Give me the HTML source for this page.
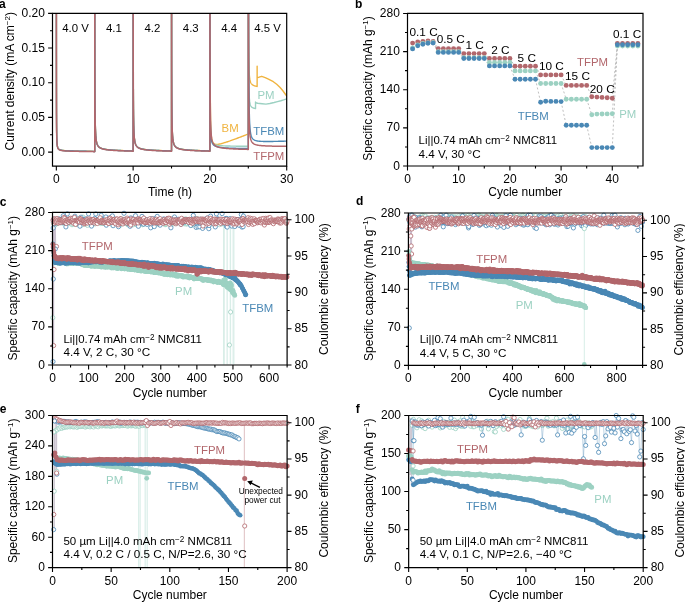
<!DOCTYPE html>
<html><head><meta charset="utf-8"><style>
html,body{margin:0;padding:0;background:#fff;}
svg{display:block;will-change:transform;}
text{font-family:"Liberation Sans",sans-serif;}
</style></head><body>
<svg width="685" height="602" viewBox="0 0 685 602">
<rect width="685" height="602" fill="#fff"/>
<defs><marker id="m0" markerWidth="10" markerHeight="10" refX="5" refY="5" markerUnits="userSpaceOnUse" overflow="visible"><circle cx="5" cy="5" r="2.1" fill="#fff" stroke="#9CD1C2" stroke-width="0.8"/></marker><marker id="m1" markerWidth="10" markerHeight="10" refX="5" refY="5" markerUnits="userSpaceOnUse" overflow="visible"><circle cx="5" cy="5" r="2.1" fill="#fff" stroke="#4A88B5" stroke-width="0.8"/></marker><marker id="m2" markerWidth="10" markerHeight="10" refX="5" refY="5" markerUnits="userSpaceOnUse" overflow="visible"><circle cx="5" cy="5" r="2.1" fill="#fff" stroke="#B2676C" stroke-width="0.8"/></marker><marker id="m3" markerWidth="10" markerHeight="10" refX="5" refY="5" markerUnits="userSpaceOnUse" overflow="visible"><circle cx="5" cy="5" r="2.4" fill="#9CD1C2"/></marker><marker id="m4" markerWidth="10" markerHeight="10" refX="5" refY="5" markerUnits="userSpaceOnUse" overflow="visible"><circle cx="5" cy="5" r="2.2" fill="#4A88B5"/></marker><marker id="m5" markerWidth="10" markerHeight="10" refX="5" refY="5" markerUnits="userSpaceOnUse" overflow="visible"><circle cx="5" cy="5" r="2.4" fill="#B2676C"/></marker><marker id="m6" markerWidth="10" markerHeight="10" refX="5" refY="5" markerUnits="userSpaceOnUse" overflow="visible"><circle cx="5" cy="5" r="2.3" fill="#9CD1C2"/></marker><marker id="m7" markerWidth="10" markerHeight="10" refX="5" refY="5" markerUnits="userSpaceOnUse" overflow="visible"><circle cx="5" cy="5" r="2.3" fill="#4A88B5"/></marker><marker id="m8" markerWidth="10" markerHeight="10" refX="5" refY="5" markerUnits="userSpaceOnUse" overflow="visible"><circle cx="5" cy="5" r="2.5" fill="#B2676C"/></marker><marker id="m9" markerWidth="10" markerHeight="10" refX="5" refY="5" markerUnits="userSpaceOnUse" overflow="visible"><circle cx="5" cy="5" r="2.5" fill="#9CD1C2"/></marker><marker id="m10" markerWidth="10" markerHeight="10" refX="5" refY="5" markerUnits="userSpaceOnUse" overflow="visible"><circle cx="5" cy="5" r="2.4" fill="#4A88B5"/></marker></defs>
<clipPath id="ca"><rect x="52.5" y="13.4" width="234.2" height="152.7"/></clipPath>
<g clip-path="url(#ca)">
<path d="M56.34,-16.60L56.37,-89.92L56.37,-74.34L56.38,-31.37L56.39,16.85L56.41,55.69L56.44,83.09L56.47,101.68L56.51,114.30L56.56,123.02L56.61,129.18L56.68,133.65L56.75,136.95L56.83,139.45L56.91,141.38L57.01,142.88L57.11,144.08L57.23,145.05L57.35,145.84L57.48,146.49L57.62,147.03L57.77,147.48L57.93,147.87L58.10,148.20L58.28,148.48L58.46,148.73L58.66,148.94L58.87,149.13L59.08,149.30L59.31,149.44L59.55,149.57L59.79,149.69L60.05,149.79L60.31,149.89L60.59,149.97L60.88,150.05L61.17,150.12L61.48,150.19L61.80,150.24L62.13,150.30L62.46,150.35L62.81,150.40L63.17,150.44L63.54,150.48L63.92,150.52L64.32,150.55L64.72,150.58L65.13,150.62L65.56,150.65L65.99,150.67L66.44,150.70L66.90,150.73L67.37,150.75L67.85,150.77L68.34,150.79L68.84,150.82L69.35,150.84L69.88,150.86L70.41,150.88L70.96,150.89L71.52,150.91L72.09,150.93L72.67,150.95L73.27,150.96L73.87,150.98L74.49,151.00L75.12,151.01L75.76,151.03L76.41,151.04L77.08,151.06L77.75,151.07L78.44,151.09L79.14,151.10L79.85,151.12L80.57,151.13L81.31,151.15L82.06,151.16L82.82,151.18L83.59,151.19L84.37,151.20L85.17,151.22L85.98,151.23L86.80,151.25L87.63,151.26L88.47,151.27L89.33,151.29L90.20,151.30L91.08,151.32L91.98,151.33L92.88,151.34L93.80,151.36L94.73,151.37L94.73,-16.60L94.76,-208.33L94.77,-189.19L94.77,-135.12L94.79,-71.55L94.80,-17.25L94.83,23.50L94.86,52.86L94.90,73.94L94.95,89.28L95.01,100.65L95.07,109.25L95.14,115.88L95.22,121.09L95.31,125.23L95.40,128.59L95.51,131.34L95.62,133.61L95.74,135.52L95.88,137.13L96.02,138.51L96.17,139.69L96.32,140.71L96.49,141.61L96.67,142.39L96.86,143.08L97.05,143.69L97.26,144.23L97.48,144.72L97.70,145.15L97.94,145.54L98.19,145.90L98.44,146.22L98.71,146.52L98.98,146.79L99.27,147.03L99.57,147.26L99.87,147.47L100.19,147.66L100.52,147.84L100.86,148.00L101.21,148.15L101.57,148.30L101.94,148.43L102.32,148.55L102.71,148.67L103.11,148.78L103.53,148.88L103.95,148.98L104.39,149.07L104.83,149.16L105.29,149.24L105.76,149.32L106.24,149.39L106.73,149.46L107.23,149.53L107.75,149.59L108.27,149.66L108.81,149.71L109.36,149.77L109.91,149.82L110.49,149.87L111.07,149.92L111.66,149.97L112.27,150.02L112.88,150.06L113.51,150.10L114.15,150.15L114.81,150.19L115.47,150.22L116.15,150.26L116.83,150.30L117.53,150.33L118.24,150.37L118.97,150.40L119.70,150.43L120.45,150.47L121.21,150.50L121.98,150.53L122.77,150.56L123.56,150.59L124.37,150.62L125.19,150.65L126.02,150.67L126.87,150.70L127.72,150.73L128.59,150.75L129.47,150.78L130.37,150.81L131.28,150.83L132.19,150.86L133.13,150.88L133.13,-16.60L133.16,-208.33L133.16,-189.19L133.17,-135.12L133.18,-71.55L133.20,-17.25L133.22,23.50L133.26,52.86L133.30,73.94L133.34,89.28L133.40,100.65L133.46,109.25L133.53,115.88L133.61,121.09L133.70,125.23L133.80,128.59L133.90,131.34L134.02,133.61L134.14,135.52L134.27,137.13L134.41,138.51L134.56,139.69L134.72,140.71L134.89,141.61L135.06,142.39L135.25,143.08L135.45,143.69L135.65,144.23L135.87,144.72L136.10,145.15L136.33,145.54L136.58,145.90L136.83,146.22L137.10,146.52L137.38,146.79L137.66,147.03L137.96,147.26L138.27,147.47L138.58,147.66L138.91,147.84L139.25,148.00L139.60,148.15L139.96,148.30L140.33,148.43L140.71,148.55L141.10,148.67L141.51,148.78L141.92,148.88L142.34,148.98L142.78,149.07L143.23,149.16L143.68,149.24L144.15,149.32L144.63,149.39L145.12,149.46L145.63,149.53L146.14,149.59L146.66,149.66L147.20,149.71L147.75,149.77L148.31,149.82L148.88,149.87L149.46,149.92L150.06,149.97L150.66,150.02L151.28,150.06L151.91,150.10L152.55,150.15L153.20,150.19L153.86,150.22L154.54,150.26L155.23,150.30L155.93,150.33L156.64,150.37L157.36,150.40L158.10,150.43L158.84,150.47L159.60,150.50L160.37,150.53L161.16,150.56L161.95,150.59L162.76,150.62L163.58,150.65L164.42,150.67L165.26,150.70L166.12,150.73L166.99,150.75L167.87,150.78L168.76,150.81L169.67,150.83L170.59,150.86L171.52,150.88L171.52,-16.60L171.55,-208.33L171.55,-189.19L171.56,-135.12L171.57,-71.55L171.59,-17.25L171.62,23.50L171.65,52.86L171.69,73.94L171.74,89.28L171.79,100.65L171.86,109.25L171.93,115.88L172.01,121.09L172.09,125.23L172.19,128.59L172.30,131.34L172.41,133.61L172.53,135.52L172.66,137.13L172.80,138.51L172.95,139.69L173.11,140.71L173.28,141.61L173.46,142.39L173.64,143.08L173.84,143.69L174.05,144.23L174.26,144.72L174.49,145.15L174.73,145.54L174.97,145.90L175.23,146.22L175.49,146.52L175.77,146.79L176.06,147.03L176.35,147.26L176.66,147.47L176.98,147.66L177.31,147.84L177.64,148.00L177.99,148.15L178.35,148.30L178.72,148.43L179.10,148.55L179.50,148.67L179.90,148.78L180.31,148.88L180.74,148.98L181.17,149.07L181.62,149.16L182.08,149.24L182.55,149.32L183.03,149.39L183.52,149.46L184.02,149.53L184.53,149.59L185.06,149.66L185.59,149.71L186.14,149.77L186.70,149.82L187.27,149.87L187.85,149.92L188.45,149.97L189.05,150.02L189.67,150.06L190.30,150.10L190.94,150.15L191.59,150.19L192.26,150.22L192.93,150.26L193.62,150.30L194.32,150.33L195.03,150.37L195.75,150.40L196.49,150.43L197.24,150.47L198.00,150.50L198.77,150.53L199.55,150.56L200.35,150.59L201.16,150.62L201.98,150.65L202.81,150.67L203.65,150.70L204.51,150.73L205.38,150.75L206.26,150.78L207.16,150.81L208.06,150.83L208.98,150.86L209.91,150.88L209.91,-16.60L209.94,-1216.96L209.95,-1113.38L209.95,-834.80L209.97,-536.31L209.98,-309.58L210.01,-159.21L210.04,-63.19L210.08,-1.56L210.13,38.88L210.19,66.15L210.25,85.05L210.32,98.50L210.40,108.29L210.49,115.57L210.58,121.10L210.69,125.36L210.80,128.70L210.92,131.35L211.06,133.48L211.20,135.21L211.35,136.63L211.51,137.81L211.67,138.79L211.85,139.62L212.04,140.32L212.23,140.93L212.44,141.44L212.66,141.89L212.88,142.28L213.12,142.61L213.37,142.91L213.62,143.17L213.89,143.40L214.16,143.61L214.45,143.79L214.75,143.95L215.05,144.10L215.37,144.23L215.70,144.35L216.04,144.46L216.39,144.48L216.75,144.47L217.12,144.45L217.50,144.41L217.89,144.36L218.29,144.30L218.71,144.23L219.13,144.15L219.57,144.05L220.01,143.95L220.47,143.84L220.94,143.73L221.42,143.60L221.91,143.47L222.41,143.33L222.93,143.18L223.45,143.03L223.99,142.87L224.54,142.70L225.10,142.52L225.67,142.34L226.25,142.15L226.84,141.96L227.45,141.76L228.06,141.55L228.69,141.33L229.33,141.11L229.99,140.89L230.65,140.65L231.33,140.41L232.01,140.17L232.71,139.92L233.42,139.66L234.15,139.40L234.88,139.13L235.63,138.85L236.39,138.57L237.16,138.28L237.95,137.99L238.74,137.69L239.55,137.38L240.37,137.07L241.20,136.75L242.05,136.42L242.90,136.09L243.77,135.75L244.66,135.41L245.55,135.06L246.46,134.70L247.38,134.34L248.31,133.97L248.31,-16.60L248.34,-345.47L248.34,-330.77L248.34,-285.29L248.35,-223.10L248.36,-161.02L248.37,-108.13L248.39,-66.42L248.42,-34.57L248.44,-10.47L248.47,7.85L248.51,21.89L248.55,32.80L248.59,41.37L248.64,48.20L248.70,53.71L248.75,58.20L248.82,61.90L248.89,64.98L248.96,67.57L249.04,69.76L249.12,71.63L249.21,73.23L249.31,74.62L249.40,75.82L249.51,76.88L249.62,77.81L249.74,78.63L249.86,79.36L249.98,80.00L250.11,80.59L250.25,81.11L250.40,81.57L250.54,82.00L250.70,82.38L250.86,82.73L251.03,83.05L251.20,83.34L251.38,83.61L251.56,83.85L251.75,84.08L251.94,84.29L252.14,84.48L252.35,84.66L252.57,84.82L252.78,84.97L253.01,85.12L253.24,85.25L253.48,85.37L253.72,85.49L253.97,85.60L254.23,85.70L254.49,85.79L254.76,85.88L255.04,85.97L255.32,86.05L255.60,86.12L255.90,86.19L256.20,86.26L256.50,86.32L256.82,86.38L257.14,86.44L257.14,66.10L257.14,77.48L259.06,77.20L261.74,76.30L265.20,77.55L268.42,79.21L273.34,81.71L276.72,84.27L280.10,87.46L282.86,90.72L285.93,95.02L287.47,96.62" fill="none" stroke="#F0B440" stroke-width="1.4" stroke-linejoin="round"/>
<path d="M56.34,-16.60L56.37,-89.85L56.37,-74.27L56.38,-31.30L56.39,16.92L56.41,55.76L56.44,83.16L56.47,101.75L56.51,114.37L56.56,123.08L56.61,129.25L56.68,133.71L56.75,137.02L56.83,139.52L56.91,141.45L57.01,142.95L57.11,144.15L57.23,145.12L57.35,145.91L57.48,146.56L57.62,147.10L57.77,147.55L57.93,147.94L58.10,148.27L58.28,148.55L58.46,148.80L58.66,149.01L58.87,149.20L59.08,149.37L59.31,149.51L59.55,149.64L59.79,149.76L60.05,149.86L60.31,149.96L60.59,150.04L60.88,150.12L61.17,150.19L61.48,150.25L61.80,150.31L62.13,150.37L62.46,150.42L62.81,150.46L63.17,150.51L63.54,150.55L63.92,150.59L64.32,150.62L64.72,150.65L65.13,150.69L65.56,150.71L65.99,150.74L66.44,150.77L66.90,150.79L67.37,150.82L67.85,150.84L68.34,150.86L68.84,150.89L69.35,150.91L69.88,150.93L70.41,150.95L70.96,150.96L71.52,150.98L72.09,151.00L72.67,151.02L73.27,151.03L73.87,151.05L74.49,151.07L75.12,151.08L75.76,151.10L76.41,151.11L77.08,151.13L77.75,151.14L78.44,151.16L79.14,151.17L79.85,151.19L80.57,151.20L81.31,151.22L82.06,151.23L82.82,151.24L83.59,151.26L84.37,151.27L85.17,151.29L85.98,151.30L86.80,151.32L87.63,151.33L88.47,151.34L89.33,151.36L90.20,151.37L91.08,151.39L91.98,151.40L92.88,151.41L93.80,151.43L94.73,151.44L94.73,-16.60L94.76,-208.26L94.77,-189.12L94.77,-135.05L94.79,-71.48L94.80,-17.18L94.83,23.57L94.86,52.93L94.90,74.01L94.95,89.35L95.01,100.72L95.07,109.32L95.14,115.95L95.22,121.16L95.31,125.30L95.40,128.66L95.51,131.41L95.62,133.68L95.74,135.59L95.88,137.20L96.02,138.58L96.17,139.76L96.32,140.78L96.49,141.68L96.67,142.46L96.86,143.15L97.05,143.76L97.26,144.30L97.48,144.78L97.70,145.22L97.94,145.61L98.19,145.97L98.44,146.29L98.71,146.59L98.98,146.85L99.27,147.10L99.57,147.33L99.87,147.53L100.19,147.73L100.52,147.90L100.86,148.07L101.21,148.22L101.57,148.37L101.94,148.50L102.32,148.62L102.71,148.74L103.11,148.85L103.53,148.95L103.95,149.05L104.39,149.14L104.83,149.23L105.29,149.31L105.76,149.39L106.24,149.46L106.73,149.53L107.23,149.60L107.75,149.66L108.27,149.72L108.81,149.78L109.36,149.84L109.91,149.89L110.49,149.94L111.07,149.99L111.66,150.04L112.27,150.09L112.88,150.13L113.51,150.17L114.15,150.21L114.81,150.25L115.47,150.29L116.15,150.33L116.83,150.37L117.53,150.40L118.24,150.44L118.97,150.47L119.70,150.50L120.45,150.54L121.21,150.57L121.98,150.60L122.77,150.63L123.56,150.66L124.37,150.69L125.19,150.71L126.02,150.74L126.87,150.77L127.72,150.80L128.59,150.82L129.47,150.85L130.37,150.88L131.28,150.90L132.19,150.93L133.13,150.95L133.13,-16.60L133.16,-208.26L133.16,-189.12L133.17,-135.05L133.18,-71.48L133.20,-17.18L133.22,23.57L133.26,52.93L133.30,74.01L133.34,89.35L133.40,100.72L133.46,109.32L133.53,115.95L133.61,121.16L133.70,125.30L133.80,128.66L133.90,131.41L134.02,133.68L134.14,135.59L134.27,137.20L134.41,138.58L134.56,139.76L134.72,140.78L134.89,141.68L135.06,142.46L135.25,143.15L135.45,143.76L135.65,144.30L135.87,144.78L136.10,145.22L136.33,145.61L136.58,145.97L136.83,146.29L137.10,146.59L137.38,146.85L137.66,147.10L137.96,147.33L138.27,147.53L138.58,147.73L138.91,147.90L139.25,148.07L139.60,148.22L139.96,148.37L140.33,148.50L140.71,148.62L141.10,148.74L141.51,148.85L141.92,148.95L142.34,149.05L142.78,149.14L143.23,149.23L143.68,149.31L144.15,149.39L144.63,149.46L145.12,149.53L145.63,149.60L146.14,149.66L146.66,149.72L147.20,149.78L147.75,149.84L148.31,149.89L148.88,149.94L149.46,149.99L150.06,150.04L150.66,150.09L151.28,150.13L151.91,150.17L152.55,150.21L153.20,150.25L153.86,150.29L154.54,150.33L155.23,150.37L155.93,150.40L156.64,150.44L157.36,150.47L158.10,150.50L158.84,150.54L159.60,150.57L160.37,150.60L161.16,150.63L161.95,150.66L162.76,150.69L163.58,150.71L164.42,150.74L165.26,150.77L166.12,150.80L166.99,150.82L167.87,150.85L168.76,150.88L169.67,150.90L170.59,150.93L171.52,150.95L171.52,-16.60L171.55,-208.26L171.55,-189.12L171.56,-135.05L171.57,-71.48L171.59,-17.18L171.62,23.57L171.65,52.93L171.69,74.01L171.74,89.35L171.79,100.72L171.86,109.32L171.93,115.95L172.01,121.16L172.09,125.30L172.19,128.66L172.30,131.41L172.41,133.68L172.53,135.59L172.66,137.20L172.80,138.58L172.95,139.76L173.11,140.78L173.28,141.68L173.46,142.46L173.64,143.15L173.84,143.76L174.05,144.30L174.26,144.78L174.49,145.22L174.73,145.61L174.97,145.97L175.23,146.29L175.49,146.59L175.77,146.85L176.06,147.10L176.35,147.33L176.66,147.53L176.98,147.73L177.31,147.90L177.64,148.07L177.99,148.22L178.35,148.37L178.72,148.50L179.10,148.62L179.50,148.74L179.90,148.85L180.31,148.95L180.74,149.05L181.17,149.14L181.62,149.23L182.08,149.31L182.55,149.39L183.03,149.46L183.52,149.53L184.02,149.60L184.53,149.66L185.06,149.72L185.59,149.78L186.14,149.84L186.70,149.89L187.27,149.94L187.85,149.99L188.45,150.04L189.05,150.09L189.67,150.13L190.30,150.17L190.94,150.21L191.59,150.25L192.26,150.29L192.93,150.33L193.62,150.37L194.32,150.40L195.03,150.44L195.75,150.47L196.49,150.50L197.24,150.54L198.00,150.57L198.77,150.60L199.55,150.63L200.35,150.66L201.16,150.69L201.98,150.71L202.81,150.74L203.65,150.77L204.51,150.80L205.38,150.82L206.26,150.85L207.16,150.88L208.06,150.90L208.98,150.93L209.91,150.95L209.91,-16.60L209.94,-165.51L209.95,-147.10L209.95,-95.72L209.97,-36.71L209.98,12.25L210.01,47.87L210.04,72.77L210.08,90.15L210.13,102.48L210.19,111.41L210.25,118.01L210.32,123.00L210.40,126.84L210.49,129.85L210.58,132.25L210.69,134.18L210.80,135.76L210.92,137.07L211.06,138.16L211.20,139.08L211.35,139.86L211.51,140.52L211.67,141.10L211.85,141.60L212.04,142.03L212.23,142.42L212.44,142.75L212.66,143.05L212.88,143.32L213.12,143.56L213.37,143.77L213.62,143.96L213.89,144.13L214.16,144.29L214.45,144.43L214.75,144.56L215.05,144.68L215.37,144.79L215.70,144.89L216.04,144.98L216.39,145.06L216.75,145.14L217.12,145.21L217.50,145.28L217.89,145.34L218.29,145.40L218.71,145.45L219.13,145.50L219.57,145.55L220.01,145.60L220.47,145.64L220.94,145.68L221.42,145.71L221.91,145.75L222.41,145.78L222.93,145.81L223.45,145.84L223.99,145.86L224.54,145.89L225.10,145.91L225.67,145.94L226.25,145.96L226.84,145.98L227.45,146.00L228.06,146.02L228.69,146.03L229.33,146.05L229.99,146.07L230.65,146.08L231.33,146.10L232.01,146.11L232.71,146.12L233.42,146.14L234.15,146.15L234.88,146.16L235.63,146.17L236.39,146.18L237.16,146.19L237.95,146.20L238.74,146.21L239.55,146.22L240.37,146.23L241.20,146.24L242.05,146.25L242.90,146.25L243.77,146.26L244.66,146.27L245.55,146.28L246.46,146.28L247.38,146.29L248.31,146.29L248.31,-16.60L248.34,-980.80L248.34,-941.48L248.34,-818.84L248.35,-649.50L248.36,-479.91L248.37,-336.64L248.38,-225.94L248.40,-143.94L248.42,-84.09L248.45,-40.39L248.48,-8.24L248.51,15.70L248.55,33.77L248.59,47.59L248.63,58.31L248.68,66.72L248.73,73.41L248.79,78.78L248.85,83.15L248.91,86.73L248.98,89.69L249.05,92.16L249.13,94.23L249.21,95.99L249.29,97.48L249.38,98.76L249.48,99.87L249.58,100.82L249.68,101.66L249.79,102.38L249.90,103.02L250.02,103.59L250.14,104.09L250.27,104.53L250.40,104.93L250.53,105.28L250.67,105.60L250.82,105.89L250.97,106.15L251.12,106.38L251.28,106.59L251.45,106.78L251.62,106.96L251.79,107.12L251.97,107.27L252.15,107.40L252.34,107.52L252.54,107.64L252.74,107.74L252.94,107.84L253.15,107.93L253.36,108.01L253.58,108.09L253.81,108.16L254.04,108.23L254.27,108.29L254.51,108.35L254.76,108.40L255.01,108.45L255.26,108.50L255.52,108.54L255.52,102.02L255.99,102.72L257.60,103.27L262.13,103.76L265.97,104.10L269.81,103.55L274.11,102.51L277.49,101.61L280.86,100.78L283.63,99.94L285.93,99.11L287.47,98.70" fill="none" stroke="#9CD1C2" stroke-width="1.4" stroke-linejoin="round"/>
<path d="M56.34,-16.60L56.37,-89.78L56.37,-74.20L56.38,-31.23L56.39,16.99L56.41,55.83L56.44,83.23L56.47,101.82L56.51,114.43L56.56,123.15L56.61,129.32L56.68,133.78L56.75,137.09L56.83,139.59L56.91,141.51L57.01,143.02L57.11,144.22L57.23,145.19L57.35,145.97L57.48,146.62L57.62,147.17L57.77,147.62L57.93,148.01L58.10,148.34L58.28,148.62L58.46,148.86L58.66,149.08L58.87,149.27L59.08,149.43L59.31,149.58L59.55,149.71L59.79,149.82L60.05,149.93L60.31,150.02L60.59,150.10L60.88,150.18L61.17,150.25L61.48,150.31L61.80,150.37L62.13,150.43L62.46,150.48L62.81,150.52L63.17,150.56L63.54,150.60L63.92,150.64L64.32,150.68L64.72,150.71L65.13,150.74L65.56,150.77L65.99,150.79L66.44,150.82L66.90,150.84L67.37,150.87L67.85,150.89L68.34,150.91L68.84,150.93L69.35,150.95L69.88,150.97L70.41,150.99L70.96,151.01L71.52,151.02L72.09,151.04L72.67,151.06L73.27,151.07L73.87,151.09L74.49,151.10L75.12,151.12L75.76,151.13L76.41,151.15L77.08,151.16L77.75,151.17L78.44,151.19L79.14,151.20L79.85,151.21L80.57,151.23L81.31,151.24L82.06,151.25L82.82,151.27L83.59,151.28L84.37,151.29L85.17,151.30L85.98,151.32L86.80,151.33L87.63,151.34L88.47,151.35L89.33,151.37L90.20,151.38L91.08,151.39L91.98,151.40L92.88,151.42L93.80,151.43L94.73,151.44L94.73,-16.60L94.76,-208.19L94.77,-189.05L94.77,-134.98L94.79,-71.41L94.80,-17.12L94.83,23.64L94.86,52.99L94.90,74.07L94.95,89.42L95.01,100.79L95.07,109.39L95.14,116.02L95.22,121.22L95.31,125.37L95.40,128.73L95.51,131.47L95.62,133.75L95.74,135.66L95.88,137.27L96.02,138.65L96.17,139.83L96.32,140.85L96.49,141.74L96.67,142.52L96.86,143.21L97.05,143.82L97.26,144.36L97.48,144.85L97.70,145.28L97.94,145.68L98.19,146.03L98.44,146.36L98.71,146.65L98.98,146.92L99.27,147.16L99.57,147.39L99.87,147.59L100.19,147.79L100.52,147.96L100.86,148.13L101.21,148.28L101.57,148.42L101.94,148.56L102.32,148.68L102.71,148.80L103.11,148.90L103.53,149.01L103.95,149.10L104.39,149.19L104.83,149.28L105.29,149.36L105.76,149.44L106.24,149.51L106.73,149.58L107.23,149.65L107.75,149.71L108.27,149.77L108.81,149.83L109.36,149.88L109.91,149.93L110.49,149.98L111.07,150.03L111.66,150.08L112.27,150.12L112.88,150.17L113.51,150.21L114.15,150.25L114.81,150.29L115.47,150.33L116.15,150.36L116.83,150.40L117.53,150.43L118.24,150.46L118.97,150.50L119.70,150.53L120.45,150.56L121.21,150.59L121.98,150.62L122.77,150.65L123.56,150.67L124.37,150.70L125.19,150.73L126.02,150.76L126.87,150.78L127.72,150.81L128.59,150.83L129.47,150.86L130.37,150.88L131.28,150.90L132.19,150.93L133.13,150.95L133.13,-16.60L133.16,-208.19L133.16,-189.05L133.17,-134.98L133.18,-71.41L133.20,-17.12L133.22,23.64L133.26,52.99L133.30,74.07L133.34,89.42L133.40,100.79L133.46,109.39L133.53,116.02L133.61,121.22L133.70,125.37L133.80,128.73L133.90,131.47L134.02,133.75L134.14,135.66L134.27,137.27L134.41,138.65L134.56,139.83L134.72,140.85L134.89,141.74L135.06,142.52L135.25,143.21L135.45,143.82L135.65,144.36L135.87,144.85L136.10,145.28L136.33,145.68L136.58,146.03L136.83,146.36L137.10,146.65L137.38,146.92L137.66,147.16L137.96,147.39L138.27,147.59L138.58,147.79L138.91,147.96L139.25,148.13L139.60,148.28L139.96,148.42L140.33,148.56L140.71,148.68L141.10,148.80L141.51,148.90L141.92,149.01L142.34,149.10L142.78,149.19L143.23,149.28L143.68,149.36L144.15,149.44L144.63,149.51L145.12,149.58L145.63,149.65L146.14,149.71L146.66,149.77L147.20,149.83L147.75,149.88L148.31,149.93L148.88,149.98L149.46,150.03L150.06,150.08L150.66,150.12L151.28,150.17L151.91,150.21L152.55,150.25L153.20,150.29L153.86,150.33L154.54,150.36L155.23,150.40L155.93,150.43L156.64,150.46L157.36,150.50L158.10,150.53L158.84,150.56L159.60,150.59L160.37,150.62L161.16,150.65L161.95,150.67L162.76,150.70L163.58,150.73L164.42,150.76L165.26,150.78L166.12,150.81L166.99,150.83L167.87,150.86L168.76,150.88L169.67,150.90L170.59,150.93L171.52,150.95L171.52,-16.60L171.55,-208.19L171.55,-189.05L171.56,-134.98L171.57,-71.41L171.59,-17.12L171.62,23.64L171.65,52.99L171.69,74.07L171.74,89.42L171.79,100.79L171.86,109.39L171.93,116.02L172.01,121.22L172.09,125.37L172.19,128.73L172.30,131.47L172.41,133.75L172.53,135.66L172.66,137.27L172.80,138.65L172.95,139.83L173.11,140.85L173.28,141.74L173.46,142.52L173.64,143.21L173.84,143.82L174.05,144.36L174.26,144.85L174.49,145.28L174.73,145.68L174.97,146.03L175.23,146.36L175.49,146.65L175.77,146.92L176.06,147.16L176.35,147.39L176.66,147.59L176.98,147.79L177.31,147.96L177.64,148.13L177.99,148.28L178.35,148.42L178.72,148.56L179.10,148.68L179.50,148.80L179.90,148.90L180.31,149.01L180.74,149.10L181.17,149.19L181.62,149.28L182.08,149.36L182.55,149.44L183.03,149.51L183.52,149.58L184.02,149.65L184.53,149.71L185.06,149.77L185.59,149.83L186.14,149.88L186.70,149.93L187.27,149.98L187.85,150.03L188.45,150.08L189.05,150.12L189.67,150.17L190.30,150.21L190.94,150.25L191.59,150.29L192.26,150.33L192.93,150.36L193.62,150.40L194.32,150.43L195.03,150.46L195.75,150.50L196.49,150.53L197.24,150.56L198.00,150.59L198.77,150.62L199.55,150.65L200.35,150.67L201.16,150.70L201.98,150.73L202.81,150.76L203.65,150.78L204.51,150.81L205.38,150.83L206.26,150.86L207.16,150.88L208.06,150.90L208.98,150.93L209.91,150.95L209.91,-16.60L209.94,-150.45L209.95,-134.51L209.95,-89.45L209.97,-36.47L209.98,8.77L210.01,42.74L210.04,67.20L210.08,84.77L210.13,97.55L210.19,107.03L210.25,114.19L210.32,119.72L210.40,124.05L210.49,127.51L210.58,130.30L210.69,132.59L210.80,134.49L210.92,136.08L211.06,137.42L211.20,138.57L211.35,139.55L211.51,140.40L211.67,141.14L211.85,141.79L212.04,142.36L212.23,142.87L212.44,143.32L212.66,143.72L212.88,144.09L213.12,144.41L213.37,144.71L213.62,144.97L213.89,145.22L214.16,145.44L214.45,145.64L214.75,145.82L215.05,146.00L215.37,146.15L215.70,146.30L216.04,146.43L216.39,146.56L216.75,146.67L217.12,146.78L217.50,146.88L217.89,146.98L218.29,147.06L218.71,147.15L219.13,147.22L219.57,147.30L220.01,147.36L220.47,147.43L220.94,147.49L221.42,147.55L221.91,147.60L222.41,147.65L222.93,147.70L223.45,147.75L223.99,147.79L224.54,147.83L225.10,147.87L225.67,147.91L226.25,147.95L226.84,147.98L227.45,148.01L228.06,148.05L228.69,148.08L229.33,148.10L229.99,148.13L230.65,148.16L231.33,148.18L232.01,148.21L232.71,148.23L233.42,148.25L234.15,148.28L234.88,148.30L235.63,148.32L236.39,148.34L237.16,148.36L237.95,148.37L238.74,148.39L239.55,148.41L240.37,148.42L241.20,148.44L242.05,148.46L242.90,148.47L243.77,148.49L244.66,148.50L245.55,148.51L246.46,148.53L247.38,148.54L248.31,148.55L248.31,-16.60L248.34,-3802.62L248.34,-3474.67L248.35,-2608.07L248.36,-1708.35L248.38,-1050.11L248.41,-629.60L248.44,-370.23L248.48,-208.89L248.53,-105.96L248.58,-38.30L248.65,7.54L248.72,39.46L248.80,62.27L248.89,78.93L248.99,91.37L249.10,100.81L249.21,108.09L249.34,113.80L249.47,118.33L249.62,121.96L249.77,124.91L249.93,127.33L250.10,129.33L250.28,130.99L250.47,132.39L250.67,133.57L250.88,134.58L251.11,135.44L251.34,136.18L251.58,136.82L251.83,137.37L252.09,137.85L252.36,138.27L252.64,138.64L252.93,138.97L253.24,139.26L253.55,139.51L253.87,139.74L254.21,139.94L254.55,140.12L254.91,140.28L255.28,140.42L255.65,140.55L256.04,140.67L256.44,140.77L256.85,140.86L257.28,140.94L257.71,141.02L258.15,141.08L258.61,141.14L259.08,141.19L259.55,141.24L260.04,141.28L260.54,141.32L261.06,141.35L261.58,141.38L262.12,141.40L262.66,141.42L263.22,141.44L263.79,141.45L264.37,141.46L264.97,141.47L265.57,141.48L266.19,141.48L266.82,141.49L267.46,141.49L268.12,141.49L268.78,141.48L269.46,141.48L270.15,141.47L270.85,141.46L271.56,141.45L272.29,141.44L273.03,141.43L273.78,141.42L274.54,141.40L275.31,141.39L276.10,141.37L276.90,141.35L277.71,141.33L278.54,141.31L279.37,141.29L280.22,141.27L281.08,141.25L281.96,141.23L282.84,141.20L283.74,141.18L284.66,141.15L285.58,141.12L286.52,141.10L287.47,141.07" fill="none" stroke="#4A88B5" stroke-width="1.4" stroke-linejoin="round"/>
<path d="M56.34,-16.60L56.37,-89.64L56.37,-74.06L56.38,-31.09L56.39,17.13L56.41,55.97L56.44,83.37L56.47,101.95L56.51,114.57L56.56,123.29L56.61,129.46L56.68,133.92L56.75,137.23L56.83,139.73L56.91,141.65L57.01,143.16L57.11,144.36L57.23,145.33L57.35,146.11L57.48,146.76L57.62,147.31L57.77,147.76L57.93,148.15L58.10,148.48L58.28,148.76L58.46,149.01L58.66,149.22L58.87,149.41L59.08,149.57L59.31,149.72L59.55,149.85L59.79,149.97L60.05,150.07L60.31,150.17L60.59,150.25L60.88,150.33L61.17,150.40L61.48,150.46L61.80,150.52L62.13,150.58L62.46,150.63L62.81,150.67L63.17,150.72L63.54,150.76L63.92,150.79L64.32,150.83L64.72,150.86L65.13,150.89L65.56,150.92L65.99,150.95L66.44,150.98L66.90,151.00L67.37,151.03L67.85,151.05L68.34,151.07L68.84,151.09L69.35,151.11L69.88,151.13L70.41,151.15L70.96,151.17L71.52,151.19L72.09,151.21L72.67,151.22L73.27,151.24L73.87,151.26L74.49,151.27L75.12,151.29L75.76,151.31L76.41,151.32L77.08,151.34L77.75,151.35L78.44,151.37L79.14,151.38L79.85,151.40L80.57,151.41L81.31,151.42L82.06,151.44L82.82,151.45L83.59,151.47L84.37,151.48L85.17,151.49L85.98,151.51L86.80,151.52L87.63,151.54L88.47,151.55L89.33,151.57L90.20,151.58L91.08,151.59L91.98,151.61L92.88,151.62L93.80,151.64L94.73,151.65L94.73,-16.60L94.76,-208.05L94.77,-188.91L94.77,-134.84L94.79,-71.27L94.80,-16.98L94.83,23.78L94.86,53.13L94.90,74.21L94.95,89.55L95.01,100.93L95.07,109.53L95.14,116.16L95.22,121.36L95.31,125.51L95.40,128.87L95.51,131.61L95.62,133.89L95.74,135.80L95.88,137.41L96.02,138.79L96.17,139.97L96.32,140.99L96.49,141.88L96.67,142.66L96.86,143.35L97.05,143.96L97.26,144.51L97.48,144.99L97.70,145.43L97.94,145.82L98.19,146.18L98.44,146.50L98.71,146.79L98.98,147.06L99.27,147.31L99.57,147.53L99.87,147.74L100.19,147.93L100.52,148.11L100.86,148.28L101.21,148.43L101.57,148.57L101.94,148.71L102.32,148.83L102.71,148.95L103.11,149.06L103.53,149.16L103.95,149.26L104.39,149.35L104.83,149.44L105.29,149.52L105.76,149.60L106.24,149.67L106.73,149.74L107.23,149.81L107.75,149.87L108.27,149.93L108.81,149.99L109.36,150.05L109.91,150.10L110.49,150.15L111.07,150.20L111.66,150.25L112.27,150.29L112.88,150.34L113.51,150.38L114.15,150.42L114.81,150.46L115.47,150.50L116.15,150.54L116.83,150.58L117.53,150.61L118.24,150.65L118.97,150.68L119.70,150.71L120.45,150.74L121.21,150.78L121.98,150.81L122.77,150.84L123.56,150.87L124.37,150.89L125.19,150.92L126.02,150.95L126.87,150.98L127.72,151.00L128.59,151.03L129.47,151.06L130.37,151.08L131.28,151.11L132.19,151.13L133.13,151.16L133.13,-16.60L133.16,-208.05L133.16,-188.91L133.17,-134.84L133.18,-71.27L133.20,-16.98L133.22,23.78L133.26,53.13L133.30,74.21L133.34,89.55L133.40,100.93L133.46,109.53L133.53,116.16L133.61,121.36L133.70,125.51L133.80,128.87L133.90,131.61L134.02,133.89L134.14,135.80L134.27,137.41L134.41,138.79L134.56,139.97L134.72,140.99L134.89,141.88L135.06,142.66L135.25,143.35L135.45,143.96L135.65,144.51L135.87,144.99L136.10,145.43L136.33,145.82L136.58,146.18L136.83,146.50L137.10,146.79L137.38,147.06L137.66,147.31L137.96,147.53L138.27,147.74L138.58,147.93L138.91,148.11L139.25,148.28L139.60,148.43L139.96,148.57L140.33,148.71L140.71,148.83L141.10,148.95L141.51,149.06L141.92,149.16L142.34,149.26L142.78,149.35L143.23,149.44L143.68,149.52L144.15,149.60L144.63,149.67L145.12,149.74L145.63,149.81L146.14,149.87L146.66,149.93L147.20,149.99L147.75,150.05L148.31,150.10L148.88,150.15L149.46,150.20L150.06,150.25L150.66,150.29L151.28,150.34L151.91,150.38L152.55,150.42L153.20,150.46L153.86,150.50L154.54,150.54L155.23,150.58L155.93,150.61L156.64,150.65L157.36,150.68L158.10,150.71L158.84,150.74L159.60,150.78L160.37,150.81L161.16,150.84L161.95,150.87L162.76,150.89L163.58,150.92L164.42,150.95L165.26,150.98L166.12,151.00L166.99,151.03L167.87,151.06L168.76,151.08L169.67,151.11L170.59,151.13L171.52,151.16L171.52,-16.60L171.55,-208.05L171.55,-188.91L171.56,-134.84L171.57,-71.27L171.59,-16.98L171.62,23.78L171.65,53.13L171.69,74.21L171.74,89.55L171.79,100.93L171.86,109.53L171.93,116.16L172.01,121.36L172.09,125.51L172.19,128.87L172.30,131.61L172.41,133.89L172.53,135.80L172.66,137.41L172.80,138.79L172.95,139.97L173.11,140.99L173.28,141.88L173.46,142.66L173.64,143.35L173.84,143.96L174.05,144.51L174.26,144.99L174.49,145.43L174.73,145.82L174.97,146.18L175.23,146.50L175.49,146.79L175.77,147.06L176.06,147.31L176.35,147.53L176.66,147.74L176.98,147.93L177.31,148.11L177.64,148.28L177.99,148.43L178.35,148.57L178.72,148.71L179.10,148.83L179.50,148.95L179.90,149.06L180.31,149.16L180.74,149.26L181.17,149.35L181.62,149.44L182.08,149.52L182.55,149.60L183.03,149.67L183.52,149.74L184.02,149.81L184.53,149.87L185.06,149.93L185.59,149.99L186.14,150.05L186.70,150.10L187.27,150.15L187.85,150.20L188.45,150.25L189.05,150.29L189.67,150.34L190.30,150.38L190.94,150.42L191.59,150.46L192.26,150.50L192.93,150.54L193.62,150.58L194.32,150.61L195.03,150.65L195.75,150.68L196.49,150.71L197.24,150.74L198.00,150.78L198.77,150.81L199.55,150.84L200.35,150.87L201.16,150.89L201.98,150.92L202.81,150.95L203.65,150.98L204.51,151.00L205.38,151.03L206.26,151.06L207.16,151.08L208.06,151.11L208.98,151.13L209.91,151.16L209.91,-16.60L209.94,-299.27L209.95,-275.35L209.95,-207.76L209.97,-128.30L209.98,-60.42L210.01,-9.47L210.04,27.21L210.08,53.56L210.13,72.74L210.19,86.96L210.25,97.71L210.32,106.00L210.40,112.50L210.49,117.68L210.58,121.87L210.69,125.31L210.80,128.15L210.92,130.54L211.06,132.55L211.20,134.27L211.35,135.75L211.51,137.02L211.67,138.14L211.85,139.11L212.04,139.97L212.23,140.73L212.44,141.41L212.66,142.02L212.88,142.56L213.12,143.05L213.37,143.49L213.62,143.89L213.89,144.26L214.16,144.59L214.45,144.90L214.75,145.18L215.05,145.43L215.37,145.67L215.70,145.89L216.04,146.09L216.39,146.28L216.75,146.46L217.12,146.62L217.50,146.77L217.89,146.92L218.29,147.05L218.71,147.17L219.13,147.29L219.57,147.40L220.01,147.51L220.47,147.61L220.94,147.70L221.42,147.79L221.91,147.87L222.41,147.95L222.93,148.03L223.45,148.10L223.99,148.17L224.54,148.23L225.10,148.29L225.67,148.35L226.25,148.41L226.84,148.46L227.45,148.52L228.06,148.57L228.69,148.61L229.33,148.66L229.99,148.70L230.65,148.75L231.33,148.79L232.01,148.83L232.71,148.87L233.42,148.90L234.15,148.94L234.88,148.97L235.63,149.01L236.39,149.04L237.16,149.07L237.95,149.10L238.74,149.13L239.55,149.16L240.37,149.19L241.20,149.22L242.05,149.24L242.90,149.27L243.77,149.30L244.66,149.32L245.55,149.35L246.46,149.37L247.38,149.39L248.31,149.42L248.31,-16.60L248.34,-1265.64L248.34,-1164.40L248.35,-890.10L248.36,-591.63L248.38,-359.92L248.41,-202.36L248.44,-99.10L248.48,-31.14L248.53,14.53L248.58,46.01L248.65,68.29L248.72,84.45L248.80,96.43L248.89,105.50L248.99,112.48L249.10,117.95L249.21,122.29L249.34,125.78L249.47,128.62L249.62,130.96L249.77,132.90L249.93,134.53L250.10,135.90L250.28,137.07L250.47,138.07L250.67,138.93L250.88,139.68L251.11,140.33L251.34,140.90L251.58,141.40L251.83,141.84L252.09,142.23L252.36,142.58L252.64,142.90L252.93,143.18L253.24,143.43L253.55,143.65L253.87,143.86L254.21,144.05L254.55,144.22L254.91,144.37L255.28,144.51L255.65,144.64L256.04,144.76L256.44,144.87L256.85,144.97L257.28,145.06L257.71,145.15L258.15,145.22L258.61,145.30L259.08,145.37L259.55,145.43L260.04,145.49L260.54,145.54L261.06,145.59L261.58,145.64L262.12,145.69L262.66,145.73L263.22,145.77L263.79,145.81L264.37,145.84L264.97,145.87L265.57,145.91L266.19,145.93L266.82,145.96L267.46,145.99L268.12,146.01L268.78,146.04L269.46,146.06L270.15,146.08L270.85,146.10L271.56,146.12L272.29,146.14L273.03,146.15L273.78,146.17L274.54,146.19L275.31,146.20L276.10,146.21L276.90,146.23L277.71,146.24L278.54,146.25L279.37,146.26L280.22,146.27L281.08,146.29L281.96,146.30L282.84,146.31L283.74,146.31L284.66,146.32L285.58,146.33L286.52,146.34L287.47,146.35" fill="none" stroke="#B2676C" stroke-width="1.5" stroke-linejoin="round"/>
</g>
<path d="M52.50,13.40H286.70V166.10H52.50Z" fill="none" stroke="#000" stroke-width="1.2"/>
<path d="M56.34,166.10v4.4M133.13,166.10v4.4M209.91,166.10v4.4M286.70,166.10v4.4M94.73,166.10v2.5M171.52,166.10v2.5M248.31,166.10v2.5" stroke="#000" stroke-width="1.1" fill="none"/>
<text x="56.34" y="183.00" text-anchor="middle" font-size="12.0" fill="#000">0</text>
<text x="133.13" y="183.00" text-anchor="middle" font-size="12.0" fill="#000">10</text>
<text x="209.91" y="183.00" text-anchor="middle" font-size="12.0" fill="#000">20</text>
<text x="286.70" y="183.00" text-anchor="middle" font-size="12.0" fill="#000">30</text>
<path d="M52.50,152.09h-4.4M52.50,117.42h-4.4M52.50,82.75h-4.4M52.50,48.07h-4.4M52.50,13.40h-4.4M52.50,134.76h-2.5M52.50,100.08h-2.5M52.50,65.41h-2.5M52.50,30.74h-2.5" stroke="#000" stroke-width="1.1" fill="none"/>
<text x="44.90" y="155.59" text-anchor="end" font-size="12.0" fill="#000">0.00</text>
<text x="44.90" y="120.92" text-anchor="end" font-size="12.0" fill="#000">0.05</text>
<text x="44.90" y="86.25" text-anchor="end" font-size="12.0" fill="#000">0.10</text>
<text x="44.90" y="51.57" text-anchor="end" font-size="12.0" fill="#000">0.15</text>
<text x="44.90" y="16.90" text-anchor="end" font-size="12.0" fill="#000">0.20</text>
<text x="170.00" y="196.40" text-anchor="middle" font-size="12.0" fill="#000">Time (h)</text>
<text transform="translate(14.30,150.50) rotate(-90)" text-anchor="start" font-size="12.0">Current density (mA cm<tspan dy="-4.7" font-size="8.1">−2</tspan><tspan dy="4.7">)</tspan></text>
<text x="75.54" y="31.80" text-anchor="middle" font-size="11.4" fill="#000">4.0 V</text>
<text x="113.93" y="31.80" text-anchor="middle" font-size="11.4" fill="#000">4.1</text>
<text x="152.32" y="31.80" text-anchor="middle" font-size="11.4" fill="#000">4.2</text>
<text x="190.72" y="31.80" text-anchor="middle" font-size="11.4" fill="#000">4.3</text>
<text x="229.11" y="31.80" text-anchor="middle" font-size="11.4" fill="#000">4.4</text>
<text x="267.50" y="31.80" text-anchor="middle" font-size="11.4" fill="#000">4.5 V</text>
<text x="230.10" y="131.90" text-anchor="middle" font-size="11.4" fill="#F0B440">BM</text>
<text x="266.00" y="99.30" text-anchor="middle" font-size="11.4" fill="#9CD1C2">PM</text>
<text x="268.80" y="135.10" text-anchor="middle" font-size="11.4" fill="#4A88B5">TFBM</text>
<text x="268.80" y="160.00" text-anchor="middle" font-size="11.4" fill="#B2676C">TFPM</text>
<text x="-0.90" y="7.80" text-anchor="start" font-size="12" fill="#000" font-weight="bold">a</text>
<path d="M407.50,13.45H643.00V166.00H407.50Z" fill="none" stroke="#000" stroke-width="1.2"/>
<path d="M407.50,166.00v4.4M458.70,166.00v4.4M509.89,166.00v4.4M561.09,166.00v4.4M612.28,166.00v4.4M433.10,166.00v2.5M484.29,166.00v2.5M535.49,166.00v2.5M586.68,166.00v2.5M637.88,166.00v2.5" stroke="#000" stroke-width="1.1" fill="none"/>
<text x="407.50" y="182.90" text-anchor="middle" font-size="12.0" fill="#000">0</text>
<text x="458.70" y="182.90" text-anchor="middle" font-size="12.0" fill="#000">10</text>
<text x="509.89" y="182.90" text-anchor="middle" font-size="12.0" fill="#000">20</text>
<text x="561.09" y="182.90" text-anchor="middle" font-size="12.0" fill="#000">30</text>
<text x="612.28" y="182.90" text-anchor="middle" font-size="12.0" fill="#000">40</text>
<path d="M407.50,166.00h-4.4M407.50,127.86h-4.4M407.50,89.72h-4.4M407.50,51.59h-4.4M407.50,13.45h-4.4M407.50,146.93h-2.5M407.50,108.79h-2.5M407.50,70.66h-2.5M407.50,32.52h-2.5" stroke="#000" stroke-width="1.1" fill="none"/>
<text x="399.90" y="169.50" text-anchor="end" font-size="12.0" fill="#000">0</text>
<text x="399.90" y="131.36" text-anchor="end" font-size="12.0" fill="#000">70</text>
<text x="399.90" y="93.22" text-anchor="end" font-size="12.0" fill="#000">140</text>
<text x="399.90" y="55.09" text-anchor="end" font-size="12.0" fill="#000">210</text>
<text x="399.90" y="16.95" text-anchor="end" font-size="12.0" fill="#000">280</text>
<text x="525.25" y="196.40" text-anchor="middle" font-size="12.0" fill="#000">Cycle number</text>
<text transform="translate(372.20,160.80) rotate(-90)" text-anchor="start" font-size="12.0">Specific capacity (mAh g<tspan dy="-4.7" font-size="8.1">−1</tspan><tspan dy="4.7">)</tspan></text>
<text x="355.00" y="7.80" text-anchor="start" font-size="12" fill="#000" font-weight="bold">b</text>
<path d="M433.10,41.40L438.22,48.60M458.70,48.60L463.82,53.60M484.29,53.60L489.41,58.50M509.89,58.50L515.01,66.30M535.49,66.30L540.61,74.90M561.09,74.90L566.21,85.40M586.68,85.40L591.80,96.80M612.28,98.20L617.40,43.50" stroke="#B8B8B8" stroke-width="0.9" stroke-dasharray="2,2.2" fill="none"/>
<path d="M433.10,42.40L438.22,51.60M458.70,51.60L463.82,57.60M484.29,57.60L489.41,62.40M509.89,62.40L515.01,70.90M535.49,70.90L540.61,83.50M561.09,83.50L566.21,99.20M586.68,99.20L591.80,114.70M612.28,113.80L617.40,46.10" stroke="#B8B8B8" stroke-width="0.9" stroke-dasharray="2,2.2" fill="none"/>
<path d="M433.10,43.10L438.22,52.40M458.70,52.40L463.82,58.50M484.29,58.50L489.41,65.90M509.89,65.90L515.01,79.30M535.49,79.30L540.61,102.20M561.09,101.60L566.21,125.30M586.68,125.30L591.80,147.60M612.28,147.60L617.40,44.80" stroke="#B8B8B8" stroke-width="0.9" stroke-dasharray="2,2.2" fill="none"/>
<circle cx="412.62" cy="43.10" r="2.45" fill="#B2676C"/>
<circle cx="417.74" cy="41.90" r="2.45" fill="#B2676C"/>
<circle cx="422.86" cy="41.40" r="2.45" fill="#B2676C"/>
<circle cx="427.98" cy="41.00" r="2.45" fill="#B2676C"/>
<circle cx="433.10" cy="41.40" r="2.45" fill="#B2676C"/>
<circle cx="438.22" cy="48.60" r="2.45" fill="#B2676C"/>
<circle cx="443.34" cy="48.60" r="2.45" fill="#B2676C"/>
<circle cx="448.46" cy="48.60" r="2.45" fill="#B2676C"/>
<circle cx="453.58" cy="48.60" r="2.45" fill="#B2676C"/>
<circle cx="458.70" cy="48.60" r="2.45" fill="#B2676C"/>
<circle cx="463.82" cy="53.60" r="2.45" fill="#B2676C"/>
<circle cx="468.93" cy="53.60" r="2.45" fill="#B2676C"/>
<circle cx="474.05" cy="53.60" r="2.45" fill="#B2676C"/>
<circle cx="479.17" cy="53.60" r="2.45" fill="#B2676C"/>
<circle cx="484.29" cy="53.60" r="2.45" fill="#B2676C"/>
<circle cx="489.41" cy="58.50" r="2.45" fill="#B2676C"/>
<circle cx="494.53" cy="58.50" r="2.45" fill="#B2676C"/>
<circle cx="499.65" cy="58.50" r="2.45" fill="#B2676C"/>
<circle cx="504.77" cy="58.50" r="2.45" fill="#B2676C"/>
<circle cx="509.89" cy="58.50" r="2.45" fill="#B2676C"/>
<circle cx="515.01" cy="66.30" r="2.45" fill="#B2676C"/>
<circle cx="520.13" cy="66.30" r="2.45" fill="#B2676C"/>
<circle cx="525.25" cy="66.30" r="2.45" fill="#B2676C"/>
<circle cx="530.37" cy="66.30" r="2.45" fill="#B2676C"/>
<circle cx="535.49" cy="66.30" r="2.45" fill="#B2676C"/>
<circle cx="540.61" cy="74.90" r="2.45" fill="#B2676C"/>
<circle cx="545.73" cy="74.90" r="2.45" fill="#B2676C"/>
<circle cx="550.85" cy="74.90" r="2.45" fill="#B2676C"/>
<circle cx="555.97" cy="74.90" r="2.45" fill="#B2676C"/>
<circle cx="561.09" cy="74.90" r="2.45" fill="#B2676C"/>
<circle cx="566.21" cy="85.40" r="2.45" fill="#B2676C"/>
<circle cx="571.33" cy="85.40" r="2.45" fill="#B2676C"/>
<circle cx="576.45" cy="85.40" r="2.45" fill="#B2676C"/>
<circle cx="581.57" cy="85.40" r="2.45" fill="#B2676C"/>
<circle cx="586.68" cy="85.40" r="2.45" fill="#B2676C"/>
<circle cx="591.80" cy="96.80" r="2.45" fill="#B2676C"/>
<circle cx="596.92" cy="97.10" r="2.45" fill="#B2676C"/>
<circle cx="602.04" cy="97.40" r="2.45" fill="#B2676C"/>
<circle cx="607.16" cy="97.80" r="2.45" fill="#B2676C"/>
<circle cx="612.28" cy="98.20" r="2.45" fill="#B2676C"/>
<circle cx="617.40" cy="43.50" r="2.45" fill="#B2676C"/>
<circle cx="622.52" cy="43.50" r="2.45" fill="#B2676C"/>
<circle cx="627.64" cy="43.50" r="2.45" fill="#B2676C"/>
<circle cx="632.76" cy="43.50" r="2.45" fill="#B2676C"/>
<circle cx="637.88" cy="43.50" r="2.45" fill="#B2676C"/>
<circle cx="412.62" cy="47.90" r="2.45" fill="#9CD1C2"/>
<circle cx="417.74" cy="44.90" r="2.45" fill="#9CD1C2"/>
<circle cx="422.86" cy="43.40" r="2.45" fill="#9CD1C2"/>
<circle cx="427.98" cy="42.60" r="2.45" fill="#9CD1C2"/>
<circle cx="433.10" cy="42.40" r="2.45" fill="#9CD1C2"/>
<circle cx="438.22" cy="51.60" r="2.45" fill="#9CD1C2"/>
<circle cx="443.34" cy="51.60" r="2.45" fill="#9CD1C2"/>
<circle cx="448.46" cy="51.60" r="2.45" fill="#9CD1C2"/>
<circle cx="453.58" cy="51.60" r="2.45" fill="#9CD1C2"/>
<circle cx="458.70" cy="51.60" r="2.45" fill="#9CD1C2"/>
<circle cx="463.82" cy="57.60" r="2.45" fill="#9CD1C2"/>
<circle cx="468.93" cy="57.60" r="2.45" fill="#9CD1C2"/>
<circle cx="474.05" cy="57.60" r="2.45" fill="#9CD1C2"/>
<circle cx="479.17" cy="57.60" r="2.45" fill="#9CD1C2"/>
<circle cx="484.29" cy="57.60" r="2.45" fill="#9CD1C2"/>
<circle cx="489.41" cy="62.40" r="2.45" fill="#9CD1C2"/>
<circle cx="494.53" cy="62.40" r="2.45" fill="#9CD1C2"/>
<circle cx="499.65" cy="62.40" r="2.45" fill="#9CD1C2"/>
<circle cx="504.77" cy="62.40" r="2.45" fill="#9CD1C2"/>
<circle cx="509.89" cy="62.40" r="2.45" fill="#9CD1C2"/>
<circle cx="515.01" cy="70.90" r="2.45" fill="#9CD1C2"/>
<circle cx="520.13" cy="70.90" r="2.45" fill="#9CD1C2"/>
<circle cx="525.25" cy="70.90" r="2.45" fill="#9CD1C2"/>
<circle cx="530.37" cy="70.90" r="2.45" fill="#9CD1C2"/>
<circle cx="535.49" cy="70.90" r="2.45" fill="#9CD1C2"/>
<circle cx="540.61" cy="83.50" r="2.45" fill="#9CD1C2"/>
<circle cx="545.73" cy="83.50" r="2.45" fill="#9CD1C2"/>
<circle cx="550.85" cy="83.50" r="2.45" fill="#9CD1C2"/>
<circle cx="555.97" cy="83.50" r="2.45" fill="#9CD1C2"/>
<circle cx="561.09" cy="83.50" r="2.45" fill="#9CD1C2"/>
<circle cx="566.21" cy="99.20" r="2.45" fill="#9CD1C2"/>
<circle cx="571.33" cy="99.20" r="2.45" fill="#9CD1C2"/>
<circle cx="576.45" cy="99.20" r="2.45" fill="#9CD1C2"/>
<circle cx="581.57" cy="99.20" r="2.45" fill="#9CD1C2"/>
<circle cx="586.68" cy="99.20" r="2.45" fill="#9CD1C2"/>
<circle cx="591.80" cy="114.70" r="2.45" fill="#9CD1C2"/>
<circle cx="596.92" cy="114.10" r="2.45" fill="#9CD1C2"/>
<circle cx="602.04" cy="114.00" r="2.45" fill="#9CD1C2"/>
<circle cx="607.16" cy="113.90" r="2.45" fill="#9CD1C2"/>
<circle cx="612.28" cy="113.80" r="2.45" fill="#9CD1C2"/>
<circle cx="617.40" cy="46.10" r="2.45" fill="#9CD1C2"/>
<circle cx="622.52" cy="46.10" r="2.45" fill="#9CD1C2"/>
<circle cx="627.64" cy="46.10" r="2.45" fill="#9CD1C2"/>
<circle cx="632.76" cy="46.10" r="2.45" fill="#9CD1C2"/>
<circle cx="637.88" cy="46.10" r="2.45" fill="#9CD1C2"/>
<circle cx="412.62" cy="48.90" r="2.45" fill="#4A88B5"/>
<circle cx="417.74" cy="45.75" r="2.45" fill="#4A88B5"/>
<circle cx="422.86" cy="44.20" r="2.45" fill="#4A88B5"/>
<circle cx="427.98" cy="43.30" r="2.45" fill="#4A88B5"/>
<circle cx="433.10" cy="43.10" r="2.45" fill="#4A88B5"/>
<circle cx="438.22" cy="52.40" r="2.45" fill="#4A88B5"/>
<circle cx="443.34" cy="52.40" r="2.45" fill="#4A88B5"/>
<circle cx="448.46" cy="52.40" r="2.45" fill="#4A88B5"/>
<circle cx="453.58" cy="52.40" r="2.45" fill="#4A88B5"/>
<circle cx="458.70" cy="52.40" r="2.45" fill="#4A88B5"/>
<circle cx="463.82" cy="58.50" r="2.45" fill="#4A88B5"/>
<circle cx="468.93" cy="58.50" r="2.45" fill="#4A88B5"/>
<circle cx="474.05" cy="58.50" r="2.45" fill="#4A88B5"/>
<circle cx="479.17" cy="58.50" r="2.45" fill="#4A88B5"/>
<circle cx="484.29" cy="58.50" r="2.45" fill="#4A88B5"/>
<circle cx="489.41" cy="65.90" r="2.45" fill="#4A88B5"/>
<circle cx="494.53" cy="65.90" r="2.45" fill="#4A88B5"/>
<circle cx="499.65" cy="65.90" r="2.45" fill="#4A88B5"/>
<circle cx="504.77" cy="65.90" r="2.45" fill="#4A88B5"/>
<circle cx="509.89" cy="65.90" r="2.45" fill="#4A88B5"/>
<circle cx="515.01" cy="79.30" r="2.45" fill="#4A88B5"/>
<circle cx="520.13" cy="79.30" r="2.45" fill="#4A88B5"/>
<circle cx="525.25" cy="79.30" r="2.45" fill="#4A88B5"/>
<circle cx="530.37" cy="79.30" r="2.45" fill="#4A88B5"/>
<circle cx="535.49" cy="79.30" r="2.45" fill="#4A88B5"/>
<circle cx="540.61" cy="102.20" r="2.45" fill="#4A88B5"/>
<circle cx="545.73" cy="101.30" r="2.45" fill="#4A88B5"/>
<circle cx="550.85" cy="101.40" r="2.45" fill="#4A88B5"/>
<circle cx="555.97" cy="101.40" r="2.45" fill="#4A88B5"/>
<circle cx="561.09" cy="101.60" r="2.45" fill="#4A88B5"/>
<circle cx="566.21" cy="125.30" r="2.45" fill="#4A88B5"/>
<circle cx="571.33" cy="125.30" r="2.45" fill="#4A88B5"/>
<circle cx="576.45" cy="125.30" r="2.45" fill="#4A88B5"/>
<circle cx="581.57" cy="125.30" r="2.45" fill="#4A88B5"/>
<circle cx="586.68" cy="125.30" r="2.45" fill="#4A88B5"/>
<circle cx="591.80" cy="147.60" r="2.45" fill="#4A88B5"/>
<circle cx="596.92" cy="147.60" r="2.45" fill="#4A88B5"/>
<circle cx="602.04" cy="147.60" r="2.45" fill="#4A88B5"/>
<circle cx="607.16" cy="147.60" r="2.45" fill="#4A88B5"/>
<circle cx="612.28" cy="147.60" r="2.45" fill="#4A88B5"/>
<circle cx="617.40" cy="44.80" r="2.45" fill="#4A88B5"/>
<circle cx="622.52" cy="44.80" r="2.45" fill="#4A88B5"/>
<circle cx="627.64" cy="44.80" r="2.45" fill="#4A88B5"/>
<circle cx="632.76" cy="44.80" r="2.45" fill="#4A88B5"/>
<circle cx="637.88" cy="44.80" r="2.45" fill="#4A88B5"/>
<text x="423.60" y="35.90" text-anchor="middle" font-size="11.8" fill="#000">0.1 C</text>
<text x="450.80" y="43.30" text-anchor="middle" font-size="11.8" fill="#000">0.5 C</text>
<text x="474.60" y="49.40" text-anchor="middle" font-size="11.8" fill="#000">1 C</text>
<text x="500.40" y="54.10" text-anchor="middle" font-size="11.8" fill="#000">2 C</text>
<text x="526.80" y="61.70" text-anchor="middle" font-size="11.8" fill="#000">5 C</text>
<text x="551.40" y="70.40" text-anchor="middle" font-size="11.8" fill="#000">10 C</text>
<text x="577.50" y="80.40" text-anchor="middle" font-size="11.8" fill="#000">15 C</text>
<text x="602.20" y="93.30" text-anchor="middle" font-size="11.8" fill="#000">20 C</text>
<text x="627.10" y="38.30" text-anchor="middle" font-size="11.8" fill="#000">0.1 C</text>
<text x="592.50" y="65.50" text-anchor="middle" font-size="11.4" fill="#B2676C">TFPM</text>
<text x="533.20" y="120.10" text-anchor="middle" font-size="11.4" fill="#4A88B5">TFBM</text>
<text x="619.20" y="117.70" text-anchor="start" font-size="11.4" fill="#9CD1C2">PM</text>
<text x="418.60" y="143.60" text-anchor="start" font-size="11.4" fill="#000">Li||0.74 mAh cm<tspan dy="-3.0" font-size="8.2">−2</tspan><tspan dy="3.0"> NMC811</tspan></text>
<text x="418.60" y="158.00" text-anchor="start" font-size="11.7" fill="#000">4.4 V, 30 °C</text>
<g>
<path d="M54.2,222 L54.6,246 M55.2,222 L55.6,246 M53.6,230L53.6,345" stroke="#A08CA8" stroke-opacity="0.55" stroke-width="1.2" fill="none"/>
<polyline points="53.2,222.1 53.6,223.8 53.9,220.7 54.3,223.4 54.7,221.6 55.0,221.6 55.4,224.7 55.7,222.2 56.1,221.9 56.5,223.0 56.8,223.6 57.2,222.0 57.6,222.8 57.9,220.6 58.3,221.5 58.6,221.4 59.0,220.1 59.4,219.9 59.7,219.7 60.1,221.7 60.4,221.8 60.8,221.6 61.2,222.1 61.5,220.1 61.9,221.9 62.2,222.3 62.6,223.1 63.0,220.8 63.3,221.4 63.7,219.2 64.0,221.3 64.4,218.9 64.8,220.0 65.1,223.5 65.5,218.9 65.9,223.1 66.2,222.5 66.6,221.6 66.9,222.6 67.3,222.7 67.7,223.5 68.0,221.7 68.4,221.2 68.7,221.2 69.1,220.6 69.5,221.9 69.8,220.9 70.2,223.5 70.5,219.4 70.9,220.5 71.3,220.7 71.6,219.1 72.0,224.7 72.4,218.6 72.7,221.6 73.1,221.3 73.4,224.3 73.8,219.2 74.2,223.5 74.5,221.0 74.9,221.8 75.2,221.1 75.6,222.9 76.0,220.4 76.3,221.9 76.7,222.5 77.0,224.6 77.4,218.6 77.8,224.1 78.1,223.3 78.5,221.3 78.8,222.4 79.2,221.3 79.6,224.3 79.9,222.3 80.3,221.7 80.7,221.7 81.0,221.7 81.4,221.8 81.7,220.8 82.1,224.9 82.5,219.3 82.8,217.0 83.2,221.8 83.5,221.8 83.9,222.5 84.3,221.7 84.6,221.8 85.0,222.5 85.3,223.4 85.7,221.4 86.1,221.5 86.4,224.7 86.8,222.7 87.1,220.6 87.5,225.3 87.9,223.1 88.2,221.2 88.6,220.4 89.0,222.4 89.3,220.8 89.7,220.5 90.0,220.2 90.4,221.3 90.8,223.6 91.1,221.4 91.5,220.0 91.8,222.9 92.2,222.1 92.6,223.2 92.9,223.7 93.3,221.8 93.6,221.8 94.0,221.9 94.4,220.4 94.7,222.9 95.1,223.9 95.4,222.2 95.8,221.7 96.2,221.6 96.5,220.9 96.9,220.9 97.3,221.4 97.6,220.8 98.0,221.4 98.3,219.8 98.7,222.5 99.1,222.1 99.4,220.4 99.8,218.8 100.1,222.0 100.5,223.5 100.9,221.0 101.2,221.3 101.6,221.2 101.9,222.9 102.3,220.7 102.7,223.4 103.0,221.6 103.4,223.3 103.8,222.0 104.1,221.7 104.5,219.9 104.8,221.0 105.2,221.6 105.6,222.9 105.9,222.3 106.3,221.0 106.6,222.6 107.0,223.4 107.4,221.8 107.7,221.4 108.1,221.4 108.4,223.1 108.8,222.8 109.2,220.7 109.5,222.5 109.9,221.3 110.2,220.9 110.6,223.7 111.0,223.1 111.3,221.0 111.7,222.1 112.1,222.7 112.4,221.1 112.8,221.8 113.1,222.9 113.5,219.5 113.9,222.5 114.2,223.0 114.6,222.7 114.9,220.1 115.3,222.4 115.7,220.8 116.0,222.8 116.4,222.8 116.7,222.3 117.1,220.9 117.5,221.2 117.8,223.2 118.2,220.7 118.5,222.7 118.9,222.7 119.3,221.6 119.6,225.4 120.0,222.1 120.4,225.0 120.7,219.2 121.1,218.9 121.4,223.4 121.8,222.9 122.2,221.6 122.5,221.9 122.9,219.3 123.2,221.1 123.6,220.6 124.0,221.7 124.3,223.2 124.7,222.1 125.0,222.5 125.4,221.0 125.8,221.4 126.1,222.2 126.5,221.6 126.9,223.8 127.2,220.8 127.6,224.6 127.9,220.6 128.3,223.5 128.7,220.9 129.0,224.3 129.4,222.2 129.7,222.6 130.1,223.0 130.5,221.1 130.8,220.5 131.2,219.2 131.5,223.7 131.9,221.0 132.3,221.2 132.6,222.0 133.0,224.8 133.3,219.6 133.7,222.3 134.1,221.4 134.4,222.7 134.8,219.5 135.2,221.4 135.5,223.2 135.9,224.2 136.2,224.2 136.6,220.8 137.0,222.1 137.3,221.8 137.7,220.1 138.0,220.0 138.4,223.1 138.8,222.3 139.1,221.8 139.5,223.7 139.8,220.6 140.2,222.7 140.6,222.0 140.9,221.9 141.3,222.7 141.6,222.2 142.0,222.4 142.4,222.4 142.7,224.7 143.1,221.6 143.5,223.4 143.8,222.9 144.2,221.5 144.5,223.1 144.9,220.8 145.3,223.6 145.6,220.9 146.0,221.3 146.3,222.5 146.7,223.2 147.1,223.3 147.4,223.3 147.8,221.7 148.1,220.7 148.5,222.8 148.9,222.4 149.2,220.7 149.6,223.4 149.9,222.3 150.3,220.7 150.7,222.6 151.0,220.1 151.4,220.8 151.8,222.6 152.1,219.8 152.5,222.1 152.8,220.1 153.2,223.0 153.6,221.0 153.9,222.3 154.3,219.9 154.6,221.5 155.0,223.3 155.4,222.6 155.7,219.4 156.1,223.3 156.4,223.2 156.8,221.5 157.2,224.0 157.5,220.5 157.9,221.9 158.3,223.6 158.6,223.8 159.0,223.8 159.3,220.5 159.7,219.5 160.1,222.5 160.4,220.0 160.8,221.8 161.1,220.2 161.5,223.5 161.9,223.1 162.2,222.8 162.6,222.0 162.9,222.1 163.3,221.6 163.7,222.5 164.0,222.3 164.4,222.6 164.7,221.4 165.1,224.7 165.5,222.4 165.8,224.0 166.2,223.9 166.6,220.8 166.9,219.6 167.3,223.8 167.6,221.5 168.0,222.1 168.4,221.6 168.7,222.2 169.1,220.3 169.4,221.9 169.8,221.4 170.2,222.0 170.5,218.7 170.9,223.1 171.2,222.5 171.6,219.6 172.0,221.0 172.3,222.0 172.7,222.9 173.0,222.0 173.4,223.9 173.8,222.0 174.1,220.6 174.5,221.1 174.9,223.0 175.2,221.1 175.6,223.2 175.9,223.4 176.3,222.8 176.7,223.4 177.0,221.8 177.4,222.0 177.7,221.2 178.1,221.1 178.5,219.8 178.8,221.2 179.2,220.5 179.5,220.0 179.9,222.2 180.3,222.6 180.6,221.5 181.0,223.9 181.3,223.3 181.7,223.5 182.1,221.2 182.4,219.9 182.8,222.8 183.2,222.4 183.5,223.0 183.9,222.6 184.2,223.8 184.6,221.6 185.0,222.9 185.3,220.7 185.7,218.8 186.0,221.4 186.4,224.1 186.8,219.7 187.1,223.4 187.5,221.0 187.8,221.4 188.2,222.1 188.6,222.3 188.9,220.6 189.3,222.2 189.7,222.6 190.0,223.2 190.4,220.9 190.7,224.2 191.1,224.7 191.5,225.4 191.8,220.1 192.2,222.2 192.5,219.4 192.9,222.5 193.3,222.8 193.6,220.4 194.0,219.8 194.3,222.3 194.7,222.9 195.1,220.9 195.4,221.6 195.8,218.5 196.1,221.0 196.5,222.2 196.9,222.2 197.2,224.2 197.6,220.4 198.0,218.8 198.3,222.6 198.7,221.2 199.0,222.4 199.4,223.0 199.8,222.8 200.1,224.0 200.5,223.9 200.8,219.7 201.2,221.9 201.6,224.8 201.9,221.4 202.3,223.4 202.6,221.9 203.0,221.4 203.4,224.2 203.7,223.5 204.1,221.7 204.4,223.3 204.8,220.2 205.2,221.0 205.5,223.3 205.9,222.1 206.3,220.5 206.6,222.6 207.0,222.5 207.3,223.8 207.7,223.3 208.1,221.6 208.4,221.3 208.8,221.8 209.1,221.7 209.5,224.0 209.9,224.2 210.2,223.9 210.6,222.5 210.9,221.7 211.3,223.3 211.7,221.5 212.0,222.3 212.4,219.7 212.7,221.4 213.1,224.0 213.5,220.6 213.8,219.9 214.2,221.8 214.6,224.3 214.9,224.0 215.3,221.5 215.6,221.3 216.0,221.8 216.4,220.7 216.7,222.1 217.1,221.6 217.4,219.9 217.8,221.2 218.2,221.6 218.5,220.8 218.9,220.4 219.2,223.3 219.6,224.7 220.0,221.6 220.3,221.4 220.7,222.7 221.1,221.7 221.4,220.9 221.8,223.9 222.1,220.5 222.5,221.0 222.9,221.1" fill="none" stroke="none" marker-start="url(#m0)" marker-mid="url(#m0)" marker-end="url(#m0)"/>
<path d="M223.9,222V364.4" stroke="#9CD1C2" stroke-width="1.8" stroke-opacity="0.38"/>
<path d="M227.2,222V364.4" stroke="#9CD1C2" stroke-width="1.6" stroke-opacity="0.3"/>
<path d="M230.4,222V364.4" stroke="#9CD1C2" stroke-width="1.4" stroke-opacity="0.38"/>
<path d="M233.5,222V364.4" stroke="#9CD1C2" stroke-width="2.0" stroke-opacity="0.34"/>
<polyline points="53.2,219.8 53.6,221.0 53.9,221.2 54.3,219.1 54.7,220.3 55.0,223.5 55.4,222.3 55.7,220.2 56.1,221.6 56.5,220.9 56.8,219.8 57.2,220.7 57.6,221.3 57.9,220.7 58.3,220.1 58.6,220.7 59.0,218.8 59.4,221.5 59.7,221.7 60.1,220.1 60.4,220.5 60.8,222.7 61.2,221.2 61.5,219.8 61.9,221.7 62.2,222.5 62.6,220.6 63.0,219.3 63.3,215.7 63.7,219.6 64.0,220.6 64.4,222.1 64.8,221.1 65.1,218.3 65.5,219.7 65.9,226.9 66.2,219.3 66.6,220.6 66.9,220.8 67.3,213.9 67.7,222.2 68.0,219.7 68.4,222.5 68.7,219.1 69.1,221.5 69.5,221.2 69.8,220.9 70.2,219.1 70.5,220.8 70.9,220.2 71.3,220.0 71.6,220.2 72.0,221.2 72.4,220.1 72.7,221.6 73.1,220.8 73.4,220.9 73.8,221.6 74.2,221.8 74.5,221.3 74.9,216.2 75.2,220.1 75.6,221.0 76.0,220.7 76.3,221.1 76.7,222.0 77.0,221.1 77.4,220.9 77.8,221.9 78.1,222.6 78.5,222.4 78.8,220.0 79.2,223.8 79.6,222.0 79.9,226.2 80.3,220.5 80.7,221.2 81.0,217.2 81.4,220.7 81.7,220.1 82.1,220.9 82.5,222.3 82.8,219.7 83.2,219.8 83.5,222.1 83.9,220.1 84.3,220.0 84.6,219.7 85.0,221.5 85.3,221.0 85.7,219.7 86.1,218.8 86.4,222.5 86.8,221.2 87.1,219.7 87.5,219.7 87.9,222.5 88.2,222.3 88.6,213.9 89.0,222.0 89.3,221.0 89.7,221.5 90.0,221.3 90.4,222.4 90.8,219.3 91.1,220.7 91.5,226.1 91.8,221.7 92.2,220.3 92.6,221.1 92.9,220.1 93.3,221.4 93.6,220.6 94.0,220.6 94.4,221.5 94.7,218.4 95.1,220.7 95.4,221.0 95.8,214.0 96.2,221.1 96.5,220.4 96.9,221.7 97.3,221.5 97.6,221.8 98.0,221.6 98.3,219.5 98.7,221.7 99.1,221.9 99.4,220.4 99.8,221.7 100.1,220.8 100.5,221.5 100.9,222.5 101.2,215.2 101.6,222.2 101.9,221.5 102.3,221.1 102.7,220.0 103.0,222.4 103.4,222.1 103.8,219.5 104.1,221.4 104.5,220.0 104.8,218.8 105.2,222.1 105.6,220.5 105.9,217.0 106.3,225.2 106.6,221.9 107.0,220.6 107.4,222.0 107.7,220.8 108.1,219.9 108.4,220.4 108.8,221.0 109.2,219.9 109.5,217.9 109.9,220.3 110.2,221.3 110.6,219.4 111.0,220.6 111.3,220.5 111.7,222.0 112.1,220.6 112.4,215.9 112.8,220.9 113.1,225.7 113.5,221.8 113.9,220.6 114.2,220.9 114.6,221.7 114.9,219.2 115.3,219.6 115.7,220.2 116.0,219.7 116.4,221.1 116.7,220.9 117.1,220.9 117.5,219.4 117.8,221.4 118.2,219.8 118.5,226.7 118.9,220.9 119.3,221.8 119.6,220.1 120.0,221.4 120.4,219.4 120.7,221.1 121.1,221.4 121.4,219.7 121.8,220.5 122.2,221.2 122.5,219.7 122.9,220.3 123.2,222.0 123.6,222.0 124.0,213.3 124.3,220.5 124.7,222.5 125.0,220.3 125.4,219.9 125.8,222.3 126.1,220.4 126.5,221.3 126.9,221.8 127.2,220.4 127.6,223.5 127.9,220.1 128.3,221.4 128.7,221.2 129.0,220.7 129.4,222.0 129.7,221.4 130.1,226.3 130.5,219.3 130.8,217.9 131.2,222.1 131.5,220.2 131.9,220.6 132.3,221.8 132.6,222.2 133.0,220.7 133.3,220.9 133.7,220.1 134.1,220.1 134.4,221.6 134.8,221.9 135.2,221.0 135.5,215.7 135.9,221.2 136.2,221.3 136.6,221.4 137.0,221.1 137.3,221.6 137.7,220.7 138.0,219.1 138.4,226.3 138.8,221.5 139.1,219.9 139.5,220.6 139.8,221.4 140.2,220.8 140.6,219.9 140.9,220.1 141.3,222.9 141.6,221.1 142.0,216.4 142.4,223.0 142.7,221.0 143.1,220.3 143.5,224.2 143.8,220.1 144.2,220.4 144.5,219.8 144.9,219.7 145.3,220.6 145.6,219.8 146.0,221.7 146.3,220.7 146.7,221.4 147.1,224.4 147.4,220.0 147.8,221.1 148.1,221.0 148.5,220.1 148.9,221.2 149.2,220.8 149.6,220.1 149.9,220.2 150.3,220.9 150.7,227.8 151.0,218.8 151.4,221.7 151.8,220.4 152.1,222.0 152.5,219.5 152.8,219.0 153.2,221.0 153.6,221.8 153.9,221.6 154.3,226.6 154.6,220.6 155.0,218.7 155.4,219.2 155.7,221.4 156.1,219.9 156.4,221.7 156.8,221.6 157.2,216.4 157.5,219.9 157.9,221.7 158.3,221.3 158.6,221.4 159.0,221.7 159.3,220.5 159.7,224.5 160.1,225.2 160.4,220.5 160.8,220.4 161.1,221.4 161.5,220.3 161.9,221.1 162.2,220.7 162.6,220.0 162.9,220.8 163.3,221.7 163.7,218.9 164.0,220.1 164.4,221.8 164.7,219.9 165.1,220.4 165.5,219.9 165.8,221.8 166.2,219.3 166.6,219.9 166.9,220.4 167.3,218.7 167.6,221.2 168.0,220.2 168.4,222.0 168.7,220.2 169.1,220.8 169.4,219.8 169.8,220.1 170.2,219.2 170.5,220.9 170.9,227.8 171.2,221.0 171.6,221.7 172.0,220.1 172.3,220.9 172.7,221.0 173.0,222.5 173.4,220.2 173.8,221.1 174.1,222.0 174.5,217.0 174.9,222.1 175.2,219.8 175.6,221.8 175.9,220.7 176.3,221.6 176.7,222.4 177.0,220.3 177.4,220.5 177.7,219.4 178.1,221.0 178.5,219.3 178.8,220.9 179.2,222.3 179.5,221.8 179.9,222.6 180.3,219.4 180.6,221.7 181.0,224.2 181.3,220.3 181.7,221.3 182.1,221.7 182.4,219.3 182.8,221.9 183.2,220.2 183.5,222.0 183.9,220.0 184.2,219.5 184.6,219.7 185.0,221.8 185.3,221.7 185.7,219.9 186.0,220.5 186.4,220.5 186.8,220.1 187.1,221.6 187.5,221.5 187.8,220.4 188.2,220.0 188.6,220.4 188.9,220.1 189.3,220.5 189.7,221.2 190.0,223.5 190.4,222.4 190.7,225.5 191.1,220.3 191.5,219.3 191.8,222.4 192.2,220.4 192.5,219.7 192.9,219.4 193.3,215.4 193.6,222.7 194.0,220.8 194.3,221.2 194.7,222.4 195.1,219.8 195.4,219.8 195.8,221.4 196.1,227.4 196.5,221.6 196.9,221.9 197.2,221.1 197.6,221.3 198.0,226.9 198.3,220.9 198.7,220.2 199.0,219.8 199.4,222.3 199.8,226.8 200.1,219.4 200.5,223.4 200.8,219.3 201.2,222.1 201.6,220.4 201.9,221.5 202.3,220.4 202.6,228.4 203.0,222.0 203.4,225.5 203.7,220.4 204.1,221.4 204.4,220.9 204.8,219.3 205.2,219.7 205.5,225.9 205.9,222.8 206.3,222.3 206.6,220.3 207.0,221.0 207.3,218.0 207.7,223.9 208.1,220.0 208.4,220.9 208.8,228.7 209.1,225.5 209.5,219.9 209.9,221.0 210.2,220.5 210.6,216.1 210.9,221.4 211.3,221.7 211.7,221.2 212.0,221.3 212.4,221.6 212.7,219.8 213.1,220.3 213.5,220.8 213.8,221.0 214.2,219.7 214.6,220.2 214.9,221.9 215.3,226.9 215.6,220.1 216.0,220.1 216.4,213.9 216.7,221.9 217.1,221.1 217.4,219.4 217.8,218.8 218.2,219.5 218.5,221.5 218.9,219.5 219.2,222.3 219.6,219.8 220.0,221.6 220.3,220.8 220.7,220.5 221.1,219.9 221.4,220.1 221.8,219.4 222.1,213.6 222.5,221.6 222.9,223.0 223.2,221.4 223.6,220.7 223.9,221.9 224.3,221.8 224.7,222.3 225.0,218.9 225.4,221.2 225.7,222.8 226.1,218.4 226.5,226.3 226.8,218.5 227.2,227.1 227.5,221.3 227.9,223.4 228.3,220.3 228.6,221.6 229.0,219.8 229.4,220.4 229.7,222.1 230.1,218.6 230.4,221.6 230.8,221.2 231.2,223.1 231.5,220.3 231.9,226.1 232.2,221.6 232.6,221.5 233.0,220.6 233.3,220.5 233.7,220.4 234.0,219.9 234.4,222.1 234.8,226.5 235.1,221.8 235.5,220.5 235.8,221.3 236.2,220.0 236.6,221.3 236.9,221.0 237.3,219.6 237.7,221.3 238.0,221.3 238.4,219.8 238.7,221.7 239.1,225.3 239.5,221.6 239.8,219.6 240.2,221.2 240.5,221.3 240.9,220.7 241.3,214.6 241.6,220.0 242.0,227.1 242.3,218.7 242.7,219.8 243.1,226.7 243.4,216.0 243.8,219.8 244.2,221.2 244.5,221.1 244.9,221.9 245.2,221.2 245.6,220.6 246.0,219.8 246.3,220.5 246.7,221.7" fill="none" stroke="none" marker-start="url(#m1)" marker-mid="url(#m1)" marker-end="url(#m1)"/>
<polyline points="53.2,220.4 53.6,219.0 53.9,223.4 54.3,221.2 54.7,218.9 55.0,221.9 55.4,220.0 55.7,222.4 56.1,219.6 56.5,221.9 56.8,218.7 57.2,218.8 57.6,220.3 57.9,222.9 58.3,223.2 58.6,222.2 59.0,219.7 59.4,220.6 59.7,221.4 60.1,220.0 60.4,222.5 60.8,220.0 61.2,220.7 61.5,222.3 61.9,221.0 62.2,220.1 62.6,220.4 63.0,221.7 63.3,220.1 63.7,221.8 64.0,217.4 64.4,222.0 64.8,218.3 65.1,220.8 65.5,222.8 65.9,220.0 66.2,223.4 66.6,221.1 66.9,220.5 67.3,221.2 67.7,219.9 68.0,219.6 68.4,221.5 68.7,220.0 69.1,222.4 69.5,219.9 69.8,220.9 70.2,218.5 70.5,220.9 70.9,218.2 71.3,221.6 71.6,221.0 72.0,220.0 72.4,218.5 72.7,221.3 73.1,219.6 73.4,222.5 73.8,223.4 74.2,220.2 74.5,217.4 74.9,221.9 75.2,220.4 75.6,224.4 76.0,220.8 76.3,220.2 76.7,220.2 77.0,220.7 77.4,220.4 77.8,220.4 78.1,221.7 78.5,220.3 78.8,220.9 79.2,220.4 79.6,222.1 79.9,218.4 80.3,219.1 80.7,219.3 81.0,219.1 81.4,221.7 81.7,222.4 82.1,219.9 82.5,220.5 82.8,222.6 83.2,220.8 83.5,221.1 83.9,222.0 84.3,223.9 84.6,221.7 85.0,223.4 85.3,222.2 85.7,221.7 86.1,222.5 86.4,220.6 86.8,221.8 87.1,219.2 87.5,223.0 87.9,219.3 88.2,221.3 88.6,220.8 89.0,220.9 89.3,218.9 89.7,220.4 90.0,220.2 90.4,222.7 90.8,219.7 91.1,220.5 91.5,221.3 91.8,219.7 92.2,219.9 92.6,222.1 92.9,220.3 93.3,219.7 93.6,219.6 94.0,221.3 94.4,223.1 94.7,221.3 95.1,221.1 95.4,220.4 95.8,222.3 96.2,220.3 96.5,220.9 96.9,221.1 97.3,223.5 97.6,220.4 98.0,220.6 98.3,221.2 98.7,220.4 99.1,219.6 99.4,221.0 99.8,221.6 100.1,217.8 100.5,222.4 100.9,221.9 101.2,220.7 101.6,222.1 101.9,220.3 102.3,220.7 102.7,221.2 103.0,221.2 103.4,222.9 103.8,222.0 104.1,220.8 104.5,222.4 104.8,220.6 105.2,220.6 105.6,219.9 105.9,221.7 106.3,222.2 106.6,220.9 107.0,219.9 107.4,221.6 107.7,221.9 108.1,222.9 108.4,223.2 108.8,223.4 109.2,220.7 109.5,218.3 109.9,220.5 110.2,218.2 110.6,222.1 111.0,221.0 111.3,219.5 111.7,220.9 112.1,222.4 112.4,220.4 112.8,220.7 113.1,220.5 113.5,221.5 113.9,222.5 114.2,219.5 114.6,219.3 114.9,223.0 115.3,220.8 115.7,223.8 116.0,220.3 116.4,219.0 116.7,219.5 117.1,219.0 117.5,221.8 117.8,222.1 118.2,224.8 118.5,222.9 118.9,220.1 119.3,222.8 119.6,221.7 120.0,218.8 120.4,221.8 120.7,223.1 121.1,218.8 121.4,222.6 121.8,220.4 122.2,220.2 122.5,221.3 122.9,223.9 123.2,220.9 123.6,222.1 124.0,221.6 124.3,220.6 124.7,220.9 125.0,219.3 125.4,221.3 125.8,220.9 126.1,222.1 126.5,220.0 126.9,223.1 127.2,218.1 127.6,221.9 127.9,219.4 128.3,222.2 128.7,220.5 129.0,219.5 129.4,222.9 129.7,223.2 130.1,223.4 130.5,223.1 130.8,225.0 131.2,221.3 131.5,218.8 131.9,220.9 132.3,222.1 132.6,220.1 133.0,219.3 133.3,221.3 133.7,219.4 134.1,221.5 134.4,222.3 134.8,223.2 135.2,220.8 135.5,222.3 135.9,219.7 136.2,220.3 136.6,221.3 137.0,219.8 137.3,221.9 137.7,220.3 138.0,223.0 138.4,218.6 138.8,219.5 139.1,220.1 139.5,221.2 139.8,220.4 140.2,219.6 140.6,220.9 140.9,219.9 141.3,222.0 141.6,221.4 142.0,219.9 142.4,220.7 142.7,220.3 143.1,220.2 143.5,219.6 143.8,218.1 144.2,221.3 144.5,220.7 144.9,222.7 145.3,221.9 145.6,222.2 146.0,222.6 146.3,220.6 146.7,220.4 147.1,219.9 147.4,222.4 147.8,222.2 148.1,221.7 148.5,220.7 148.9,221.0 149.2,222.0 149.6,221.8 149.9,218.7 150.3,223.1 150.7,221.1 151.0,220.3 151.4,221.5 151.8,221.3 152.1,220.6 152.5,218.9 152.8,221.5 153.2,220.2 153.6,221.9 153.9,223.0 154.3,222.5 154.6,221.7 155.0,220.6 155.4,220.3 155.7,221.3 156.1,222.7 156.4,219.2 156.8,222.2 157.2,221.8 157.5,220.3 157.9,220.3 158.3,223.1 158.6,222.5 159.0,219.6 159.3,222.1 159.7,222.7 160.1,218.6 160.4,221.8 160.8,221.1 161.1,221.7 161.5,221.4 161.9,221.7 162.2,222.2 162.6,220.7 162.9,221.6 163.3,223.4 163.7,222.1 164.0,220.5 164.4,219.4 164.7,221.7 165.1,221.1 165.5,222.5 165.8,222.2 166.2,219.4 166.6,220.3 166.9,220.5 167.3,219.4 167.6,218.5 168.0,220.4 168.4,220.9 168.7,218.2 169.1,221.6 169.4,224.2 169.8,218.4 170.2,222.4 170.5,221.2 170.9,221.9 171.2,219.4 171.6,221.6 172.0,220.4 172.3,222.5 172.7,221.8 173.0,221.3 173.4,220.2 173.8,220.1 174.1,222.8 174.5,222.1 174.9,220.3 175.2,222.4 175.6,220.2 175.9,223.8 176.3,222.5 176.7,221.4 177.0,219.7 177.4,220.7 177.7,220.9 178.1,220.8 178.5,221.3 178.8,221.3 179.2,221.7 179.5,222.4 179.9,219.3 180.3,219.8 180.6,219.9 181.0,224.4 181.3,221.1 181.7,218.3 182.1,222.5 182.4,222.3 182.8,221.4 183.2,221.8 183.5,219.9 183.9,220.7 184.2,220.6 184.6,221.2 185.0,219.8 185.3,221.0 185.7,219.6 186.0,220.5 186.4,221.4 186.8,219.6 187.1,220.1 187.5,220.4 187.8,221.0 188.2,220.8 188.6,221.5 188.9,222.6 189.3,219.3 189.7,219.8 190.0,220.6 190.4,221.0 190.7,222.0 191.1,220.8 191.5,219.6 191.8,223.0 192.2,220.4 192.5,220.4 192.9,223.2 193.3,221.8 193.6,220.7 194.0,220.1 194.3,219.0 194.7,220.0 195.1,220.6 195.4,219.4 195.8,220.9 196.1,220.9 196.5,219.5 196.9,221.8 197.2,218.8 197.6,219.8 198.0,220.9 198.3,219.8 198.7,221.8 199.0,221.6 199.4,220.9 199.8,221.9 200.1,219.2 200.5,220.7 200.8,221.6 201.2,222.2 201.6,220.3 201.9,219.0 202.3,222.1 202.6,219.5 203.0,226.0 203.4,219.2 203.7,221.5 204.1,219.7 204.4,219.9 204.8,222.3 205.2,219.6 205.5,220.8 205.9,220.0 206.3,220.7 206.6,221.1 207.0,224.0 207.3,218.1 207.7,220.5 208.1,219.9 208.4,223.0 208.8,223.3 209.1,220.9 209.5,220.6 209.9,219.8 210.2,221.8 210.6,222.0 210.9,218.3 211.3,220.8 211.7,221.1 212.0,221.0 212.4,219.6 212.7,222.1 213.1,219.8 213.5,221.1 213.8,223.8 214.2,220.1 214.6,219.1 214.9,222.4 215.3,222.2 215.6,223.7 216.0,219.3 216.4,223.1 216.7,219.8 217.1,220.8 217.4,221.3 217.8,220.7 218.2,221.4 218.5,221.6 218.9,220.0 219.2,220.9 219.6,221.1 220.0,219.3 220.3,222.6 220.7,223.4 221.1,219.2 221.4,221.2 221.8,220.9 222.1,221.0 222.5,222.3 222.9,219.4 223.2,221.3 223.6,219.9 223.9,221.8 224.3,222.6 224.7,221.2 225.0,222.8 225.4,220.6 225.7,220.5 226.1,220.1 226.5,219.4 226.8,221.7 227.2,223.6 227.5,222.2 227.9,221.0 228.3,221.3 228.6,220.5 229.0,219.8 229.4,221.1 229.7,220.6 230.1,221.1 230.4,221.6 230.8,222.6 231.2,222.4 231.5,220.6 231.9,219.6 232.2,222.4 232.6,218.7 233.0,222.7 233.3,224.1 233.7,219.8 234.0,222.4 234.4,223.5 234.8,219.1 235.1,221.3 235.5,221.5 235.8,221.7 236.2,219.8 236.6,224.0 236.9,223.0 237.3,219.8 237.7,221.2 238.0,219.8 238.4,221.3 238.7,221.4 239.1,221.3 239.5,221.4 239.8,221.3 240.2,221.8 240.5,220.2 240.9,220.2 241.3,222.9 241.6,222.8 242.0,224.5 242.3,220.7 242.7,218.5 243.1,218.8 243.4,220.6 243.8,221.6 244.2,220.3 244.5,220.2 244.9,220.0 245.2,222.0 245.6,220.5 246.0,220.6 246.3,220.2 246.7,220.8 247.0,219.9 247.4,220.8 247.8,222.2 248.1,217.7 248.5,224.5 248.8,219.8 249.2,222.3 249.6,220.0 249.9,222.6 250.3,218.2 250.6,219.7 251.0,222.1 251.4,221.8 251.7,220.5 252.1,218.8 252.5,220.8 252.8,224.4 253.2,221.2 253.5,222.6 253.9,220.5 254.3,218.8 254.6,223.6 255.0,220.5 255.3,220.3 255.7,221.1 256.1,220.1 256.4,221.0 256.8,220.8 257.1,220.6 257.5,222.8 257.9,221.7 258.2,222.1 258.6,221.0 258.9,220.2 259.3,221.8 259.7,219.3 260.0,219.7 260.4,222.3 260.8,220.9 261.1,222.9 261.5,220.8 261.8,218.8 262.2,220.8 262.6,222.1 262.9,219.9 263.3,220.4 263.6,218.5 264.0,221.4 264.4,225.0 264.7,222.3 265.1,222.3 265.4,221.5 265.8,218.3 266.2,219.3 266.5,220.8 266.9,220.9 267.2,222.3 267.6,221.4 268.0,222.4 268.3,220.8 268.7,217.9 269.1,222.1 269.4,222.0 269.8,221.8 270.1,217.6 270.5,220.9 270.9,220.2 271.2,219.9 271.6,221.0 271.9,220.3 272.3,222.3 272.7,222.4 273.0,220.7 273.4,223.7 273.7,221.2 274.1,219.9 274.5,220.6 274.8,221.8 275.2,220.7 275.6,221.1 275.9,220.8 276.3,220.9 276.6,220.1 277.0,221.5 277.4,219.1 277.7,221.2 278.1,221.1 278.4,219.1 278.8,222.2 279.2,219.4 279.5,220.8 279.9,223.1 280.2,222.4 280.6,219.9 281.0,219.7 281.3,222.9 281.7,221.3 282.0,218.5 282.4,220.0 282.8,219.4 283.1,219.9 283.5,219.7 283.9,219.4 284.2,221.1 284.6,218.6 284.9,218.8 285.3,221.0 285.7,221.7 286.0,222.1 286.4,223.3 286.7,222.4 287.1,221.0" fill="none" stroke="none" marker-start="url(#m2)" marker-mid="url(#m2)" marker-end="url(#m2)"/>
<circle cx="52.8" cy="317.7" r="2.1" fill="#fff" stroke="#9CD1C2" stroke-width="0.8"/>
<circle cx="53.6" cy="345.6" r="2.1" fill="#fff" stroke="#B2676C" stroke-width="0.8"/>
<circle cx="53.0" cy="361.6" r="2.1" fill="#fff" stroke="#4A88B5" stroke-width="0.8"/>
<circle cx="56.5" cy="246.5" r="2.1" fill="#fff" stroke="#B2676C" stroke-width="0.8"/>
<circle cx="55.3" cy="249.0" r="2.1" fill="#fff" stroke="#4A88B5" stroke-width="0.8"/>
<circle cx="53.3" cy="279" r="2.1" fill="#fff" stroke="#4A88B5" stroke-width="0.8"/>
<circle cx="54.0" cy="269.5" r="2.1" fill="#fff" stroke="#B2676C" stroke-width="0.8"/>
<circle cx="53.2" cy="228" r="2.1" fill="#fff" stroke="#4A88B5" stroke-width="0.8"/>
<circle cx="230.6" cy="312" r="2.1" fill="#fff" stroke="#9CD1C2" stroke-width="0.8"/>
<circle cx="229.4" cy="345" r="2.1" fill="#fff" stroke="#9CD1C2" stroke-width="0.8"/>
<polyline points="52.9,243.6 53.2,247.3 53.6,252.6 53.9,255.9 54.3,258.8 54.7,262.7 55.0,262.9 55.4,262.5 55.7,262.4 56.1,262.0 56.5,262.7 56.8,261.8 57.2,262.2 57.6,262.0 57.9,262.6 58.3,262.5 58.6,263.7 59.0,261.8 59.4,263.1 59.7,261.8 60.1,262.5 60.4,262.5 60.8,262.4 61.2,261.8 61.5,262.2 61.9,262.3 62.2,263.0 62.6,262.3 63.0,261.8 63.3,262.2 63.7,262.8 64.0,262.4 64.4,261.9 64.8,262.8 65.1,262.1 65.5,263.0 65.9,262.9 66.2,262.8 66.6,262.9 66.9,264.0 67.3,263.2 67.7,261.9 68.0,262.6 68.4,262.6 68.7,263.8 69.1,262.7 69.5,262.6 69.8,263.2 70.2,262.8 70.5,262.5 70.9,263.3 71.3,263.0 71.6,262.3 72.0,263.2 72.4,263.2 72.7,263.4 73.1,263.4 73.4,262.9 73.8,263.0 74.2,262.3 74.5,262.4 74.9,262.6 75.2,262.7 75.6,263.1 76.0,263.4 76.3,263.5 76.7,261.9 77.0,262.0 77.4,263.0 77.8,262.8 78.1,262.6 78.5,262.8 78.8,263.6 79.2,263.1 79.6,262.7 79.9,262.7 80.3,263.1 80.7,263.5 81.0,263.2 81.4,263.5 81.7,264.2 82.1,264.8 82.5,263.6 82.8,264.2 83.2,263.9 83.5,263.9 83.9,265.3 84.3,264.6 84.6,264.9 85.0,265.7 85.3,265.1 85.7,264.2 86.1,265.3 86.4,264.7 86.8,265.1 87.1,265.6 87.5,265.0 87.9,265.2 88.2,265.0 88.6,265.4 89.0,265.3 89.3,265.7 89.7,265.5 90.0,264.9 90.4,265.6 90.8,266.1 91.1,265.1 91.5,266.4 91.8,265.6 92.2,265.8 92.6,265.4 92.9,265.2 93.3,265.5 93.6,266.2 94.0,265.5 94.4,265.9 94.7,266.6 95.1,265.5 95.4,266.1 95.8,266.1 96.2,265.3 96.5,265.3 96.9,266.0 97.3,266.3 97.6,265.6 98.0,266.2 98.3,265.8 98.7,266.3 99.1,266.2 99.4,266.0 99.8,265.5 100.1,265.6 100.5,266.5 100.9,266.9 101.2,267.0 101.6,266.8 101.9,266.1 102.3,266.1 102.7,266.8 103.0,266.5 103.4,267.0 103.8,266.7 104.1,266.5 104.5,266.6 104.8,267.1 105.2,267.2 105.6,266.8 105.9,267.3 106.3,265.8 106.6,266.5 107.0,266.2 107.4,267.1 107.7,267.0 108.1,266.4 108.4,267.0 108.8,266.7 109.2,266.7 109.5,266.9 109.9,266.9 110.2,266.6 110.6,266.7 111.0,266.5 111.3,268.0 111.7,267.0 112.1,266.7 112.4,267.7 112.8,266.8 113.1,268.0 113.5,266.7 113.9,266.8 114.2,267.5 114.6,267.1 114.9,267.9 115.3,267.3 115.7,267.6 116.0,268.0 116.4,267.5 116.7,267.2 117.1,268.5 117.5,267.5 117.8,268.3 118.2,268.0 118.5,268.1 118.9,267.2 119.3,267.3 119.6,267.7 120.0,267.9 120.4,267.1 120.7,267.9 121.1,268.0 121.4,268.9 121.8,268.6 122.2,268.4 122.5,267.9 122.9,268.4 123.2,268.1 123.6,267.4 124.0,268.3 124.3,268.5 124.7,269.0 125.0,268.1 125.4,267.7 125.8,268.3 126.1,268.1 126.5,268.4 126.9,267.7 127.2,267.9 127.6,269.3 127.9,269.0 128.3,268.3 128.7,268.6 129.0,268.3 129.4,269.2 129.7,268.5 130.1,269.6 130.5,269.6 130.8,268.4 131.2,269.0 131.5,269.1 131.9,269.7 132.3,269.2 132.6,269.4 133.0,269.7 133.3,268.7 133.7,269.6 134.1,269.2 134.4,269.9 134.8,270.0 135.2,269.0 135.5,269.6 135.9,269.9 136.2,269.3 136.6,269.8 137.0,269.9 137.3,270.3 137.7,269.7 138.0,270.4 138.4,270.7 138.8,270.0 139.1,270.7 139.5,269.9 139.8,270.7 140.2,270.2 140.6,270.3 140.9,271.2 141.3,269.9 141.6,270.9 142.0,270.6 142.4,270.6 142.7,270.1 143.1,270.9 143.5,270.9 143.8,270.9 144.2,271.1 144.5,270.4 144.9,270.9 145.3,271.6 145.6,271.2 146.0,270.5 146.3,271.5 146.7,271.5 147.1,271.4 147.4,270.8 147.8,271.3 148.1,270.2 148.5,270.8 148.9,271.4 149.2,271.4 149.6,271.0 149.9,271.7 150.3,271.6 150.7,271.9 151.0,271.5 151.4,272.2 151.8,271.7 152.1,271.5 152.5,271.6 152.8,271.6 153.2,271.8 153.6,272.0 153.9,272.5 154.3,272.2 154.6,272.5 155.0,272.7 155.4,272.3 155.7,272.7 156.1,271.6 156.4,272.1 156.8,272.2 157.2,272.6 157.5,272.3 157.9,272.8 158.3,272.2 158.6,273.1 159.0,272.8 159.3,272.7 159.7,272.5 160.1,272.7 160.4,272.4 160.8,273.4 161.1,273.2 161.5,272.2 161.9,272.7 162.2,273.8 162.6,273.5 162.9,273.3 163.3,273.1 163.7,274.3 164.0,273.3 164.4,274.3 164.7,274.2 165.1,273.5 165.5,274.4 165.8,273.8 166.2,273.7 166.6,274.0 166.9,274.5 167.3,272.8 167.6,274.8 168.0,274.0 168.4,274.0 168.7,273.8 169.1,274.3 169.4,274.3 169.8,274.9 170.2,275.0 170.5,274.2 170.9,274.8 171.2,273.9 171.6,273.9 172.0,274.8 172.3,275.0 172.7,273.9 173.0,274.5 173.4,275.2 173.8,274.5 174.1,275.2 174.5,274.8 174.9,274.9 175.2,274.0 175.6,274.7 175.9,276.0 176.3,275.3 176.7,275.3 177.0,275.5 177.4,276.4 177.7,274.8 178.1,275.8 178.5,275.9 178.8,276.2 179.2,275.6 179.5,275.5 179.9,275.6 180.3,275.6 180.6,275.6 181.0,276.2 181.3,275.4 181.7,276.1 182.1,276.0 182.4,275.9 182.8,277.1 183.2,275.8 183.5,276.1 183.9,277.1 184.2,276.5 184.6,276.4 185.0,276.7 185.3,276.9 185.7,276.6 186.0,276.3 186.4,277.1 186.8,276.0 187.1,276.7 187.5,277.1 187.8,277.1 188.2,276.9 188.6,276.5 188.9,277.3 189.3,278.0 189.7,276.3 190.0,276.6 190.4,277.3 190.7,277.6 191.1,277.1 191.5,277.2 191.8,277.6 192.2,277.3 192.5,277.9 192.9,277.8 193.3,278.1 193.6,277.6 194.0,279.0 194.3,277.3 194.7,278.1 195.1,278.6 195.4,278.6 195.8,277.8 196.1,277.7 196.5,278.0 196.9,278.6 197.2,277.7 197.6,278.2 198.0,278.4 198.3,278.3 198.7,278.4 199.0,278.3 199.4,278.2 199.8,278.7 200.1,278.5 200.5,278.9 200.8,279.0 201.2,278.7 201.6,279.1 201.9,279.3 202.3,279.0 202.6,279.3 203.0,280.6 203.4,280.0 203.7,279.8 204.1,279.7 204.4,279.5 204.8,280.0 205.2,279.5 205.5,279.6 205.9,279.3 206.3,279.7 206.6,279.8 207.0,279.9 207.3,280.6 207.7,279.9 208.1,279.6 208.4,280.2 208.8,280.0 209.1,280.5 209.5,280.1 209.9,280.6 210.2,280.9 210.6,279.9 210.9,280.9 211.3,280.1 211.7,280.7 212.0,280.7 212.4,281.1 212.7,281.0 213.1,280.7 213.5,282.1 213.8,280.8 214.2,281.5 214.6,281.2 214.9,281.1 215.3,281.3 215.6,281.2 216.0,281.8 216.4,281.6 216.7,281.8 217.1,282.0 217.4,282.5 217.8,282.1 218.2,281.4 218.5,281.1 218.9,281.9 219.2,281.6 219.6,282.5 220.0,282.1 220.3,282.6 220.7,281.8 221.1,282.7 221.4,282.1 221.8,283.1 222.1,282.9 222.5,283.2 222.9,283.2 223.2,284.5 223.6,280.2 223.9,284.8 224.3,284.6 224.7,283.8 225.0,281.1 225.4,279.1 225.7,285.2 226.1,285.0 226.5,286.2 226.8,283.1 227.2,287.1 227.5,287.5 227.9,286.8 228.3,287.0 228.6,287.4 229.0,287.6 229.4,288.8 229.7,288.8 230.1,282.8 230.4,289.8 230.8,289.5 231.2,284.4 231.5,285.9 231.9,291.0 232.2,291.8 232.6,292.7 233.0,290.4 233.3,292.0 233.7,294.1 234.0,293.7 234.4,294.7 234.8,295.4" fill="none" stroke="none" marker-start="url(#m3)" marker-mid="url(#m3)" marker-end="url(#m3)"/>
<polyline points="52.9,243.7 53.2,247.4 53.6,251.7 53.9,255.2 54.3,259.3 54.7,261.4 55.0,262.7 55.4,262.0 55.7,262.5 56.1,262.3 56.5,261.6 56.8,262.6 57.2,262.1 57.6,263.1 57.9,262.9 58.3,262.9 58.6,262.5 59.0,261.8 59.4,262.5 59.7,263.3 60.1,261.9 60.4,263.3 60.8,263.3 61.2,262.3 61.5,262.7 61.9,262.7 62.2,262.5 62.6,262.6 63.0,262.6 63.3,262.8 63.7,262.1 64.0,262.5 64.4,263.1 64.8,262.3 65.1,263.3 65.5,263.5 65.9,262.6 66.2,262.8 66.6,263.0 66.9,262.2 67.3,262.6 67.7,263.3 68.0,262.9 68.4,263.0 68.7,262.9 69.1,262.7 69.5,262.3 69.8,262.7 70.2,261.9 70.5,262.5 70.9,263.1 71.3,262.7 71.6,262.5 72.0,262.3 72.4,262.7 72.7,262.1 73.1,263.1 73.4,263.0 73.8,262.7 74.2,263.0 74.5,262.6 74.9,262.4 75.2,262.8 75.6,262.8 76.0,263.0 76.3,262.8 76.7,262.8 77.0,262.8 77.4,263.4 77.8,262.3 78.1,262.3 78.5,263.0 78.8,262.8 79.2,263.1 79.6,262.8 79.9,263.2 80.3,263.3 80.7,262.9 81.0,262.1 81.4,262.9 81.7,262.4 82.1,262.5 82.5,262.7 82.8,262.8 83.2,261.9 83.5,262.7 83.9,261.2 84.3,262.2 84.6,262.4 85.0,262.5 85.3,262.3 85.7,262.3 86.1,262.2 86.4,262.1 86.8,262.7 87.1,262.4 87.5,262.8 87.9,262.0 88.2,263.1 88.6,263.0 89.0,261.6 89.3,262.3 89.7,262.7 90.0,261.9 90.4,262.4 90.8,261.9 91.1,261.9 91.5,261.6 91.8,262.3 92.2,261.5 92.6,262.0 92.9,261.9 93.3,261.9 93.6,262.0 94.0,262.0 94.4,261.7 94.7,261.4 95.1,260.9 95.4,261.4 95.8,262.0 96.2,262.1 96.5,261.3 96.9,261.3 97.3,261.6 97.6,261.8 98.0,261.8 98.3,261.3 98.7,261.9 99.1,261.2 99.4,261.7 99.8,262.5 100.1,261.5 100.5,261.5 100.9,262.3 101.2,261.5 101.6,261.8 101.9,262.0 102.3,262.5 102.7,262.3 103.0,261.3 103.4,261.2 103.8,261.4 104.1,261.3 104.5,261.9 104.8,261.8 105.2,261.5 105.6,261.0 105.9,261.3 106.3,261.7 106.6,261.8 107.0,261.7 107.4,261.9 107.7,261.9 108.1,261.8 108.4,261.6 108.8,260.9 109.2,261.8 109.5,260.7 109.9,260.9 110.2,260.5 110.6,261.3 111.0,261.4 111.3,261.9 111.7,260.7 112.1,260.6 112.4,261.2 112.8,261.4 113.1,261.6 113.5,261.8 113.9,260.2 114.2,260.4 114.6,261.0 114.9,261.6 115.3,260.8 115.7,261.3 116.0,261.2 116.4,260.6 116.7,261.2 117.1,260.9 117.5,261.2 117.8,260.5 118.2,260.9 118.5,261.2 118.9,260.7 119.3,260.7 119.6,260.7 120.0,260.9 120.4,261.2 120.7,260.9 121.1,260.8 121.4,260.2 121.8,260.8 122.2,260.5 122.5,260.7 122.9,260.5 123.2,260.7 123.6,260.6 124.0,260.5 124.3,260.8 124.7,260.7 125.0,260.9 125.4,260.7 125.8,260.4 126.1,261.0 126.5,260.7 126.9,260.7 127.2,260.7 127.6,261.0 127.9,260.7 128.3,260.8 128.7,260.7 129.0,261.0 129.4,260.7 129.7,261.1 130.1,261.5 130.5,260.7 130.8,261.4 131.2,261.5 131.5,260.8 131.9,261.6 132.3,261.6 132.6,261.8 133.0,260.8 133.3,261.3 133.7,261.9 134.1,261.3 134.4,261.9 134.8,261.5 135.2,261.6 135.5,262.2 135.9,262.3 136.2,261.4 136.6,261.8 137.0,262.3 137.3,262.8 137.7,262.5 138.0,261.9 138.4,262.1 138.8,261.9 139.1,262.6 139.5,262.5 139.8,262.3 140.2,262.5 140.6,263.1 140.9,262.2 141.3,262.8 141.6,262.6 142.0,261.9 142.4,262.3 142.7,262.4 143.1,262.8 143.5,262.4 143.8,262.9 144.2,262.7 144.5,262.6 144.9,262.4 145.3,262.7 145.6,263.5 146.0,263.3 146.3,264.0 146.7,263.1 147.1,263.0 147.4,262.5 147.8,262.8 148.1,263.7 148.5,263.3 148.9,262.9 149.2,263.8 149.6,263.9 149.9,263.8 150.3,263.1 150.7,264.0 151.0,263.2 151.4,263.1 151.8,263.8 152.1,263.7 152.5,263.3 152.8,263.3 153.2,263.8 153.6,264.0 153.9,263.4 154.3,263.0 154.6,264.0 155.0,264.3 155.4,263.8 155.7,263.8 156.1,264.4 156.4,263.4 156.8,264.4 157.2,263.4 157.5,263.9 157.9,264.2 158.3,264.7 158.6,263.8 159.0,263.9 159.3,264.2 159.7,264.9 160.1,264.2 160.4,264.1 160.8,264.9 161.1,264.6 161.5,264.8 161.9,264.7 162.2,265.1 162.6,264.3 162.9,263.7 163.3,264.5 163.7,264.7 164.0,265.1 164.4,264.8 164.7,265.0 165.1,264.9 165.5,264.5 165.8,265.5 166.2,264.8 166.6,264.5 166.9,264.9 167.3,265.5 167.6,265.1 168.0,264.4 168.4,265.5 168.7,265.8 169.1,264.6 169.4,264.9 169.8,265.9 170.2,265.4 170.5,264.9 170.9,265.6 171.2,266.0 171.6,265.6 172.0,265.2 172.3,265.6 172.7,266.0 173.0,265.8 173.4,265.1 173.8,265.5 174.1,265.9 174.5,266.1 174.9,265.3 175.2,265.9 175.6,265.7 175.9,265.6 176.3,265.7 176.7,265.9 177.0,266.0 177.4,265.3 177.7,266.0 178.1,265.2 178.5,266.1 178.8,266.2 179.2,265.9 179.5,266.0 179.9,266.2 180.3,266.7 180.6,266.5 181.0,266.5 181.3,266.3 181.7,266.0 182.1,266.5 182.4,266.2 182.8,266.5 183.2,266.0 183.5,266.8 183.9,267.5 184.2,266.8 184.6,266.9 185.0,266.9 185.3,266.3 185.7,266.8 186.0,266.8 186.4,266.9 186.8,267.5 187.1,266.9 187.5,267.6 187.8,266.8 188.2,267.0 188.6,266.7 188.9,267.0 189.3,267.0 189.7,267.2 190.0,267.3 190.4,267.2 190.7,267.2 191.1,267.4 191.5,266.7 191.8,267.3 192.2,267.4 192.5,267.1 192.9,267.0 193.3,267.7 193.6,267.1 194.0,267.9 194.3,267.9 194.7,267.8 195.1,267.8 195.4,266.9 195.8,267.6 196.1,267.7 196.5,268.0 196.9,267.2 197.2,268.1 197.6,268.0 198.0,268.0 198.3,268.6 198.7,267.7 199.0,268.5 199.4,267.8 199.8,268.3 200.1,267.4 200.5,268.1 200.8,267.9 201.2,267.4 201.6,268.7 201.9,269.0 202.3,269.3 202.6,269.1 203.0,268.3 203.4,269.2 203.7,269.5 204.1,269.1 204.4,269.1 204.8,269.4 205.2,269.6 205.5,268.7 205.9,269.3 206.3,269.2 206.6,269.7 207.0,269.7 207.3,269.5 207.7,269.8 208.1,269.0 208.4,270.2 208.8,269.3 209.1,269.2 209.5,271.2 209.9,269.7 210.2,269.4 210.6,270.5 210.9,270.0 211.3,269.9 211.7,270.6 212.0,270.5 212.4,271.0 212.7,269.9 213.1,270.8 213.5,270.9 213.8,270.9 214.2,270.7 214.6,271.5 214.9,271.6 215.3,271.1 215.6,272.3 216.0,272.5 216.4,271.8 216.7,272.2 217.1,271.3 217.4,272.1 217.8,272.1 218.2,272.8 218.5,272.4 218.9,272.3 219.2,272.7 219.6,273.0 220.0,272.9 220.3,273.0 220.7,272.1 221.1,272.3 221.4,273.0 221.8,272.7 222.1,273.0 222.5,273.3 222.9,273.5 223.2,273.2 223.6,273.8 223.9,273.9 224.3,273.9 224.7,273.9 225.0,274.5 225.4,274.6 225.7,275.1 226.1,274.5 226.5,274.2 226.8,274.7 227.2,274.6 227.5,274.6 227.9,274.9 228.3,275.5 228.6,275.6 229.0,275.8 229.4,276.0 229.7,276.8 230.1,275.7 230.4,276.6 230.8,276.3 231.2,277.1 231.5,276.7 231.9,276.6 232.2,277.4 232.6,277.7 233.0,278.2 233.3,277.6 233.7,278.0 234.0,278.0 234.4,277.4 234.8,279.0 235.1,277.6 235.5,279.7 235.8,279.7 236.2,279.8 236.6,280.3 236.9,280.9 237.3,280.7 237.7,281.6 238.0,281.8 238.4,281.7 238.7,282.8 239.1,283.2 239.5,283.6 239.8,284.8 240.2,283.7 240.5,284.9 240.9,285.2 241.3,285.8 241.6,286.2 242.0,287.4 242.3,288.1 242.7,288.5 243.1,289.2 243.4,290.1 243.8,291.2 244.2,291.3 244.5,292.5 244.9,292.6 245.2,294.4 245.6,295.0 246.0,294.5" fill="none" stroke="none" marker-start="url(#m4)" marker-mid="url(#m4)" marker-end="url(#m4)"/>
<polyline points="52.9,244.3 53.2,246.8 53.6,250.5 53.9,253.1 54.3,256.3 54.7,256.0 55.0,256.5 55.4,257.1 55.7,257.3 56.1,258.2 56.5,258.7 56.8,258.4 57.2,258.6 57.6,258.6 57.9,257.9 58.3,257.9 58.6,259.1 59.0,258.2 59.4,257.9 59.7,258.7 60.1,258.0 60.4,258.7 60.8,257.5 61.2,258.3 61.5,258.1 61.9,259.2 62.2,258.4 62.6,257.5 63.0,258.5 63.3,257.7 63.7,258.1 64.0,257.8 64.4,258.6 64.8,258.6 65.1,258.1 65.5,258.1 65.9,257.8 66.2,258.4 66.6,258.5 66.9,259.6 67.3,258.4 67.7,257.5 68.0,258.7 68.4,258.1 68.7,258.5 69.1,258.2 69.5,257.9 69.8,258.1 70.2,258.2 70.5,258.9 70.9,259.6 71.3,259.4 71.6,258.3 72.0,259.2 72.4,258.3 72.7,259.1 73.1,259.1 73.4,258.3 73.8,259.1 74.2,259.5 74.5,259.3 74.9,258.5 75.2,259.0 75.6,258.4 76.0,258.3 76.3,259.1 76.7,259.2 77.0,259.9 77.4,260.3 77.8,259.0 78.1,258.2 78.5,259.7 78.8,259.4 79.2,259.5 79.6,259.3 79.9,258.2 80.3,259.3 80.7,259.6 81.0,259.5 81.4,260.4 81.7,260.1 82.1,259.0 82.5,259.5 82.8,259.8 83.2,259.3 83.5,260.9 83.9,260.0 84.3,260.1 84.6,258.6 85.0,259.7 85.3,260.5 85.7,259.6 86.1,259.3 86.4,260.1 86.8,259.6 87.1,259.6 87.5,260.0 87.9,260.5 88.2,260.0 88.6,260.4 89.0,260.4 89.3,259.4 89.7,259.7 90.0,260.8 90.4,260.5 90.8,261.1 91.1,261.1 91.5,260.2 91.8,260.5 92.2,259.9 92.6,259.8 92.9,261.1 93.3,260.5 93.6,261.2 94.0,261.3 94.4,260.9 94.7,260.2 95.1,260.2 95.4,259.6 95.8,261.0 96.2,260.9 96.5,261.0 96.9,260.7 97.3,260.7 97.6,261.1 98.0,260.5 98.3,260.4 98.7,261.0 99.1,260.5 99.4,261.4 99.8,261.1 100.1,261.8 100.5,260.4 100.9,261.4 101.2,261.1 101.6,262.0 101.9,261.2 102.3,261.9 102.7,260.5 103.0,260.9 103.4,261.0 103.8,261.0 104.1,261.3 104.5,261.0 104.8,261.3 105.2,261.4 105.6,261.9 105.9,260.9 106.3,261.3 106.6,261.9 107.0,261.6 107.4,262.0 107.7,261.8 108.1,261.8 108.4,262.0 108.8,261.6 109.2,261.6 109.5,262.0 109.9,261.4 110.2,261.6 110.6,261.8 111.0,262.4 111.3,262.7 111.7,261.8 112.1,261.8 112.4,261.5 112.8,262.8 113.1,262.2 113.5,262.0 113.9,262.1 114.2,262.1 114.6,262.6 114.9,262.3 115.3,262.3 115.7,262.6 116.0,263.2 116.4,262.7 116.7,261.8 117.1,262.5 117.5,262.9 117.8,262.4 118.2,261.7 118.5,262.9 118.9,262.7 119.3,262.8 119.6,262.3 120.0,263.3 120.4,263.6 120.7,262.5 121.1,263.2 121.4,262.6 121.8,263.7 122.2,263.0 122.5,262.7 122.9,263.3 123.2,263.7 123.6,263.4 124.0,262.4 124.3,262.3 124.7,263.8 125.0,263.9 125.4,263.6 125.8,263.4 126.1,263.3 126.5,263.7 126.9,263.8 127.2,264.1 127.6,263.9 127.9,263.9 128.3,263.9 128.7,264.3 129.0,263.9 129.4,263.4 129.7,264.4 130.1,263.9 130.5,264.7 130.8,263.9 131.2,264.6 131.5,264.4 131.9,263.2 132.3,264.6 132.6,263.6 133.0,263.6 133.3,264.3 133.7,264.6 134.1,264.1 134.4,264.5 134.8,264.1 135.2,264.5 135.5,264.3 135.9,263.8 136.2,264.2 136.6,264.2 137.0,264.7 137.3,265.4 137.7,264.3 138.0,264.6 138.4,265.1 138.8,264.9 139.1,265.2 139.5,264.5 139.8,265.0 140.2,264.2 140.6,264.8 140.9,265.3 141.3,265.5 141.6,265.4 142.0,265.6 142.4,265.2 142.7,266.0 143.1,264.4 143.5,264.6 143.8,266.4 144.2,264.0 144.5,266.4 144.9,265.7 145.3,265.3 145.6,266.2 146.0,265.7 146.3,265.3 146.7,265.2 147.1,266.0 147.4,265.3 147.8,265.3 148.1,264.6 148.5,267.7 148.9,266.0 149.2,266.9 149.6,265.8 149.9,266.0 150.3,266.1 150.7,266.5 151.0,266.2 151.4,265.1 151.8,265.4 152.1,265.6 152.5,266.2 152.8,266.6 153.2,266.4 153.6,266.0 153.9,265.6 154.3,266.8 154.6,266.0 155.0,265.8 155.4,267.1 155.7,266.6 156.1,267.7 156.4,267.9 156.8,267.0 157.2,266.7 157.5,266.5 157.9,267.8 158.3,266.8 158.6,267.5 159.0,266.8 159.3,267.3 159.7,268.4 160.1,266.6 160.4,266.4 160.8,267.4 161.1,267.7 161.5,267.9 161.9,268.4 162.2,267.2 162.6,267.5 162.9,267.5 163.3,267.0 163.7,267.7 164.0,267.8 164.4,266.5 164.7,268.2 165.1,267.4 165.5,267.4 165.8,267.6 166.2,267.9 166.6,267.3 166.9,268.8 167.3,268.5 167.6,268.0 168.0,268.0 168.4,268.1 168.7,268.4 169.1,268.1 169.4,268.8 169.8,267.3 170.2,269.1 170.5,267.5 170.9,269.0 171.2,268.6 171.6,267.7 172.0,268.0 172.3,267.2 172.7,269.1 173.0,268.2 173.4,269.2 173.8,268.3 174.1,268.3 174.5,268.6 174.9,268.4 175.2,268.2 175.6,268.8 175.9,269.3 176.3,268.3 176.7,269.2 177.0,269.2 177.4,268.9 177.7,268.7 178.1,267.8 178.5,269.5 178.8,268.7 179.2,268.8 179.5,269.2 179.9,268.8 180.3,268.4 180.6,269.1 181.0,269.7 181.3,269.0 181.7,268.4 182.1,269.3 182.4,269.5 182.8,269.3 183.2,269.3 183.5,269.2 183.9,268.5 184.2,269.9 184.6,270.0 185.0,268.1 185.3,270.1 185.7,269.9 186.0,269.5 186.4,269.9 186.8,269.7 187.1,269.4 187.5,270.5 187.8,269.3 188.2,271.0 188.6,270.1 188.9,269.6 189.3,269.3 189.7,269.7 190.0,269.5 190.4,269.6 190.7,269.9 191.1,269.8 191.5,270.6 191.8,270.8 192.2,269.8 192.5,270.8 192.9,270.3 193.3,269.9 193.6,270.5 194.0,269.3 194.3,270.7 194.7,270.5 195.1,270.6 195.4,270.7 195.8,270.4 196.1,270.6 196.5,272.1 196.9,274.0 197.2,274.3 197.6,273.9 198.0,272.3 198.3,270.6 198.7,271.4 199.0,270.8 199.4,271.4 199.8,270.6 200.1,270.8 200.5,270.4 200.8,272.2 201.2,271.7 201.6,271.0 201.9,271.2 202.3,271.3 202.6,271.2 203.0,271.0 203.4,270.8 203.7,271.0 204.1,271.1 204.4,271.6 204.8,270.5 205.2,271.4 205.5,270.8 205.9,271.0 206.3,271.2 206.6,271.6 207.0,271.0 207.3,271.3 207.7,271.2 208.1,271.7 208.4,272.3 208.8,271.8 209.1,271.9 209.5,271.0 209.9,271.7 210.2,271.8 210.6,270.4 210.9,271.4 211.3,271.8 211.7,271.2 212.0,270.6 212.4,270.8 212.7,272.2 213.1,272.1 213.5,271.6 213.8,271.9 214.2,271.9 214.6,272.1 214.9,272.4 215.3,271.7 215.6,271.5 216.0,271.9 216.4,272.4 216.7,271.3 217.1,271.3 217.4,272.5 217.8,271.8 218.2,272.0 218.5,272.0 218.9,272.6 219.2,271.7 219.6,271.5 220.0,272.9 220.3,272.7 220.7,271.5 221.1,272.1 221.4,272.6 221.8,271.6 222.1,273.0 222.5,272.9 222.9,272.2 223.2,272.6 223.6,272.1 223.9,272.6 224.3,272.7 224.7,272.4 225.0,272.7 225.4,272.3 225.7,272.9 226.1,273.3 226.5,272.9 226.8,272.9 227.2,273.4 227.5,272.5 227.9,273.8 228.3,273.4 228.6,273.7 229.0,272.5 229.4,273.5 229.7,272.4 230.1,272.7 230.4,272.9 230.8,273.8 231.2,272.7 231.5,273.5 231.9,273.2 232.2,273.1 232.6,273.0 233.0,273.1 233.3,273.2 233.7,273.3 234.0,272.4 234.4,273.6 234.8,273.5 235.1,272.2 235.5,272.4 235.8,273.3 236.2,273.4 236.6,273.3 236.9,273.0 237.3,273.4 237.7,273.4 238.0,274.0 238.4,274.3 238.7,274.2 239.1,273.6 239.5,273.4 239.8,273.9 240.2,273.7 240.5,273.4 240.9,274.4 241.3,273.4 241.6,274.6 242.0,274.7 242.3,273.8 242.7,273.7 243.1,273.7 243.4,273.9 243.8,273.9 244.2,274.2 244.5,274.0 244.9,274.4 245.2,274.5 245.6,274.7 246.0,274.6 246.3,273.7 246.7,274.9 247.0,274.3 247.4,274.6 247.8,273.9 248.1,274.5 248.5,275.3 248.8,274.1 249.2,275.3 249.6,274.1 249.9,274.8 250.3,274.2 250.6,274.8 251.0,275.0 251.4,275.4 251.7,275.5 252.1,274.7 252.5,275.0 252.8,273.6 253.2,274.4 253.5,274.5 253.9,274.8 254.3,274.4 254.6,274.8 255.0,274.4 255.3,274.7 255.7,274.6 256.1,274.8 256.4,274.8 256.8,274.7 257.1,275.4 257.5,274.6 257.9,275.0 258.2,275.4 258.6,275.8 258.9,274.8 259.3,274.3 259.7,275.4 260.0,275.3 260.4,275.9 260.8,275.6 261.1,275.4 261.5,276.3 261.8,275.4 262.2,274.8 262.6,274.8 262.9,275.2 263.3,275.0 263.6,276.6 264.0,275.2 264.4,276.8 264.7,276.4 265.1,274.9 265.4,274.6 265.8,276.1 266.2,275.4 266.5,275.3 266.9,276.1 267.2,276.2 267.6,276.1 268.0,275.6 268.3,275.8 268.7,275.5 269.1,276.0 269.4,275.4 269.8,275.7 270.1,275.4 270.5,276.3 270.9,276.6 271.2,275.8 271.6,275.7 271.9,276.7 272.3,276.7 272.7,275.2 273.0,276.4 273.4,276.0 273.7,276.4 274.1,276.6 274.5,275.7 274.8,276.3 275.2,276.3 275.6,277.0 275.9,276.4 276.3,276.0 276.6,276.9 277.0,276.3 277.4,276.5 277.7,276.0 278.1,276.3 278.4,277.1 278.8,276.1 279.2,276.4 279.5,277.0 279.9,276.3 280.2,276.8 280.6,276.4 281.0,276.1 281.3,276.3 281.7,277.6 282.0,277.0 282.4,276.6 282.8,277.4 283.1,276.7 283.5,277.4 283.9,276.6 284.2,277.0 284.6,276.8 284.9,277.2 285.3,277.3 285.7,276.5 286.0,276.9 286.4,277.5 286.7,277.1 287.1,276.9" fill="none" stroke="none" marker-start="url(#m5)" marker-mid="url(#m5)" marker-end="url(#m5)"/>
</g>
<path d="M52.50,212.45H287.10V365.00H52.50Z" fill="none" stroke="#000" stroke-width="1.2"/>
<path d="M52.50,365.00v4.4M88.59,365.00v4.4M124.68,365.00v4.4M160.78,365.00v4.4M196.87,365.00v4.4M232.96,365.00v4.4M269.05,365.00v4.4M70.55,365.00v2.5M106.64,365.00v2.5M142.73,365.00v2.5M178.82,365.00v2.5M214.92,365.00v2.5M251.01,365.00v2.5M287.10,365.00v2.5" stroke="#000" stroke-width="1.1" fill="none"/>
<text x="52.50" y="381.90" text-anchor="middle" font-size="12.0" fill="#000">0</text>
<text x="88.59" y="381.90" text-anchor="middle" font-size="12.0" fill="#000">100</text>
<text x="124.68" y="381.90" text-anchor="middle" font-size="12.0" fill="#000">200</text>
<text x="160.78" y="381.90" text-anchor="middle" font-size="12.0" fill="#000">300</text>
<text x="196.87" y="381.90" text-anchor="middle" font-size="12.0" fill="#000">400</text>
<text x="232.96" y="381.90" text-anchor="middle" font-size="12.0" fill="#000">500</text>
<text x="269.05" y="381.90" text-anchor="middle" font-size="12.0" fill="#000">600</text>
<path d="M52.50,365.00h-4.4M52.50,326.86h-4.4M52.50,288.73h-4.4M52.50,250.59h-4.4M52.50,212.45h-4.4M52.50,345.93h-2.5M52.50,307.79h-2.5M52.50,269.66h-2.5M52.50,231.52h-2.5" stroke="#000" stroke-width="1.1" fill="none"/>
<text x="44.90" y="368.50" text-anchor="end" font-size="12.0" fill="#000">0</text>
<text x="44.90" y="330.36" text-anchor="end" font-size="12.0" fill="#000">70</text>
<text x="44.90" y="292.23" text-anchor="end" font-size="12.0" fill="#000">140</text>
<text x="44.90" y="254.09" text-anchor="end" font-size="12.0" fill="#000">210</text>
<text x="44.90" y="215.95" text-anchor="end" font-size="12.0" fill="#000">280</text>
<path d="M287.10,365.00h4.4M287.10,328.68h4.4M287.10,292.36h4.4M287.10,256.04h4.4M287.10,219.71h4.4M287.10,346.84h2.5M287.10,310.52h2.5M287.10,274.20h2.5M287.10,237.88h2.5" stroke="#000" stroke-width="1.1" fill="none"/>
<text x="294.60" y="368.50" text-anchor="start" font-size="12.0" fill="#000">80</text>
<text x="294.60" y="332.18" text-anchor="start" font-size="12.0" fill="#000">85</text>
<text x="294.60" y="295.86" text-anchor="start" font-size="12.0" fill="#000">90</text>
<text x="294.60" y="259.54" text-anchor="start" font-size="12.0" fill="#000">95</text>
<text x="294.60" y="223.21" text-anchor="start" font-size="12.0" fill="#000">100</text>
<text x="169.80" y="396.60" text-anchor="middle" font-size="12.0" fill="#000">Cycle number</text>
<text transform="translate(17.20,360.50) rotate(-90)" text-anchor="start" font-size="12.0">Specific capacity (mAh g<tspan dy="-4.7" font-size="8.1">−1</tspan><tspan dy="4.7">)</tspan></text>
<text transform="translate(327.90,355.00) rotate(-90)" text-anchor="start" font-size="12.0">Coulombic efficiency (%)</text>
<text x="-0.30" y="205.50" text-anchor="start" font-size="12" fill="#000" font-weight="bold">c</text>
<text x="97.30" y="250.00" text-anchor="middle" font-size="11.4" fill="#B2676C">TFPM</text>
<text x="183.60" y="295.00" text-anchor="middle" font-size="11.4" fill="#9CD1C2">PM</text>
<text x="257.80" y="311.70" text-anchor="middle" font-size="11.4" fill="#4A88B5">TFBM</text>
<text x="63.40" y="342.80" text-anchor="start" font-size="11.4" fill="#000">Li||0.74 mAh cm<tspan dy="-3.0" font-size="8.2">−2</tspan><tspan dy="3.0"> NMC811</tspan></text>
<text x="63.40" y="356.20" text-anchor="start" font-size="11.7" fill="#000">4.4 V, 2 C, 30 °C</text>
<g>
<path d="M410.2,222 L410.6,262 M411.4,224 L411.6,258" stroke="#A08CA8" stroke-opacity="0.55" stroke-width="1.2" fill="none"/>
<path d="M584.3,222V364.3" stroke="#9CD1C2" stroke-width="1.0" stroke-opacity="0.4"/>
<polyline points="408.9,220.1 409.2,219.1 409.4,221.2 409.7,219.2 410.0,217.5 410.2,217.5 410.5,220.2 410.7,224.6 411.0,216.7 411.3,217.9 411.5,221.1 411.8,215.2 412.0,218.8 412.3,215.3 412.6,218.0 412.8,218.5 413.1,219.8 413.3,217.3 413.6,218.9 413.9,218.1 414.1,217.4 414.4,216.4 414.6,221.2 414.9,218.5 415.2,221.7 415.4,221.3 415.7,218.0 415.9,219.8 416.2,218.1 416.5,219.4 416.7,218.2 417.0,218.1 417.2,217.5 417.5,220.7 417.8,218.1 418.0,220.5 418.3,219.4 418.5,218.5 418.8,219.8 419.1,219.3 419.3,219.1 419.6,217.0 419.8,219.0 420.1,220.1 420.4,219.6 420.6,220.3 420.9,221.0 421.2,219.4 421.4,221.6 421.7,216.7 421.9,218.5 422.2,215.3 422.5,220.0 422.7,219.0 423.0,221.2 423.2,218.3 423.5,216.0 423.8,220.6 424.0,217.0 424.3,217.1 424.5,218.6 424.8,219.7 425.1,218.1 425.3,219.1 425.6,216.2 425.8,221.2 426.1,218.7 426.4,219.0 426.6,219.6 426.9,219.0 427.1,219.1 427.4,217.5 427.7,218.6 427.9,219.4 428.2,220.3 428.4,218.6 428.7,218.9 429.0,219.3 429.2,219.6 429.5,219.1 429.7,218.4 430.0,218.1 430.3,220.3 430.5,219.2 430.8,218.8 431.0,223.6 431.3,220.0 431.6,220.0 431.8,219.0 432.1,217.3 432.3,220.3 432.6,218.6 432.9,218.8 433.1,220.2 433.4,220.2 433.6,219.1 433.9,218.8 434.2,221.7 434.4,219.5 434.7,217.3 434.9,219.8 435.2,218.9 435.5,218.8 435.7,219.7 436.0,219.0 436.2,221.5 436.5,219.0 436.8,219.1 437.0,220.3 437.3,217.9 437.5,220.1 437.8,218.6 438.1,220.4 438.3,217.5 438.6,219.3 438.8,216.5 439.1,218.1 439.4,218.7 439.6,219.4 439.9,221.4 440.1,221.2 440.4,216.8 440.7,217.6 440.9,220.4 441.2,219.3 441.4,216.7 441.7,219.3 442.0,217.1 442.2,217.5 442.5,216.9 442.7,218.3 443.0,221.8 443.3,219.2 443.5,218.5 443.8,222.2 444.1,218.0 444.3,218.4 444.6,218.3 444.8,219.2 445.1,218.2 445.4,220.7 445.6,218.2 445.9,219.4 446.1,218.9 446.4,217.4 446.7,217.2 446.9,218.5 447.2,215.4 447.4,218.6 447.7,218.7 448.0,218.8 448.2,218.5 448.5,219.1 448.7,218.1 449.0,219.5 449.3,216.3 449.5,219.9 449.8,217.3 450.0,219.3 450.3,217.9 450.6,218.0 450.8,217.5 451.1,220.4 451.3,217.0 451.6,216.9 451.9,218.9 452.1,218.9 452.4,218.6 452.6,217.2 452.9,217.6 453.2,219.8 453.4,217.1 453.7,219.4 453.9,219.6 454.2,218.7 454.5,216.8 454.7,221.2 455.0,218.7 455.2,218.8 455.5,218.0 455.8,217.2 456.0,218.1 456.3,218.8 456.5,217.3 456.8,218.7 457.1,220.1 457.3,219.1 457.6,218.4 457.8,220.0 458.1,219.8 458.4,219.7 458.6,217.4 458.9,216.0 459.1,219.6 459.4,218.6 459.7,218.0 459.9,219.2 460.2,217.8 460.4,217.6 460.7,221.0 461.0,216.2 461.2,219.6 461.5,219.9 461.7,220.9 462.0,218.8 462.3,219.2 462.5,217.2 462.8,218.5 463.0,215.5 463.3,217.6 463.6,218.4 463.8,218.3 464.1,217.8 464.3,220.1 464.6,216.2 464.9,218.6 465.1,217.9 465.4,218.5 465.6,218.5 465.9,221.1 466.2,216.9 466.4,220.3 466.7,220.4 466.9,218.2 467.2,217.5 467.5,216.7 467.7,217.2 468.0,221.2 468.3,215.4 468.5,219.0 468.8,217.4 469.0,221.0 469.3,218.8 469.6,216.5 469.8,217.7 470.1,218.6 470.3,218.5 470.6,217.0 470.9,218.0 471.1,217.7 471.4,219.0 471.6,218.7 471.9,218.7 472.2,217.5 472.4,219.4 472.7,217.6 472.9,217.2 473.2,217.7 473.5,217.9 473.7,217.9 474.0,215.6 474.2,220.2 474.5,219.2 474.8,220.2 475.0,217.8 475.3,219.4 475.5,218.6 475.8,218.4 476.1,220.8 476.3,217.5 476.6,219.1 476.8,215.9 477.1,219.1 477.4,218.1 477.6,216.9 477.9,217.5 478.1,215.3 478.4,216.8 478.7,218.5 478.9,215.2 479.2,219.8 479.4,219.6 479.7,217.2 480.0,216.2 480.2,216.3 480.5,216.5 480.7,217.2 481.0,221.3 481.3,216.7 481.5,219.3 481.8,220.0 482.0,216.9 482.3,217.9 482.6,219.2 482.8,217.3 483.1,220.0 483.3,221.2 483.6,218.2 483.9,217.1 484.1,219.1 484.4,218.7 484.6,217.2 484.9,218.0 485.2,218.3 485.4,218.9 485.7,219.8 485.9,217.5 486.2,216.4 486.5,215.9 486.7,220.8 487.0,217.6 487.2,217.6 487.5,221.6 487.8,219.8 488.0,221.3 488.3,218.0 488.5,217.2 488.8,217.5 489.1,219.1 489.3,218.8 489.6,218.8 489.8,221.4 490.1,220.1 490.4,216.7 490.6,218.8 490.9,219.0 491.2,217.2 491.4,221.5 491.7,219.5 491.9,220.3 492.2,217.5 492.5,216.6 492.7,219.3 493.0,217.9 493.2,217.4 493.5,218.1 493.8,218.5 494.0,218.4 494.3,217.9 494.5,218.9 494.8,222.3 495.1,219.9 495.3,217.5 495.6,221.1 495.8,217.6 496.1,216.1 496.4,216.3 496.6,215.4 496.9,219.8 497.1,216.7 497.4,216.2 497.7,217.4 497.9,217.9 498.2,216.5 498.4,217.4 498.7,218.2 499.0,219.1 499.2,216.9 499.5,219.0 499.7,218.6 500.0,219.0 500.3,217.5 500.5,216.6 500.8,219.6 501.0,219.1 501.3,217.3 501.6,217.1 501.8,219.2 502.1,221.1 502.3,218.8 502.6,221.8 502.9,218.7 503.1,218.7 503.4,218.9 503.6,219.8 503.9,216.1 504.2,218.5 504.4,220.0 504.7,216.0 504.9,218.6 505.2,219.3 505.5,220.7 505.7,220.4 506.0,218.2 506.2,221.2 506.5,216.7 506.8,216.3 507.0,220.1 507.3,219.2 507.5,216.7 507.8,219.8 508.1,219.5 508.3,219.3 508.6,217.6 508.8,216.5 509.1,215.9 509.4,218.0 509.6,218.0 509.9,217.5 510.1,217.5 510.4,219.6 510.7,216.7 510.9,217.2 511.2,221.1 511.4,217.4 511.7,217.4 512.0,219.8 512.2,215.7 512.5,220.6 512.7,216.5 513.0,217.1 513.3,216.5 513.5,216.9 513.8,217.2 514.1,219.6 514.3,218.2 514.6,220.2 514.8,219.4 515.1,216.5 515.4,218.3 515.6,217.4 515.9,217.7 516.1,218.5 516.4,218.8 516.7,218.9 516.9,215.3 517.2,218.1 517.4,217.6 517.7,220.9 518.0,217.9 518.2,218.2 518.5,218.3 518.7,219.4 519.0,216.7 519.3,218.1 519.5,218.1 519.8,218.3 520.0,217.9 520.3,217.5 520.6,218.4 520.8,216.4 521.1,220.6 521.3,218.3 521.6,215.7 521.9,217.9 522.1,219.6 522.4,218.0 522.6,218.1 522.9,215.2 523.2,220.3 523.4,218.4 523.7,215.5 523.9,217.7 524.2,220.4 524.5,218.8 524.7,216.2 525.0,217.5 525.2,218.7 525.5,221.2 525.8,218.6 526.0,219.3 526.3,217.9 526.5,218.4 526.8,216.9 527.1,216.5 527.3,216.4 527.6,217.5 527.8,220.1 528.1,218.3 528.4,220.0 528.6,219.4 528.9,218.5 529.1,217.6 529.4,221.4 529.7,219.9 529.9,220.1 530.2,221.8 530.4,220.5 530.7,218.6 531.0,218.9 531.2,219.1 531.5,221.5 531.7,216.9 532.0,215.8 532.3,217.7 532.5,218.3 532.8,217.5 533.0,219.6 533.3,219.2 533.6,218.3 533.8,218.4 534.1,221.0 534.3,221.2 534.6,220.8 534.9,217.8 535.1,220.1 535.4,216.7 535.6,215.8 535.9,220.8 536.2,219.6 536.4,219.3 536.7,220.4 536.9,220.7 537.2,218.8 537.5,218.8 537.7,219.2 538.0,219.6 538.3,218.6 538.5,216.5 538.8,221.9 539.0,217.3 539.3,217.5 539.6,219.2 539.8,218.3 540.1,219.1 540.3,221.8 540.6,220.4 540.9,217.7 541.1,218.8 541.4,218.3 541.6,220.2 541.9,217.1 542.2,217.0 542.4,216.0 542.7,219.1 542.9,218.9 543.2,219.4 543.5,219.6 543.7,216.7 544.0,217.9 544.2,216.9 544.5,220.1 544.8,219.6 545.0,216.4 545.3,219.2 545.5,218.6 545.8,218.6 546.1,219.4 546.3,217.6 546.6,218.0 546.8,217.5 547.1,217.5 547.4,216.9 547.6,220.0 547.9,219.2 548.1,218.1 548.4,216.1 548.7,221.6 548.9,218.5 549.2,218.7 549.4,219.3 549.7,220.8 550.0,218.0 550.2,215.2 550.5,218.0 550.7,218.4 551.0,217.6 551.3,220.5 551.5,217.8 551.8,218.9 552.0,217.3 552.3,219.5 552.6,217.5 552.8,219.6 553.1,218.6 553.3,218.7 553.6,218.9 553.9,216.2 554.1,217.8 554.4,218.7 554.6,217.9 554.9,220.1 555.2,219.7 555.4,217.4 555.7,220.1 555.9,218.1 556.2,219.2 556.5,220.2 556.7,216.9 557.0,217.3 557.2,218.4 557.5,218.1 557.8,216.1 558.0,219.4 558.3,218.7 558.5,218.7 558.8,218.9 559.1,219.5 559.3,217.3 559.6,218.9 559.8,217.9 560.1,217.8 560.4,217.2 560.6,220.2 560.9,215.2 561.2,217.5 561.4,219.4 561.7,218.0 561.9,217.5 562.2,219.9 562.5,217.1 562.7,218.1 563.0,219.0 563.2,217.7 563.5,217.7 563.8,218.6 564.0,219.8 564.3,217.2 564.5,219.2 564.8,218.4 565.1,218.0 565.3,216.6 565.6,220.9 565.8,219.3 566.1,218.8 566.4,218.0 566.6,220.7 566.9,217.6 567.1,217.1 567.4,217.4 567.7,218.4 567.9,218.9 568.2,215.7 568.4,218.9 568.7,218.9 569.0,220.0 569.2,218.0 569.5,220.6 569.7,221.3 570.0,217.7 570.3,218.1 570.5,219.9 570.8,220.2 571.0,218.5 571.3,220.1 571.6,216.3 571.8,219.8 572.1,219.1 572.3,219.7 572.6,219.2 572.9,219.4 573.1,217.9 573.4,220.4 573.6,215.6 573.9,218.9 574.2,217.6 574.4,221.2 574.7,216.9 574.9,218.7 575.2,218.5 575.5,219.6 575.7,218.5 576.0,217.0 576.2,218.3 576.5,220.1 576.8,219.6 577.0,217.5 577.3,216.8 577.5,216.7 577.8,218.4 578.1,218.3 578.3,218.0 578.6,217.8 578.8,218.8 579.1,220.4 579.4,219.9 579.6,217.9 579.9,219.6 580.1,218.2 580.4,220.3 580.7,220.0 580.9,219.8 581.2,221.6 581.4,220.0 581.7,219.8 582.0,220.5 582.2,217.1 582.5,218.1 582.7,218.1 583.0,219.7 583.3,218.6 583.5,216.8 583.8,217.5 584.0,218.3 584.3,217.9 584.6,217.9 584.8,216.5 585.1,218.7 585.4,216.7" fill="none" stroke="none" marker-start="url(#m0)" marker-mid="url(#m0)" marker-end="url(#m0)"/>
<polyline points="408.9,219.2 409.2,219.2 409.4,216.9 409.7,220.7 410.0,222.8 410.2,220.5 410.5,225.2 410.7,219.7 411.0,215.2 411.3,220.4 411.5,217.9 411.8,218.9 412.0,215.2 412.3,227.9 412.6,220.9 412.8,218.0 413.1,224.3 413.3,218.7 413.6,217.0 413.9,223.9 414.1,223.5 414.4,217.7 414.6,223.1 414.9,221.8 415.2,224.0 415.4,227.1 415.7,217.4 415.9,219.2 416.2,220.0 416.5,220.8 416.7,221.3 417.0,220.5 417.2,220.0 417.5,222.0 417.8,220.0 418.0,221.4 418.3,225.8 418.5,218.6 418.8,221.5 419.1,220.3 419.3,221.9 419.6,218.8 419.8,217.5 420.1,224.4 420.4,220.4 420.6,218.5 420.9,220.9 421.2,220.9 421.4,218.8 421.7,221.8 421.9,226.8 422.2,222.1 422.5,221.0 422.7,220.2 423.0,222.4 423.2,220.8 423.5,220.6 423.8,221.1 424.0,222.7 424.3,221.5 424.5,221.8 424.8,222.4 425.1,224.5 425.3,220.9 425.6,222.5 425.8,222.9 426.1,219.9 426.4,221.0 426.6,221.5 426.9,219.8 427.1,221.9 427.4,218.6 427.7,223.7 427.9,221.7 428.2,221.4 428.4,220.8 428.7,219.2 429.0,221.2 429.2,221.3 429.5,222.5 429.7,220.2 430.0,218.3 430.3,222.2 430.5,220.8 430.8,223.3 431.0,221.5 431.3,218.7 431.6,222.3 431.8,224.2 432.1,220.6 432.3,220.3 432.6,220.5 432.9,220.8 433.1,222.7 433.4,221.3 433.6,222.2 433.9,221.1 434.2,221.9 434.4,221.8 434.7,220.9 434.9,221.7 435.2,220.8 435.5,219.0 435.7,221.0 436.0,218.1 436.2,221.9 436.5,220.7 436.8,221.7 437.0,222.7 437.3,218.9 437.5,219.3 437.8,220.9 438.1,219.6 438.3,221.0 438.6,220.4 438.8,222.3 439.1,222.9 439.4,223.0 439.6,220.6 439.9,219.9 440.1,221.3 440.4,220.9 440.7,221.2 440.9,215.2 441.2,219.5 441.4,221.8 441.7,222.5 442.0,220.8 442.2,217.1 442.5,218.6 442.7,220.2 443.0,219.7 443.3,226.8 443.5,220.8 443.8,219.4 444.1,219.7 444.3,222.5 444.6,216.6 444.8,221.8 445.1,222.5 445.4,220.3 445.6,223.0 445.9,222.5 446.1,215.2 446.4,220.8 446.7,220.3 446.9,220.3 447.2,220.9 447.4,221.9 447.7,223.6 448.0,223.1 448.2,220.8 448.5,222.6 448.7,222.2 449.0,221.6 449.3,222.3 449.5,220.1 449.8,221.0 450.0,222.2 450.3,222.3 450.6,223.7 450.8,222.4 451.1,222.1 451.3,220.5 451.6,217.0 451.9,219.7 452.1,219.6 452.4,220.1 452.6,221.1 452.9,220.7 453.2,220.5 453.4,220.8 453.7,219.2 453.9,220.5 454.2,219.2 454.5,223.6 454.7,221.4 455.0,220.4 455.2,221.9 455.5,224.6 455.8,220.8 456.0,220.0 456.3,219.5 456.5,223.0 456.8,218.6 457.1,221.9 457.3,220.3 457.6,222.4 457.8,222.0 458.1,220.3 458.4,220.5 458.6,221.6 458.9,220.8 459.1,221.7 459.4,222.2 459.7,219.2 459.9,220.3 460.2,219.7 460.4,219.9 460.7,218.5 461.0,222.6 461.2,220.3 461.5,223.0 461.7,217.9 462.0,219.5 462.3,219.0 462.5,216.0 462.8,221.6 463.0,219.1 463.3,221.2 463.6,222.3 463.8,221.4 464.1,220.4 464.3,221.3 464.6,221.6 464.9,219.6 465.1,219.5 465.4,220.9 465.6,221.3 465.9,221.6 466.2,220.3 466.4,223.9 466.7,221.9 466.9,218.6 467.2,221.4 467.5,220.7 467.7,222.1 468.0,219.2 468.3,220.7 468.5,227.9 468.8,226.5 469.0,222.4 469.3,221.6 469.6,222.0 469.8,219.6 470.1,220.1 470.3,219.2 470.6,221.9 470.9,219.9 471.1,222.0 471.4,220.9 471.6,222.7 471.9,219.3 472.2,220.9 472.4,219.4 472.7,220.6 472.9,224.5 473.2,220.4 473.5,221.4 473.7,223.5 474.0,215.5 474.2,220.9 474.5,222.3 474.8,222.1 475.0,218.2 475.3,219.7 475.5,222.0 475.8,222.9 476.1,223.1 476.3,218.7 476.6,220.8 476.8,222.2 477.1,220.8 477.4,218.2 477.6,220.0 477.9,220.3 478.1,221.8 478.4,219.1 478.7,221.3 478.9,221.5 479.2,221.0 479.4,225.4 479.7,219.2 480.0,223.3 480.2,224.3 480.5,221.7 480.7,220.7 481.0,223.9 481.3,221.6 481.5,219.6 481.8,220.9 482.0,221.3 482.3,220.9 482.6,221.8 482.8,220.0 483.1,220.0 483.3,223.8 483.6,219.0 483.9,222.5 484.1,220.6 484.4,218.1 484.6,218.6 484.9,220.9 485.2,219.4 485.4,221.4 485.7,220.7 485.9,219.5 486.2,225.7 486.5,219.4 486.7,219.2 487.0,219.1 487.2,223.0 487.5,223.0 487.8,222.4 488.0,222.5 488.3,220.0 488.5,224.7 488.8,218.7 489.1,220.2 489.3,219.5 489.6,221.8 489.8,222.4 490.1,222.1 490.4,220.6 490.6,220.3 490.9,220.7 491.2,220.3 491.4,225.2 491.7,218.1 491.9,221.2 492.2,221.9 492.5,215.2 492.7,219.8 493.0,221.0 493.2,217.1 493.5,221.6 493.8,218.1 494.0,223.3 494.3,219.7 494.5,222.8 494.8,220.6 495.1,220.3 495.3,219.6 495.6,220.2 495.8,222.6 496.1,221.6 496.4,221.7 496.6,221.0 496.9,219.8 497.1,222.5 497.4,227.0 497.7,218.8 497.9,221.1 498.2,220.2 498.4,220.6 498.7,221.8 499.0,222.2 499.2,220.8 499.5,222.2 499.7,219.7 500.0,219.8 500.3,221.0 500.5,219.4 500.8,221.3 501.0,221.8 501.3,221.4 501.6,225.6 501.8,220.9 502.1,218.0 502.3,222.3 502.6,220.3 502.9,221.1 503.1,221.0 503.4,222.3 503.6,218.3 503.9,227.4 504.2,221.6 504.4,222.9 504.7,221.0 504.9,221.9 505.2,221.1 505.5,222.3 505.7,222.3 506.0,215.8 506.2,222.0 506.5,221.4 506.8,221.1 507.0,221.9 507.3,221.2 507.5,221.7 507.8,226.3 508.1,221.5 508.3,222.1 508.6,221.1 508.8,218.4 509.1,223.4 509.4,222.3 509.6,217.6 509.9,222.0 510.1,217.7 510.4,215.2 510.7,220.9 510.9,218.8 511.2,219.9 511.4,223.4 511.7,220.7 512.0,219.5 512.2,222.3 512.5,219.7 512.7,221.4 513.0,221.9 513.3,221.0 513.5,220.7 513.8,220.7 514.1,221.0 514.3,221.9 514.6,220.7 514.8,222.5 515.1,220.2 515.4,219.4 515.6,221.4 515.9,224.7 516.1,222.4 516.4,220.3 516.7,220.9 516.9,222.7 517.2,220.4 517.4,220.2 517.7,220.1 518.0,223.2 518.2,221.3 518.5,221.1 518.7,222.1 519.0,220.8 519.3,219.4 519.5,223.3 519.8,219.2 520.0,223.1 520.3,218.2 520.6,220.9 520.8,220.8 521.1,219.1 521.3,220.6 521.6,221.9 521.9,220.9 522.1,224.3 522.4,220.2 522.6,219.4 522.9,221.2 523.2,219.4 523.4,222.9 523.7,225.2 523.9,221.7 524.2,218.7 524.5,224.3 524.7,219.8 525.0,221.2 525.2,221.7 525.5,221.4 525.8,220.3 526.0,222.6 526.3,217.8 526.5,219.6 526.8,222.7 527.1,221.4 527.3,219.6 527.6,224.3 527.8,224.7 528.1,220.5 528.4,215.2 528.6,220.6 528.9,221.0 529.1,218.8 529.4,221.2 529.7,220.9 529.9,220.0 530.2,222.9 530.4,215.2 530.7,220.2 531.0,221.1 531.2,220.8 531.5,219.8 531.7,220.5 532.0,222.8 532.3,223.0 532.5,223.5 532.8,221.2 533.0,222.1 533.3,223.2 533.6,221.0 533.8,220.5 534.1,223.5 534.3,220.6 534.6,218.9 534.9,227.6 535.1,221.2 535.4,220.5 535.6,220.8 535.9,221.7 536.2,221.3 536.4,228.5 536.7,221.4 536.9,222.3 537.2,220.5 537.5,221.8 537.7,219.5 538.0,222.5 538.3,219.9 538.5,222.4 538.8,219.3 539.0,222.1 539.3,216.1 539.6,219.7 539.8,219.6 540.1,223.1 540.3,218.5 540.6,217.5 540.9,216.7 541.1,219.9 541.4,220.2 541.6,220.8 541.9,218.9 542.2,219.4 542.4,218.7 542.7,219.8 542.9,221.1 543.2,223.0 543.5,221.5 543.7,220.3 544.0,218.8 544.2,218.7 544.5,218.7 544.8,223.5 545.0,219.7 545.3,220.9 545.5,223.7 545.8,220.9 546.1,224.8 546.3,221.2 546.6,220.6 546.8,218.7 547.1,220.0 547.4,217.8 547.6,220.7 547.9,221.4 548.1,222.1 548.4,220.2 548.7,222.1 548.9,216.5 549.2,223.5 549.4,222.0 549.7,224.8 550.0,221.6 550.2,221.3 550.5,220.5 550.7,220.8 551.0,221.4 551.3,215.2 551.5,219.6 551.8,220.6 552.0,219.1 552.3,223.0 552.6,221.5 552.8,220.8 553.1,221.8 553.3,216.8 553.6,221.1 553.9,217.3 554.1,221.3 554.4,219.9 554.6,224.3 554.9,221.0 555.2,220.6 555.4,221.9 555.7,221.0 555.9,222.3 556.2,223.5 556.5,219.9 556.7,222.7 557.0,221.3 557.2,220.3 557.5,221.8 557.8,219.0 558.0,225.0 558.3,223.3 558.5,221.5 558.8,219.1 559.1,220.6 559.3,222.8 559.6,219.2 559.8,222.5 560.1,218.1 560.4,219.8 560.6,221.9 560.9,219.5 561.2,221.1 561.4,220.0 561.7,221.1 561.9,222.2 562.2,219.8 562.5,222.2 562.7,223.4 563.0,221.6 563.2,217.8 563.5,221.7 563.8,219.7 564.0,222.6 564.3,221.1 564.5,220.1 564.8,220.3 565.1,217.8 565.3,222.8 565.6,220.1 565.8,223.6 566.1,219.8 566.4,220.9 566.6,218.6 566.9,226.6 567.1,221.7 567.4,220.2 567.7,220.4 567.9,222.2 568.2,226.2 568.4,221.5 568.7,220.6 569.0,223.5 569.2,219.2 569.5,220.2 569.7,219.7 570.0,222.3 570.3,218.3 570.5,220.2 570.8,223.3 571.0,222.2 571.3,221.5 571.6,222.8 571.8,220.4 572.1,222.2 572.3,220.5 572.6,220.4 572.9,220.9 573.1,217.9 573.4,227.9 573.6,219.8 573.9,219.8 574.2,222.4 574.4,219.4 574.7,224.1 574.9,220.9 575.2,220.7 575.5,222.7 575.7,220.1 576.0,222.9 576.2,219.7 576.5,221.0 576.8,221.5 577.0,220.9 577.3,220.7 577.5,218.5 577.8,219.8 578.1,222.8 578.3,218.7 578.6,220.5 578.8,222.1 579.1,221.8 579.4,222.4 579.6,219.7 579.9,221.4 580.1,218.0 580.4,221.4 580.7,222.0 580.9,220.2 581.2,219.6 581.4,222.6 581.7,225.7 582.0,223.5 582.2,223.0 582.5,223.3 582.7,220.3 583.0,222.1 583.3,216.7 583.5,226.5 583.8,221.2 584.0,221.7 584.3,221.9 584.6,218.8 584.8,220.8 585.1,222.8 585.4,222.4 585.6,225.6 585.9,221.0 586.1,221.6 586.4,220.4 586.7,220.1 586.9,221.7 587.2,220.4 587.4,221.2 587.7,223.2 588.0,220.1 588.2,221.7 588.5,217.5 588.7,221.2 589.0,220.9 589.3,222.5 589.5,223.1 589.8,218.0 590.0,218.9 590.3,221.1 590.6,221.0 590.8,224.0 591.1,221.7 591.3,219.6 591.6,218.6 591.9,221.8 592.1,221.5 592.4,219.8 592.6,222.6 592.9,221.7 593.2,224.1 593.4,221.0 593.7,221.1 593.9,219.5 594.2,221.1 594.5,222.9 594.7,217.6 595.0,220.8 595.2,219.0 595.5,222.1 595.8,218.7 596.0,220.9 596.3,223.1 596.5,222.0 596.8,220.6 597.1,219.6 597.3,224.7 597.6,220.8 597.8,223.1 598.1,221.2 598.4,218.0 598.6,222.5 598.9,220.4 599.1,220.7 599.4,220.8 599.7,220.5 599.9,222.7 600.2,222.9 600.4,223.1 600.7,218.2 601.0,219.7 601.2,222.7 601.5,222.4 601.7,222.3 602.0,220.4 602.3,221.7 602.5,220.0 602.8,220.9 603.0,222.3 603.3,221.9 603.6,221.7 603.8,215.2 604.1,223.4 604.3,220.7 604.6,221.9 604.9,220.3 605.1,220.8 605.4,222.5 605.6,221.1 605.9,219.1 606.2,219.8 606.4,220.0 606.7,220.9 606.9,220.5 607.2,221.2 607.5,223.3 607.7,219.1 608.0,220.4 608.3,221.3 608.5,219.4 608.8,220.8 609.0,222.8 609.3,221.5 609.6,221.5 609.8,223.3 610.1,218.4 610.3,223.5 610.6,221.9 610.9,220.3 611.1,219.7 611.4,222.1 611.6,223.0 611.9,219.8 612.2,215.4 612.4,221.1 612.7,220.6 612.9,223.2 613.2,222.1 613.5,218.8 613.7,223.2 614.0,216.0 614.2,220.4 614.5,220.4 614.8,220.8 615.0,215.2 615.3,218.3 615.5,221.0 615.8,223.2 616.1,221.6 616.3,221.9 616.6,219.6 616.8,222.1 617.1,224.2 617.4,226.9 617.6,219.5 617.9,220.7 618.1,224.0 618.4,219.6 618.7,221.0 618.9,220.9 619.2,222.9 619.4,221.1 619.7,221.9 620.0,220.3 620.2,219.1 620.5,223.3 620.7,217.7 621.0,222.8 621.3,219.8 621.5,221.6 621.8,221.0 622.0,219.9 622.3,222.7 622.6,219.5 622.8,220.6 623.1,221.0 623.3,222.3 623.6,222.1 623.9,222.0 624.1,222.7 624.4,220.2 624.6,220.9 624.9,224.7 625.2,218.2 625.4,218.7 625.7,220.9 625.9,220.2 626.2,221.7 626.5,221.1 626.7,220.8 627.0,219.1 627.2,219.3 627.5,222.9 627.8,222.3 628.0,223.7 628.3,223.9 628.5,218.2 628.8,222.2 629.1,220.1 629.3,222.2 629.6,220.9 629.8,219.9 630.1,220.7 630.4,220.5 630.6,220.8 630.9,222.0 631.2,222.6 631.4,220.1 631.7,221.0 631.9,220.9 632.2,221.9 632.5,221.3 632.7,219.9 633.0,220.4 633.2,220.8 633.5,220.5 633.8,221.8 634.0,223.6 634.3,220.9 634.5,220.4 634.8,219.5 635.1,222.1 635.3,222.4 635.6,220.9 635.8,222.4 636.1,224.6 636.4,221.1 636.6,221.8 636.9,220.2 637.1,219.5 637.4,220.4 637.7,222.7 637.9,230.4 638.2,220.8 638.4,218.8 638.7,219.1 639.0,221.4 639.2,220.0 639.5,221.0 639.7,220.4 640.0,216.4 640.3,220.8 640.5,221.4 640.8,220.7 641.0,221.8 641.3,226.3 641.6,219.8 641.8,220.8 642.1,219.9 642.3,221.9 642.6,221.9" fill="none" stroke="none" marker-start="url(#m1)" marker-mid="url(#m1)" marker-end="url(#m1)"/>
<polyline points="408.9,219.8 409.2,229.0 409.4,218.0 409.7,219.9 410.0,225.9 410.2,219.1 410.5,220.0 410.7,222.6 411.0,221.3 411.3,223.9 411.5,222.7 411.8,229.0 412.0,219.6 412.3,223.8 412.6,218.8 412.8,222.8 413.1,219.7 413.3,225.3 413.6,217.0 413.9,226.1 414.1,217.4 414.4,226.0 414.6,221.5 414.9,221.2 415.2,225.5 415.4,221.8 415.7,223.0 415.9,224.8 416.2,220.9 416.5,221.1 416.7,220.1 417.0,225.9 417.2,224.7 417.5,220.9 417.8,220.7 418.0,220.3 418.3,221.9 418.5,222.0 418.8,220.8 419.1,224.5 419.3,224.2 419.6,219.9 419.8,219.0 420.1,221.6 420.4,222.4 420.6,222.8 420.9,222.1 421.2,219.0 421.4,222.1 421.7,221.3 421.9,226.0 422.2,221.2 422.5,225.8 422.7,218.2 423.0,220.5 423.2,221.2 423.5,220.2 423.8,220.5 424.0,220.2 424.3,220.9 424.5,222.5 424.8,224.8 425.1,221.2 425.3,223.6 425.6,220.0 425.8,222.2 426.1,219.3 426.4,220.3 426.6,225.4 426.9,227.4 427.1,223.1 427.4,223.1 427.7,222.7 427.9,218.5 428.2,221.4 428.4,221.4 428.7,219.7 429.0,223.9 429.2,228.2 429.5,222.4 429.7,228.3 430.0,225.9 430.3,221.1 430.5,219.4 430.8,221.8 431.0,219.9 431.3,217.9 431.6,221.3 431.8,222.7 432.1,223.5 432.3,217.8 432.6,219.6 432.9,221.4 433.1,219.0 433.4,224.8 433.6,221.6 433.9,221.0 434.2,225.4 434.4,222.9 434.7,220.9 434.9,221.0 435.2,225.3 435.5,227.2 435.7,218.5 436.0,224.4 436.2,223.9 436.5,223.0 436.8,222.4 437.0,221.6 437.3,218.6 437.5,221.5 437.8,218.8 438.1,222.1 438.3,224.4 438.6,221.6 438.8,223.2 439.1,217.5 439.4,221.6 439.6,218.7 439.9,221.0 440.1,222.1 440.4,218.5 440.7,220.9 440.9,218.8 441.2,220.0 441.4,219.1 441.7,221.6 442.0,220.2 442.2,219.8 442.5,220.9 442.7,220.8 443.0,221.0 443.3,220.0 443.5,221.0 443.8,220.1 444.1,220.7 444.3,220.9 444.6,220.4 444.8,220.6 445.1,221.1 445.4,219.4 445.6,219.5 445.9,220.8 446.1,220.2 446.4,219.4 446.7,221.8 446.9,219.0 447.2,220.4 447.4,223.1 447.7,219.7 448.0,220.9 448.2,220.1 448.5,221.5 448.7,222.7 449.0,222.5 449.3,222.1 449.5,220.1 449.8,223.0 450.0,220.0 450.3,222.2 450.6,220.2 450.8,220.7 451.1,218.7 451.3,221.7 451.6,223.9 451.9,223.7 452.1,222.1 452.4,222.4 452.6,219.9 452.9,219.2 453.2,220.2 453.4,221.2 453.7,221.4 453.9,222.4 454.2,219.6 454.5,221.1 454.7,220.6 455.0,220.3 455.2,220.2 455.5,220.9 455.8,220.8 456.0,220.9 456.3,218.5 456.5,220.2 456.8,219.0 457.1,222.4 457.3,221.6 457.6,219.1 457.8,219.5 458.1,223.0 458.4,223.8 458.6,222.7 458.9,221.0 459.1,218.7 459.4,220.5 459.7,221.0 459.9,221.8 460.2,218.7 460.4,219.5 460.7,219.4 461.0,220.7 461.2,218.5 461.5,219.0 461.7,219.5 462.0,220.4 462.3,219.3 462.5,223.3 462.8,221.1 463.0,221.7 463.3,221.0 463.6,223.4 463.8,219.0 464.1,219.3 464.3,221.6 464.6,221.0 464.9,221.2 465.1,221.6 465.4,218.2 465.6,222.2 465.9,218.7 466.2,220.4 466.4,221.5 466.7,218.0 466.9,221.1 467.2,220.0 467.5,220.8 467.7,223.4 468.0,219.5 468.3,218.6 468.5,218.4 468.8,221.0 469.0,221.6 469.3,218.3 469.6,221.1 469.8,220.9 470.1,222.3 470.3,217.7 470.6,219.5 470.9,221.3 471.1,221.6 471.4,220.0 471.6,221.0 471.9,220.7 472.2,219.7 472.4,219.4 472.7,219.5 472.9,220.6 473.2,221.6 473.5,223.8 473.7,222.5 474.0,220.7 474.2,219.4 474.5,221.7 474.8,219.9 475.0,219.8 475.3,222.4 475.5,222.7 475.8,221.0 476.1,218.3 476.3,222.8 476.6,223.3 476.8,221.1 477.1,219.8 477.4,222.3 477.6,221.0 477.9,220.8 478.1,223.4 478.4,219.9 478.7,220.5 478.9,220.6 479.2,219.9 479.4,221.3 479.7,223.9 480.0,219.9 480.2,220.6 480.5,223.8 480.7,220.2 481.0,219.7 481.3,217.6 481.5,221.2 481.8,222.0 482.0,221.4 482.3,220.9 482.6,219.0 482.8,219.9 483.1,221.7 483.3,221.5 483.6,220.6 483.9,219.1 484.1,218.5 484.4,219.8 484.6,220.7 484.9,220.1 485.2,221.0 485.4,222.2 485.7,220.8 485.9,221.2 486.2,220.2 486.5,221.6 486.7,216.6 487.0,217.8 487.2,220.6 487.5,220.0 487.8,220.2 488.0,217.6 488.3,221.0 488.5,219.2 488.8,220.7 489.1,221.5 489.3,222.5 489.6,223.4 489.8,218.9 490.1,220.1 490.4,220.6 490.6,219.0 490.9,222.4 491.2,220.2 491.4,220.2 491.7,217.7 491.9,221.2 492.2,221.6 492.5,223.7 492.7,221.3 493.0,218.2 493.2,222.0 493.5,219.7 493.8,221.9 494.0,223.1 494.3,220.1 494.5,220.9 494.8,220.8 495.1,219.9 495.3,224.6 495.6,219.2 495.8,220.4 496.1,221.9 496.4,222.4 496.6,220.0 496.9,220.5 497.1,219.6 497.4,219.7 497.7,219.8 497.9,219.8 498.2,219.6 498.4,220.3 498.7,222.1 499.0,219.1 499.2,221.3 499.5,217.9 499.7,221.3 500.0,222.8 500.3,221.1 500.5,220.1 500.8,221.4 501.0,221.4 501.3,221.3 501.6,221.7 501.8,217.8 502.1,219.3 502.3,217.5 502.6,219.9 502.9,218.9 503.1,222.1 503.4,218.4 503.6,223.7 503.9,220.9 504.2,219.0 504.4,221.8 504.7,219.6 504.9,218.6 505.2,219.5 505.5,220.5 505.7,222.3 506.0,221.2 506.2,218.8 506.5,221.3 506.8,218.8 507.0,221.7 507.3,221.0 507.5,219.4 507.8,220.7 508.1,221.9 508.3,218.5 508.6,221.1 508.8,220.9 509.1,220.3 509.4,220.5 509.6,218.4 509.9,224.0 510.1,217.5 510.4,223.8 510.7,224.5 510.9,219.5 511.2,220.9 511.4,219.7 511.7,221.4 512.0,220.6 512.2,219.5 512.5,220.9 512.7,220.8 513.0,222.7 513.3,218.1 513.5,220.3 513.8,220.5 514.1,220.2 514.3,221.2 514.6,220.8 514.8,219.8 515.1,219.9 515.4,223.1 515.6,219.7 515.9,221.1 516.1,222.6 516.4,217.6 516.7,218.9 516.9,221.7 517.2,221.8 517.4,221.4 517.7,222.6 518.0,221.6 518.2,222.4 518.5,219.4 518.7,220.5 519.0,220.3 519.3,219.9 519.5,219.3 519.8,218.9 520.0,222.2 520.3,221.2 520.6,223.6 520.8,221.6 521.1,222.6 521.3,219.4 521.6,219.5 521.9,220.1 522.1,220.9 522.4,219.1 522.6,220.7 522.9,220.7 523.2,220.9 523.4,219.0 523.7,221.8 523.9,219.0 524.2,223.1 524.5,218.3 524.7,219.8 525.0,219.7 525.2,219.4 525.5,220.5 525.8,219.3 526.0,220.9 526.3,221.9 526.5,220.2 526.8,219.9 527.1,222.3 527.3,222.4 527.6,219.4 527.8,220.8 528.1,222.8 528.4,218.3 528.6,221.7 528.9,221.8 529.1,221.1 529.4,217.9 529.7,221.7 529.9,221.4 530.2,220.2 530.4,220.6 530.7,221.5 531.0,219.9 531.2,219.9 531.5,221.6 531.7,219.5 532.0,222.6 532.3,221.1 532.5,218.8 532.8,221.0 533.0,224.7 533.3,220.8 533.6,222.6 533.8,221.9 534.1,219.2 534.3,218.3 534.6,221.8 534.9,220.9 535.1,220.1 535.4,220.9 535.6,222.0 535.9,221.7 536.2,220.4 536.4,218.7 536.7,222.5 536.9,220.3 537.2,220.2 537.5,223.1 537.7,222.0 538.0,220.9 538.3,221.2 538.5,220.9 538.8,221.1 539.0,220.6 539.3,219.9 539.6,222.4 539.8,219.5 540.1,221.2 540.3,219.5 540.6,220.9 540.9,220.3 541.1,220.2 541.4,220.5 541.6,223.1 541.9,220.3 542.2,218.2 542.4,219.3 542.7,219.2 542.9,219.1 543.2,220.2 543.5,221.4 543.7,219.5 544.0,219.9 544.2,221.3 544.5,221.4 544.8,221.6 545.0,222.9 545.3,221.6 545.5,219.5 545.8,221.9 546.1,221.5 546.3,222.8 546.6,220.8 546.8,220.0 547.1,224.2 547.4,219.1 547.6,224.2 547.9,220.0 548.1,221.4 548.4,219.2 548.7,222.1 548.9,220.3 549.2,220.9 549.4,221.3 549.7,221.5 550.0,219.3 550.2,223.7 550.5,219.4 550.7,218.7 551.0,219.9 551.3,220.8 551.5,218.8 551.8,220.3 552.0,221.0 552.3,220.0 552.6,220.8 552.8,218.5 553.1,219.5 553.3,222.1 553.6,220.4 553.9,217.9 554.1,223.4 554.4,219.3 554.6,219.5 554.9,220.3 555.2,220.4 555.4,222.2 555.7,220.5 555.9,219.4 556.2,222.6 556.5,221.2 556.7,220.7 557.0,219.6 557.2,220.7 557.5,219.4 557.8,221.5 558.0,222.2 558.3,220.5 558.5,219.6 558.8,219.6 559.1,223.3 559.3,219.3 559.6,219.9 559.8,221.9 560.1,219.3 560.4,223.6 560.6,222.6 560.9,220.5 561.2,219.4 561.4,220.4 561.7,222.1 561.9,223.0 562.2,219.6 562.5,221.8 562.7,223.3 563.0,221.2 563.2,219.7 563.5,220.2 563.8,221.5 564.0,220.3 564.3,219.8 564.5,221.6 564.8,219.7 565.1,219.3 565.3,220.8 565.6,220.8 565.8,216.7 566.1,218.9 566.4,222.7 566.6,224.2 566.9,219.7 567.1,222.3 567.4,223.7 567.7,220.2 567.9,220.1 568.2,220.7 568.4,222.1 568.7,222.9 569.0,220.6 569.2,221.0 569.5,221.9 569.7,221.9 570.0,222.4 570.3,218.5 570.5,221.3 570.8,220.1 571.0,222.1 571.3,220.8 571.6,219.0 571.8,218.8 572.1,220.1 572.3,221.6 572.6,221.9 572.9,218.6 573.1,220.7 573.4,219.3 573.6,221.1 573.9,220.1 574.2,216.9 574.4,220.4 574.7,221.1 574.9,219.2 575.2,220.2 575.5,222.7 575.7,219.2 576.0,221.1 576.2,219.9 576.5,220.7 576.8,220.4 577.0,220.2 577.3,220.6 577.5,220.6 577.8,221.0 578.1,219.6 578.3,217.3 578.6,220.1 578.8,222.4 579.1,222.0 579.4,220.9 579.6,220.7 579.9,219.4 580.1,221.3 580.4,220.9 580.7,221.8 580.9,220.1 581.2,220.6 581.4,221.7 581.7,219.3 582.0,222.4 582.2,221.4 582.5,220.7 582.7,219.9 583.0,219.2 583.3,220.6 583.5,218.6 583.8,218.5 584.0,221.2 584.3,220.7 584.6,220.0 584.8,221.6 585.1,217.9 585.4,220.1 585.6,219.3 585.9,220.0 586.1,219.1 586.4,221.1 586.7,221.9 586.9,220.8 587.2,220.9 587.4,221.9 587.7,221.2 588.0,219.0 588.2,221.2 588.5,221.8 588.7,222.1 589.0,221.6 589.3,220.0 589.5,217.2 589.8,219.7 590.0,220.9 590.3,222.2 590.6,222.3 590.8,220.7 591.1,223.2 591.3,218.8 591.6,219.0 591.9,222.9 592.1,223.1 592.4,220.5 592.6,220.8 592.9,222.5 593.2,220.2 593.4,221.0 593.7,223.3 593.9,219.0 594.2,215.9 594.5,220.8 594.7,222.1 595.0,221.6 595.2,222.3 595.5,223.2 595.8,221.5 596.0,222.2 596.3,220.1 596.5,218.3 596.8,223.3 597.1,220.1 597.3,217.8 597.6,222.8 597.8,220.6 598.1,219.8 598.4,220.6 598.6,221.9 598.9,221.2 599.1,220.0 599.4,220.7 599.7,219.7 599.9,225.3 600.2,219.4 600.4,221.8 600.7,219.6 601.0,218.8 601.2,219.9 601.5,220.7 601.7,222.0 602.0,221.6 602.3,222.0 602.5,219.8 602.8,220.8 603.0,222.8 603.3,222.6 603.6,222.8 603.8,219.0 604.1,219.4 604.3,220.3 604.6,220.4 604.9,221.1 605.1,219.1 605.4,219.3 605.6,219.0 605.9,222.7 606.2,220.8 606.4,218.3 606.7,221.7 606.9,221.4 607.2,221.7 607.5,219.0 607.7,218.6 608.0,220.0 608.3,219.2 608.5,217.9 608.8,221.4 609.0,220.2 609.3,218.8 609.6,222.0 609.8,220.8 610.1,221.6 610.3,221.9 610.6,220.4 610.9,220.7 611.1,220.9 611.4,220.5 611.6,220.7 611.9,218.7 612.2,220.3 612.4,219.2 612.7,219.1 612.9,220.2 613.2,220.8 613.5,218.9 613.7,220.9 614.0,221.4 614.2,218.4 614.5,220.5 614.8,221.3 615.0,224.4 615.3,219.6 615.5,221.2 615.8,220.7 616.1,220.0 616.3,221.2 616.6,220.3 616.8,221.2 617.1,221.0 617.4,220.8 617.6,218.2 617.9,219.8 618.1,222.8 618.4,220.5 618.7,219.2 618.9,219.6 619.2,223.0 619.4,219.3 619.7,220.4 620.0,218.7 620.2,219.4 620.5,220.9 620.7,219.9 621.0,222.2 621.3,222.4 621.5,220.6 621.8,221.9 622.0,218.3 622.3,220.0 622.6,218.9 622.8,220.2 623.1,221.2 623.3,221.3 623.6,221.3 623.9,220.2 624.1,221.5 624.4,223.3 624.6,221.6 624.9,219.5 625.2,220.2 625.4,221.5 625.7,222.8 625.9,220.2 626.2,218.6 626.5,222.8 626.7,223.0 627.0,221.2 627.2,219.7 627.5,221.5 627.8,218.2 628.0,220.6 628.3,222.7 628.5,219.8 628.8,218.8 629.1,220.7 629.3,222.3 629.6,219.6 629.8,219.2 630.1,221.1 630.4,222.7 630.6,219.6 630.9,222.1 631.2,220.2 631.4,218.6 631.7,219.8 631.9,218.2 632.2,218.0 632.5,222.8 632.7,221.1 633.0,220.6 633.2,219.5 633.5,222.2 633.8,218.0 634.0,218.6 634.3,219.2 634.5,221.6 634.8,222.0 635.1,220.6 635.3,221.9 635.6,222.6 635.8,221.9 636.1,221.2 636.4,220.1 636.6,221.7 636.9,220.7 637.1,224.4 637.4,219.9 637.7,221.6 637.9,223.0 638.2,218.9 638.4,220.9 638.7,221.5 639.0,218.7 639.2,219.4 639.5,218.1 639.7,220.6 640.0,219.8 640.3,221.6 640.5,219.7 640.8,221.1 641.0,218.9 641.3,220.7 641.6,217.8 641.8,220.9 642.1,220.1 642.3,219.7 642.6,220.3" fill="none" stroke="none" marker-start="url(#m2)" marker-mid="url(#m2)" marker-end="url(#m2)"/>
<circle cx="411.2" cy="246" r="2.1" fill="#fff" stroke="#B2676C" stroke-width="0.8"/>
<circle cx="411.6" cy="254" r="2.1" fill="#fff" stroke="#B2676C" stroke-width="0.8"/>
<circle cx="410.8" cy="236" r="2.1" fill="#fff" stroke="#B2676C" stroke-width="0.8"/>
<circle cx="410.5" cy="262" r="2.1" fill="#fff" stroke="#B2676C" stroke-width="0.8"/>
<circle cx="411.5" cy="267" r="2.1" fill="#fff" stroke="#B2676C" stroke-width="0.8"/>
<circle cx="410.6" cy="268.5" r="2.1" fill="#fff" stroke="#4A88B5" stroke-width="0.8"/>
<circle cx="409.3" cy="328" r="2.1" fill="#fff" stroke="#4A88B5" stroke-width="0.8"/>
<circle cx="584.3" cy="228.6" r="2.1" fill="#fff" stroke="#9CD1C2" stroke-width="0.8"/>
<polyline points="408.7,251.3 408.9,254.7 409.2,257.5 409.4,258.8 409.7,259.7 410.0,260.5 410.2,261.5 410.5,261.8 410.7,262.9 411.0,263.3 411.3,263.2 411.5,262.5 411.8,263.3 412.0,263.8 412.3,263.0 412.6,263.0 412.8,263.4 413.1,263.7 413.3,262.5 413.6,263.9 413.9,263.5 414.1,263.7 414.4,263.6 414.6,263.0 414.9,263.3 415.2,263.5 415.4,263.2 415.7,263.0 415.9,263.9 416.2,264.8 416.5,263.6 416.7,263.6 417.0,263.8 417.2,265.2 417.5,263.9 417.8,264.1 418.0,263.7 418.3,264.7 418.5,263.8 418.8,263.9 419.1,264.1 419.3,263.8 419.6,263.8 419.8,264.2 420.1,265.0 420.4,265.4 420.6,264.2 420.9,264.8 421.2,264.8 421.4,264.3 421.7,264.3 421.9,264.9 422.2,264.5 422.5,264.3 422.7,265.0 423.0,264.4 423.2,265.1 423.5,264.3 423.8,265.6 424.0,264.8 424.3,264.4 424.5,264.8 424.8,265.3 425.1,264.9 425.3,264.7 425.6,265.1 425.8,265.3 426.1,265.4 426.4,265.9 426.6,264.7 426.9,265.3 427.1,265.8 427.4,265.3 427.7,266.6 427.9,264.5 428.2,265.6 428.4,265.6 428.7,266.4 429.0,265.4 429.2,266.0 429.5,265.6 429.7,266.1 430.0,265.4 430.3,265.4 430.5,265.6 430.8,265.4 431.0,265.9 431.3,265.5 431.6,265.7 431.8,266.6 432.1,265.5 432.3,266.0 432.6,266.5 432.9,266.1 433.1,266.3 433.4,266.1 433.6,266.6 433.9,267.0 434.2,266.7 434.4,267.1 434.7,267.3 434.9,266.3 435.2,266.7 435.5,266.6 435.7,266.5 436.0,267.4 436.2,266.1 436.5,267.3 436.8,265.9 437.0,266.9 437.3,267.2 437.5,267.1 437.8,267.3 438.1,268.0 438.3,266.4 438.6,266.9 438.8,267.7 439.1,267.3 439.4,268.0 439.6,267.4 439.9,267.4 440.1,267.1 440.4,267.6 440.7,267.9 440.9,267.0 441.2,267.3 441.4,268.1 441.7,267.2 442.0,267.9 442.2,268.0 442.5,268.0 442.7,268.2 443.0,268.2 443.3,268.0 443.5,269.2 443.8,269.4 444.1,268.7 444.3,268.9 444.6,268.7 444.8,268.1 445.1,269.9 445.4,268.8 445.6,268.5 445.9,268.7 446.1,269.4 446.4,269.5 446.7,269.8 446.9,268.9 447.2,269.2 447.4,268.5 447.7,269.3 448.0,269.3 448.2,269.7 448.5,269.1 448.7,269.6 449.0,269.4 449.3,270.0 449.5,268.6 449.8,269.4 450.0,269.6 450.3,269.4 450.6,270.2 450.8,270.8 451.1,269.7 451.3,270.3 451.6,270.4 451.9,269.9 452.1,269.4 452.4,270.2 452.6,270.2 452.9,270.5 453.2,270.8 453.4,270.6 453.7,270.5 453.9,270.1 454.2,271.2 454.5,270.4 454.7,270.9 455.0,270.7 455.2,270.2 455.5,270.3 455.8,271.1 456.0,271.2 456.3,272.1 456.5,270.9 456.8,270.9 457.1,272.6 457.3,271.3 457.6,271.4 457.8,270.7 458.1,272.1 458.4,272.0 458.6,271.2 458.9,271.8 459.1,271.5 459.4,272.0 459.7,270.8 459.9,272.3 460.2,272.0 460.4,271.9 460.7,272.0 461.0,271.8 461.2,271.7 461.5,272.5 461.7,271.7 462.0,271.7 462.3,272.5 462.5,272.9 462.8,273.2 463.0,273.3 463.3,273.4 463.6,272.9 463.8,272.9 464.1,272.7 464.3,272.7 464.6,273.7 464.9,272.7 465.1,272.9 465.4,273.7 465.6,273.2 465.9,273.7 466.2,273.3 466.4,273.8 466.7,273.7 466.9,273.8 467.2,273.9 467.5,273.2 467.7,273.8 468.0,274.2 468.3,273.1 468.5,274.4 468.8,273.6 469.0,274.5 469.3,274.6 469.6,274.5 469.8,275.3 470.1,274.1 470.3,274.7 470.6,274.7 470.9,274.8 471.1,274.5 471.4,274.5 471.6,275.1 471.9,275.1 472.2,274.8 472.4,275.4 472.7,274.4 472.9,274.8 473.2,275.2 473.5,274.7 473.7,274.6 474.0,275.4 474.2,275.7 474.5,275.8 474.8,275.7 475.0,276.1 475.3,275.6 475.5,275.0 475.8,276.2 476.1,276.6 476.3,275.9 476.6,275.9 476.8,275.8 477.1,276.1 477.4,276.2 477.6,276.6 477.9,276.9 478.1,277.1 478.4,276.2 478.7,275.8 478.9,276.2 479.2,276.5 479.4,275.8 479.7,276.6 480.0,277.2 480.2,276.6 480.5,276.9 480.7,277.1 481.0,277.3 481.3,276.8 481.5,277.2 481.8,276.8 482.0,276.8 482.3,276.6 482.6,277.0 482.8,277.5 483.1,278.4 483.3,278.0 483.6,277.4 483.9,277.3 484.1,277.7 484.4,278.0 484.6,277.5 484.9,277.7 485.2,278.1 485.4,277.3 485.7,277.8 485.9,278.5 486.2,278.3 486.5,278.1 486.7,279.0 487.0,277.4 487.2,279.0 487.5,278.4 487.8,278.3 488.0,279.0 488.3,279.2 488.5,278.6 488.8,278.9 489.1,278.1 489.3,278.2 489.6,278.0 489.8,279.6 490.1,278.6 490.4,278.2 490.6,278.9 490.9,279.2 491.2,279.0 491.4,279.7 491.7,278.5 491.9,280.0 492.2,280.2 492.5,279.8 492.7,278.3 493.0,279.9 493.2,279.6 493.5,279.4 493.8,280.1 494.0,279.4 494.3,279.8 494.5,280.3 494.8,279.9 495.1,279.7 495.3,279.9 495.6,280.1 495.8,280.8 496.1,280.3 496.4,280.5 496.6,279.2 496.9,279.6 497.1,280.9 497.4,280.4 497.7,280.3 497.9,280.5 498.2,280.0 498.4,281.6 498.7,281.5 499.0,281.3 499.2,281.1 499.5,281.2 499.7,281.3 500.0,281.2 500.3,280.6 500.5,280.8 500.8,281.5 501.0,280.6 501.3,281.3 501.6,281.3 501.8,281.6 502.1,281.1 502.3,281.8 502.6,280.5 502.9,281.9 503.1,281.6 503.4,281.3 503.6,281.5 503.9,282.0 504.2,281.8 504.4,281.4 504.7,281.2 504.9,282.0 505.2,281.8 505.5,281.7 505.7,281.5 506.0,281.9 506.2,281.8 506.5,281.1 506.8,282.3 507.0,282.2 507.3,281.9 507.5,282.0 507.8,281.9 508.1,281.9 508.3,282.1 508.6,282.8 508.8,282.0 509.1,283.4 509.4,283.2 509.6,283.0 509.9,282.7 510.1,283.1 510.4,282.8 510.7,282.9 510.9,283.4 511.2,283.5 511.4,282.3 511.7,283.7 512.0,283.0 512.2,283.2 512.5,283.1 512.7,284.3 513.0,283.6 513.3,283.7 513.5,284.1 513.8,284.4 514.1,285.2 514.3,283.7 514.6,284.3 514.8,283.8 515.1,284.7 515.4,285.2 515.6,284.1 515.9,285.6 516.1,284.0 516.4,284.7 516.7,285.1 516.9,284.5 517.2,285.3 517.4,285.5 517.7,285.9 518.0,285.2 518.2,285.1 518.5,285.7 518.7,286.4 519.0,286.5 519.3,285.5 519.5,286.5 519.8,285.8 520.0,286.3 520.3,286.7 520.6,286.5 520.8,287.0 521.1,287.3 521.3,287.9 521.6,287.5 521.9,287.1 522.1,286.8 522.4,287.6 522.6,287.0 522.9,287.2 523.2,287.1 523.4,287.1 523.7,287.6 523.9,287.7 524.2,287.4 524.5,287.9 524.7,288.3 525.0,287.9 525.2,288.6 525.5,288.1 525.8,288.5 526.0,288.7 526.3,288.2 526.5,288.3 526.8,289.0 527.1,289.1 527.3,289.4 527.6,289.8 527.8,288.5 528.1,289.7 528.4,289.0 528.6,289.4 528.9,289.3 529.1,289.6 529.4,289.7 529.7,290.0 529.9,289.6 530.2,290.1 530.4,290.4 530.7,289.7 531.0,290.5 531.2,290.6 531.5,289.9 531.7,289.9 532.0,291.3 532.3,290.1 532.5,291.1 532.8,290.7 533.0,291.4 533.3,291.5 533.6,290.3 533.8,291.3 534.1,290.9 534.3,290.9 534.6,291.0 534.9,291.6 535.1,292.4 535.4,291.5 535.6,291.2 535.9,292.9 536.2,290.3 536.4,291.8 536.7,292.1 536.9,291.3 537.2,292.8 537.5,292.5 537.7,292.4 538.0,292.7 538.3,292.9 538.5,293.0 538.8,293.4 539.0,293.1 539.3,292.2 539.6,291.6 539.8,292.9 540.1,292.7 540.3,292.4 540.6,293.4 540.9,293.6 541.1,293.4 541.4,293.0 541.6,293.5 541.9,294.0 542.2,294.2 542.4,293.3 542.7,293.5 542.9,293.6 543.2,293.9 543.5,293.2 543.7,294.7 544.0,294.3 544.2,294.7 544.5,294.1 544.8,294.0 545.0,294.8 545.3,294.6 545.5,294.9 545.8,294.9 546.1,294.2 546.3,295.4 546.6,295.2 546.8,295.4 547.1,295.3 547.4,295.2 547.6,296.0 547.9,295.8 548.1,295.6 548.4,295.5 548.7,295.5 548.9,296.0 549.2,295.4 549.4,296.5 549.7,295.8 550.0,295.6 550.2,295.8 550.5,296.9 550.7,296.3 551.0,297.0 551.3,296.8 551.5,297.0 551.8,297.1 552.0,297.5 552.3,298.4 552.6,297.6 552.8,297.8 553.1,297.9 553.3,299.7 553.6,298.9 553.9,298.6 554.1,299.0 554.4,298.7 554.6,299.2 554.9,298.3 555.2,300.5 555.4,299.4 555.7,299.3 555.9,300.3 556.2,300.0 556.5,299.6 556.7,299.9 557.0,301.1 557.2,300.2 557.5,300.7 557.8,300.3 558.0,299.7 558.3,299.3 558.5,300.2 558.8,299.9 559.1,300.5 559.3,301.1 559.6,301.0 559.8,300.4 560.1,301.0 560.4,301.0 560.6,300.5 560.9,301.0 561.2,300.7 561.4,300.6 561.7,301.2 561.9,300.4 562.2,300.4 562.5,301.7 562.7,301.5 563.0,301.1 563.2,301.6 563.5,301.8 563.8,301.8 564.0,300.9 564.3,301.3 564.5,301.8 564.8,301.7 565.1,301.7 565.3,301.8 565.6,301.7 565.8,301.7 566.1,301.4 566.4,301.3 566.6,301.9 566.9,302.0 567.1,302.4 567.4,301.9 567.7,302.0 567.9,302.0 568.2,301.6 568.4,302.4 568.7,302.5 569.0,302.7 569.2,303.0 569.5,301.9 569.7,302.7 570.0,302.1 570.3,302.9 570.5,302.5 570.8,302.5 571.0,302.7 571.3,302.4 571.6,302.9 571.8,303.5 572.1,303.1 572.3,303.1 572.6,303.8 572.9,303.9 573.1,303.1 573.4,303.2 573.6,303.3 573.9,303.4 574.2,303.7 574.4,304.1 574.7,304.3 574.9,303.8 575.2,303.9 575.5,304.0 575.7,303.6 576.0,303.7 576.2,303.7 576.5,304.7 576.8,304.4 577.0,304.6 577.3,304.0 577.5,304.0 577.8,304.2 578.1,304.1 578.3,305.0 578.6,304.0 578.8,304.6 579.1,305.1 579.4,303.3 579.6,304.7 579.9,304.5 580.1,305.4 580.4,305.6 580.7,305.0 580.9,304.4 581.2,305.4 581.4,305.6 581.7,305.3 582.0,304.9 582.2,305.2 582.5,305.6 582.7,305.9 583.0,305.9 583.3,305.6 583.5,306.3 583.8,306.5 584.0,305.5 584.3,306.1 584.6,305.9 584.8,306.4 585.1,306.5 585.4,307.7 585.6,307.8 585.9,307.8" fill="none" stroke="none" marker-start="url(#m6)" marker-mid="url(#m6)" marker-end="url(#m6)"/>
<polyline points="408.7,262.4 408.9,266.5 409.2,270.8 409.4,275.3 409.7,275.4 410.0,274.6 410.2,275.1 410.5,274.5 410.7,275.2 411.0,274.6 411.3,273.9 411.5,274.5 411.8,273.5 412.0,274.1 412.3,273.6 412.6,273.7 412.8,274.2 413.1,273.7 413.3,273.1 413.6,274.0 413.9,273.9 414.1,273.6 414.4,273.3 414.6,273.4 414.9,273.7 415.2,272.7 415.4,273.1 415.7,272.4 415.9,273.0 416.2,273.4 416.5,273.2 416.7,272.9 417.0,272.8 417.2,272.2 417.5,273.0 417.8,273.1 418.0,273.4 418.3,272.5 418.5,272.4 418.8,272.6 419.1,272.8 419.3,272.9 419.6,272.4 419.8,273.0 420.1,272.8 420.4,272.5 420.6,273.2 420.9,272.3 421.2,272.9 421.4,271.7 421.7,273.3 421.9,272.8 422.2,272.5 422.5,272.3 422.7,271.9 423.0,273.1 423.2,272.1 423.5,271.8 423.8,272.7 424.0,271.7 424.3,273.2 424.5,273.0 424.8,272.1 425.1,272.5 425.3,273.1 425.6,271.8 425.8,272.5 426.1,272.9 426.4,271.9 426.6,271.4 426.9,272.3 427.1,271.4 427.4,272.2 427.7,272.7 427.9,272.3 428.2,271.9 428.4,272.5 428.7,272.5 429.0,272.5 429.2,271.9 429.5,272.3 429.7,272.3 430.0,272.4 430.3,272.6 430.5,271.3 430.8,272.0 431.0,271.7 431.3,271.8 431.6,272.1 431.8,272.5 432.1,271.9 432.3,271.5 432.6,271.9 432.9,272.5 433.1,272.0 433.4,271.1 433.6,271.3 433.9,271.4 434.2,271.5 434.4,271.6 434.7,272.5 434.9,272.4 435.2,271.8 435.5,272.2 435.7,272.0 436.0,272.4 436.2,271.9 436.5,271.8 436.8,271.8 437.0,271.9 437.3,271.3 437.5,271.8 437.8,271.9 438.1,270.8 438.3,272.5 438.6,271.8 438.8,272.2 439.1,272.4 439.4,271.0 439.6,271.2 439.9,272.8 440.1,271.5 440.4,272.2 440.7,272.1 440.9,272.2 441.2,271.3 441.4,272.1 441.7,271.2 442.0,272.2 442.2,272.2 442.5,271.4 442.7,272.5 443.0,271.9 443.3,272.2 443.5,272.1 443.8,272.5 444.1,272.5 444.3,271.6 444.6,272.2 444.8,271.7 445.1,272.1 445.4,272.2 445.6,271.5 445.9,271.7 446.1,272.0 446.4,272.1 446.7,271.9 446.9,271.7 447.2,271.3 447.4,272.1 447.7,272.5 448.0,272.3 448.2,271.5 448.5,272.4 448.7,271.9 449.0,271.4 449.3,273.0 449.5,272.1 449.8,272.6 450.0,272.6 450.3,272.2 450.6,271.7 450.8,272.2 451.1,273.2 451.3,272.0 451.6,272.8 451.9,272.2 452.1,272.9 452.4,271.5 452.6,272.2 452.9,273.2 453.2,272.7 453.4,272.9 453.7,272.2 453.9,272.3 454.2,272.5 454.5,272.5 454.7,272.3 455.0,273.7 455.2,272.6 455.5,273.1 455.8,273.1 456.0,273.5 456.3,272.3 456.5,272.0 456.8,272.6 457.1,271.9 457.3,272.6 457.6,273.5 457.8,273.1 458.1,273.0 458.4,273.0 458.6,272.4 458.9,272.2 459.1,272.7 459.4,273.3 459.7,272.6 459.9,272.5 460.2,273.2 460.4,273.2 460.7,273.0 461.0,273.2 461.2,273.4 461.5,272.7 461.7,272.6 462.0,273.0 462.3,273.7 462.5,272.7 462.8,273.8 463.0,273.5 463.3,274.2 463.6,273.3 463.8,274.0 464.1,273.6 464.3,273.4 464.6,272.8 464.9,274.2 465.1,272.6 465.4,272.8 465.6,273.5 465.9,274.2 466.2,274.6 466.4,273.1 466.7,273.8 466.9,274.1 467.2,273.9 467.5,274.0 467.7,274.3 468.0,274.2 468.3,273.3 468.5,274.0 468.8,274.3 469.0,274.9 469.3,274.5 469.6,273.7 469.8,274.1 470.1,273.9 470.3,273.8 470.6,273.8 470.9,273.9 471.1,275.1 471.4,275.4 471.6,274.8 471.9,274.2 472.2,274.4 472.4,274.2 472.7,275.0 472.9,274.7 473.2,274.8 473.5,274.8 473.7,274.4 474.0,274.8 474.2,274.2 474.5,275.7 474.8,274.1 475.0,275.6 475.3,274.8 475.5,274.3 475.8,275.6 476.1,274.9 476.3,275.1 476.6,275.3 476.8,275.0 477.1,275.6 477.4,274.2 477.6,275.5 477.9,274.3 478.1,275.0 478.4,275.7 478.7,274.6 478.9,275.4 479.2,275.8 479.4,275.8 479.7,275.4 480.0,275.3 480.2,275.0 480.5,275.4 480.7,275.3 481.0,275.2 481.3,275.4 481.5,274.9 481.8,275.9 482.0,275.4 482.3,275.8 482.6,276.0 482.8,276.3 483.1,275.2 483.3,275.4 483.6,276.0 483.9,275.4 484.1,275.6 484.4,275.0 484.6,276.3 484.9,274.9 485.2,274.9 485.4,276.1 485.7,275.6 485.9,275.6 486.2,275.4 486.5,276.1 486.7,274.7 487.0,275.2 487.2,275.6 487.5,275.5 487.8,276.3 488.0,275.2 488.3,276.0 488.5,275.8 488.8,275.5 489.1,275.1 489.3,275.7 489.6,275.2 489.8,275.6 490.1,275.6 490.4,276.0 490.6,276.2 490.9,275.2 491.2,276.3 491.4,275.2 491.7,274.9 491.9,275.8 492.2,276.9 492.5,275.6 492.7,276.5 493.0,275.9 493.2,275.4 493.5,275.9 493.8,275.5 494.0,275.5 494.3,275.7 494.5,275.2 494.8,275.6 495.1,275.3 495.3,275.6 495.6,275.4 495.8,276.4 496.1,276.7 496.4,276.3 496.6,275.7 496.9,275.1 497.1,276.1 497.4,276.4 497.7,275.1 497.9,276.5 498.2,275.8 498.4,275.4 498.7,275.0 499.0,276.2 499.2,276.0 499.5,276.0 499.7,276.0 500.0,276.4 500.3,275.7 500.5,275.6 500.8,276.1 501.0,275.9 501.3,276.6 501.6,275.4 501.8,275.6 502.1,275.6 502.3,275.9 502.6,276.2 502.9,276.2 503.1,276.3 503.4,276.0 503.6,276.0 503.9,276.0 504.2,276.4 504.4,276.0 504.7,275.8 504.9,276.9 505.2,276.4 505.5,275.2 505.7,276.2 506.0,275.4 506.2,276.4 506.5,275.6 506.8,276.4 507.0,276.8 507.3,276.1 507.5,277.1 507.8,275.9 508.1,276.2 508.3,276.3 508.6,276.7 508.8,276.7 509.1,276.3 509.4,275.8 509.6,276.4 509.9,276.9 510.1,276.5 510.4,276.0 510.7,275.8 510.9,277.2 511.2,276.0 511.4,276.3 511.7,276.2 512.0,276.0 512.2,276.9 512.5,275.9 512.7,276.8 513.0,276.6 513.3,277.4 513.5,276.7 513.8,276.4 514.1,276.3 514.3,276.7 514.6,276.5 514.8,275.4 515.1,276.2 515.4,276.4 515.6,276.8 515.9,276.3 516.1,277.6 516.4,276.7 516.7,276.5 516.9,277.2 517.2,277.0 517.4,276.4 517.7,277.4 518.0,276.9 518.2,277.1 518.5,277.0 518.7,277.3 519.0,276.9 519.3,276.4 519.5,277.8 519.8,277.4 520.0,276.7 520.3,277.3 520.6,276.9 520.8,277.8 521.1,277.4 521.3,276.5 521.6,277.4 521.9,277.0 522.1,277.5 522.4,276.1 522.6,277.8 522.9,278.1 523.2,277.6 523.4,277.0 523.7,277.8 523.9,276.4 524.2,277.7 524.5,277.4 524.7,277.0 525.0,277.8 525.2,277.6 525.5,278.0 525.8,277.1 526.0,277.0 526.3,276.8 526.5,277.8 526.8,277.5 527.1,277.6 527.3,277.4 527.6,277.9 527.8,277.8 528.1,278.3 528.4,278.2 528.6,278.3 528.9,277.9 529.1,278.0 529.4,277.5 529.7,278.3 529.9,277.4 530.2,277.6 530.4,277.9 530.7,278.8 531.0,278.1 531.2,278.4 531.5,277.9 531.7,277.8 532.0,277.7 532.3,279.1 532.5,278.7 532.8,277.7 533.0,277.7 533.3,277.9 533.6,278.7 533.8,278.0 534.1,278.9 534.3,278.0 534.6,278.7 534.9,278.5 535.1,278.2 535.4,278.7 535.6,279.1 535.9,278.9 536.2,278.4 536.4,278.3 536.7,278.4 536.9,278.5 537.2,278.5 537.5,278.8 537.7,278.1 538.0,278.8 538.3,278.9 538.5,278.1 538.8,278.2 539.0,278.3 539.3,278.6 539.6,279.2 539.8,278.6 540.1,279.0 540.3,278.7 540.6,279.5 540.9,279.4 541.1,279.6 541.4,278.9 541.6,279.1 541.9,279.5 542.2,278.5 542.4,279.6 542.7,279.2 542.9,278.4 543.2,278.3 543.5,279.0 543.7,278.7 544.0,279.1 544.2,278.9 544.5,279.1 544.8,278.6 545.0,279.5 545.3,279.6 545.5,279.0 545.8,279.6 546.1,278.9 546.3,279.1 546.6,279.6 546.8,279.0 547.1,279.2 547.4,278.7 547.6,279.2 547.9,280.3 548.1,279.3 548.4,280.0 548.7,280.4 548.9,279.3 549.2,279.7 549.4,279.4 549.7,279.7 550.0,280.0 550.2,279.0 550.5,280.1 550.7,279.4 551.0,279.4 551.3,279.4 551.5,280.0 551.8,279.4 552.0,279.8 552.3,279.0 552.6,280.6 552.8,279.5 553.1,279.9 553.3,280.1 553.6,279.5 553.9,280.7 554.1,279.5 554.4,280.3 554.6,280.5 554.9,280.6 555.2,280.2 555.4,281.0 555.7,280.1 555.9,279.8 556.2,281.1 556.5,280.4 556.7,280.6 557.0,280.1 557.2,280.1 557.5,280.1 557.8,280.1 558.0,280.3 558.3,280.8 558.5,279.8 558.8,280.3 559.1,280.6 559.3,280.6 559.6,280.7 559.8,279.9 560.1,280.9 560.4,280.6 560.6,280.2 560.9,280.1 561.2,280.2 561.4,280.9 561.7,279.6 561.9,281.0 562.2,280.1 562.5,281.8 562.7,281.0 563.0,281.4 563.2,281.3 563.5,281.5 563.8,281.5 564.0,281.9 564.3,281.4 564.5,281.2 564.8,282.1 565.1,281.8 565.3,281.9 565.6,281.4 565.8,281.8 566.1,281.5 566.4,281.6 566.6,282.3 566.9,282.3 567.1,282.7 567.4,281.7 567.7,281.7 567.9,282.7 568.2,282.4 568.4,282.6 568.7,281.5 569.0,282.0 569.2,282.7 569.5,282.4 569.7,284.2 570.0,283.3 570.3,283.0 570.5,283.4 570.8,282.5 571.0,282.8 571.3,283.4 571.6,282.6 571.8,284.1 572.1,283.0 572.3,283.7 572.6,282.8 572.9,283.0 573.1,283.1 573.4,284.0 573.6,283.9 573.9,284.0 574.2,284.0 574.4,283.6 574.7,284.2 574.9,284.8 575.2,284.6 575.5,283.7 575.7,284.0 576.0,284.4 576.2,283.9 576.5,285.6 576.8,284.6 577.0,283.9 577.3,284.3 577.5,284.7 577.8,285.0 578.1,285.2 578.3,285.2 578.6,284.7 578.8,285.3 579.1,286.3 579.4,284.7 579.6,285.5 579.9,285.8 580.1,284.5 580.4,285.8 580.7,285.8 580.9,285.6 581.2,285.2 581.4,285.9 581.7,286.0 582.0,285.5 582.2,286.3 582.5,286.5 582.7,286.4 583.0,286.5 583.3,286.7 583.5,286.3 583.8,285.5 584.0,286.2 584.3,286.5 584.6,286.3 584.8,287.0 585.1,287.0 585.4,287.4 585.6,287.0 585.9,286.5 586.1,287.2 586.4,287.4 586.7,287.1 586.9,286.9 587.2,287.4 587.4,288.0 587.7,287.8 588.0,286.9 588.2,287.1 588.5,288.1 588.7,286.8 589.0,288.3 589.3,287.9 589.5,288.1 589.8,287.8 590.0,288.2 590.3,288.7 590.6,287.8 590.8,288.6 591.1,288.0 591.3,288.7 591.6,288.0 591.9,288.8 592.1,288.4 592.4,288.2 592.6,289.0 592.9,288.8 593.2,289.4 593.4,288.7 593.7,288.8 593.9,289.3 594.2,288.4 594.5,289.0 594.7,289.5 595.0,288.9 595.2,288.9 595.5,289.1 595.8,289.9 596.0,290.0 596.3,289.5 596.5,290.0 596.8,289.6 597.1,290.4 597.3,289.2 597.6,289.7 597.8,291.1 598.1,291.0 598.4,290.2 598.6,290.6 598.9,290.9 599.1,291.1 599.4,290.7 599.7,291.4 599.9,290.9 600.2,290.4 600.4,291.5 600.7,291.5 601.0,290.6 601.2,291.0 601.5,291.8 601.7,292.8 602.0,292.3 602.3,292.2 602.5,292.1 602.8,293.0 603.0,292.4 603.3,291.5 603.6,292.2 603.8,292.6 604.1,291.8 604.3,291.7 604.6,292.9 604.9,292.3 605.1,291.1 605.4,293.5 605.6,293.1 605.9,292.9 606.2,293.5 606.4,293.1 606.7,293.5 606.9,293.4 607.2,292.7 607.5,293.9 607.7,293.1 608.0,294.2 608.3,293.1 608.5,294.1 608.8,293.4 609.0,294.6 609.3,295.0 609.6,294.5 609.8,295.2 610.1,294.3 610.3,294.2 610.6,295.0 610.9,295.1 611.1,294.6 611.4,295.0 611.6,295.2 611.9,294.4 612.2,296.0 612.4,294.9 612.7,295.1 612.9,295.8 613.2,295.6 613.5,296.0 613.7,296.1 614.0,296.3 614.2,296.3 614.5,295.7 614.8,296.7 615.0,296.4 615.3,295.9 615.5,296.8 615.8,296.1 616.1,296.4 616.3,296.2 616.6,296.2 616.8,297.4 617.1,296.9 617.4,297.1 617.6,297.3 617.9,296.9 618.1,297.3 618.4,297.4 618.7,298.3 618.9,297.5 619.2,297.7 619.4,297.4 619.7,298.1 620.0,298.0 620.2,297.5 620.5,298.0 620.7,297.3 621.0,299.0 621.3,298.2 621.5,298.3 621.8,299.5 622.0,298.0 622.3,298.4 622.6,299.4 622.8,299.0 623.1,299.3 623.3,298.8 623.6,298.6 623.9,299.2 624.1,299.9 624.4,299.3 624.6,298.9 624.9,299.1 625.2,300.1 625.4,300.2 625.7,300.3 625.9,300.0 626.2,300.2 626.5,300.5 626.7,300.8 627.0,300.1 627.2,300.8 627.5,300.8 627.8,301.0 628.0,300.7 628.3,301.1 628.5,301.0 628.8,301.3 629.1,301.4 629.3,301.8 629.6,301.8 629.8,302.7 630.1,302.3 630.4,302.1 630.6,302.5 630.9,303.0 631.2,302.7 631.4,302.4 631.7,302.5 631.9,302.2 632.2,302.7 632.5,303.0 632.7,303.6 633.0,303.0 633.2,303.5 633.5,303.2 633.8,303.9 634.0,304.3 634.3,303.8 634.5,303.6 634.8,303.3 635.1,303.3 635.3,304.2 635.6,304.3 635.8,304.1 636.1,304.1 636.4,304.2 636.6,305.1 636.9,304.6 637.1,304.4 637.4,305.1 637.7,305.0 637.9,305.2 638.2,306.4 638.4,305.3 638.7,305.4 639.0,304.9 639.2,305.9 639.5,306.4 639.7,305.9 640.0,305.4 640.3,305.7 640.5,306.4 640.8,306.7 641.0,306.2 641.3,307.1 641.6,306.8 641.8,307.0 642.1,307.6 642.3,307.0 642.6,307.8" fill="none" stroke="none" marker-start="url(#m7)" marker-mid="url(#m7)" marker-end="url(#m7)"/>
<polyline points="408.7,255.7 408.9,259.1 409.2,261.8 409.4,263.0 409.7,263.7 410.0,264.8 410.2,266.8 410.5,268.1 410.7,267.4 411.0,266.4 411.3,267.3 411.5,268.1 411.8,266.9 412.0,267.9 412.3,267.0 412.6,266.9 412.8,266.9 413.1,267.2 413.3,267.0 413.6,267.1 413.9,266.3 414.1,267.2 414.4,267.0 414.6,267.1 414.9,267.9 415.2,266.1 415.4,267.3 415.7,267.0 415.9,266.5 416.2,267.0 416.5,267.0 416.7,267.1 417.0,268.1 417.2,266.4 417.5,266.7 417.8,268.3 418.0,266.9 418.3,267.3 418.5,266.6 418.8,266.9 419.1,267.3 419.3,266.9 419.6,268.1 419.8,267.0 420.1,267.2 420.4,267.3 420.6,267.2 420.9,267.2 421.2,267.0 421.4,267.0 421.7,267.0 421.9,266.8 422.2,266.6 422.5,267.5 422.7,267.2 423.0,267.6 423.2,266.6 423.5,267.1 423.8,267.2 424.0,266.3 424.3,267.6 424.5,266.5 424.8,266.5 425.1,266.9 425.3,267.2 425.6,267.0 425.8,267.0 426.1,266.5 426.4,267.0 426.6,265.9 426.9,267.2 427.1,267.7 427.4,267.4 427.7,266.9 427.9,267.5 428.2,266.7 428.4,266.8 428.7,267.3 429.0,266.2 429.2,267.3 429.5,266.7 429.7,267.3 430.0,265.8 430.3,267.4 430.5,267.8 430.8,267.1 431.0,266.8 431.3,266.4 431.6,266.5 431.8,267.2 432.1,266.5 432.3,266.6 432.6,267.1 432.9,266.6 433.1,266.2 433.4,266.6 433.6,266.8 433.9,267.0 434.2,267.1 434.4,266.6 434.7,266.8 434.9,267.7 435.2,267.2 435.5,267.8 435.7,266.7 436.0,266.7 436.2,267.6 436.5,266.2 436.8,266.7 437.0,266.2 437.3,267.8 437.5,266.2 437.8,265.8 438.1,267.7 438.3,267.0 438.6,266.9 438.8,266.8 439.1,267.4 439.4,267.3 439.6,266.7 439.9,265.9 440.1,266.7 440.4,266.4 440.7,266.4 440.9,267.1 441.2,267.4 441.4,266.7 441.7,267.8 442.0,266.9 442.2,266.7 442.5,267.0 442.7,267.7 443.0,267.2 443.3,267.1 443.5,267.0 443.8,266.4 444.1,267.4 444.3,267.2 444.6,267.2 444.8,267.6 445.1,266.8 445.4,266.9 445.6,267.6 445.9,267.6 446.1,266.7 446.4,267.4 446.7,266.6 446.9,267.6 447.2,267.9 447.4,267.3 447.7,267.1 448.0,266.5 448.2,267.7 448.5,267.3 448.7,267.4 449.0,267.1 449.3,267.0 449.5,267.5 449.8,267.7 450.0,267.7 450.3,267.0 450.6,267.1 450.8,267.7 451.1,266.7 451.3,267.2 451.6,267.2 451.9,267.0 452.1,266.9 452.4,266.7 452.6,267.5 452.9,267.8 453.2,267.6 453.4,267.3 453.7,267.5 453.9,267.3 454.2,267.5 454.5,267.8 454.7,267.3 455.0,267.5 455.2,267.0 455.5,267.7 455.8,267.3 456.0,267.9 456.3,266.6 456.5,267.1 456.8,267.1 457.1,267.0 457.3,267.5 457.6,267.8 457.8,266.5 458.1,267.3 458.4,266.9 458.6,267.8 458.9,267.3 459.1,267.6 459.4,267.2 459.7,267.1 459.9,266.7 460.2,268.9 460.4,267.6 460.7,267.3 461.0,268.1 461.2,267.3 461.5,268.3 461.7,267.0 462.0,266.4 462.3,266.5 462.5,268.0 462.8,267.8 463.0,267.8 463.3,267.7 463.6,268.0 463.8,267.8 464.1,267.4 464.3,267.8 464.6,268.2 464.9,268.7 465.1,268.9 465.4,267.7 465.6,268.5 465.9,267.3 466.2,267.7 466.4,268.8 466.7,268.4 466.9,268.2 467.2,268.3 467.5,267.7 467.7,268.5 468.0,268.3 468.3,268.4 468.5,267.9 468.8,268.6 469.0,268.0 469.3,269.0 469.6,268.9 469.8,268.9 470.1,268.9 470.3,268.9 470.6,268.7 470.9,268.5 471.1,268.5 471.4,268.2 471.6,268.4 471.9,269.7 472.2,268.9 472.4,268.8 472.7,268.1 472.9,269.3 473.2,268.7 473.5,269.9 473.7,269.5 474.0,269.3 474.2,269.4 474.5,268.9 474.8,269.5 475.0,268.7 475.3,269.2 475.5,269.0 475.8,269.8 476.1,270.0 476.3,270.3 476.6,269.6 476.8,269.2 477.1,269.5 477.4,268.6 477.6,269.6 477.9,269.4 478.1,270.0 478.4,268.7 478.7,269.5 478.9,269.7 479.2,270.1 479.4,269.5 479.7,269.4 480.0,269.6 480.2,270.2 480.5,269.7 480.7,269.3 481.0,271.0 481.3,270.0 481.5,269.6 481.8,269.9 482.0,270.0 482.3,270.6 482.6,270.6 482.8,270.4 483.1,269.8 483.3,269.9 483.6,270.5 483.9,270.8 484.1,270.6 484.4,270.8 484.6,269.9 484.9,270.4 485.2,270.4 485.4,270.0 485.7,270.4 485.9,270.9 486.2,270.3 486.5,269.6 486.7,269.2 487.0,270.4 487.2,270.8 487.5,270.6 487.8,270.8 488.0,270.1 488.3,270.6 488.5,270.5 488.8,270.2 489.1,271.4 489.3,271.2 489.6,270.3 489.8,268.9 490.1,271.0 490.4,270.3 490.6,270.4 490.9,270.5 491.2,270.3 491.4,271.0 491.7,270.5 491.9,270.3 492.2,270.2 492.5,271.3 492.7,270.1 493.0,269.4 493.2,270.5 493.5,270.6 493.8,271.5 494.0,269.7 494.3,270.7 494.5,271.7 494.8,271.4 495.1,269.9 495.3,270.7 495.6,270.7 495.8,271.4 496.1,271.2 496.4,270.7 496.6,270.7 496.9,270.5 497.1,270.2 497.4,271.3 497.7,271.3 497.9,271.4 498.2,271.3 498.4,270.5 498.7,271.2 499.0,270.7 499.2,270.8 499.5,270.6 499.7,271.3 500.0,270.6 500.3,271.5 500.5,271.3 500.8,271.6 501.0,271.0 501.3,270.6 501.6,270.2 501.8,270.4 502.1,270.8 502.3,271.3 502.6,271.0 502.9,270.7 503.1,271.0 503.4,271.1 503.6,271.3 503.9,271.0 504.2,271.3 504.4,271.3 504.7,270.9 504.9,270.8 505.2,270.8 505.5,270.8 505.7,271.4 506.0,270.8 506.2,271.4 506.5,271.0 506.8,270.4 507.0,272.1 507.3,270.3 507.5,271.1 507.8,271.3 508.1,270.5 508.3,271.8 508.6,271.9 508.8,270.6 509.1,271.1 509.4,271.0 509.6,271.6 509.9,270.7 510.1,271.4 510.4,271.0 510.7,271.2 510.9,271.7 511.2,271.0 511.4,271.6 511.7,272.1 512.0,270.3 512.2,271.0 512.5,272.2 512.7,270.9 513.0,271.0 513.3,271.0 513.5,271.3 513.8,272.0 514.1,271.3 514.3,271.1 514.6,271.7 514.8,271.1 515.1,271.1 515.4,272.0 515.6,271.3 515.9,271.6 516.1,271.4 516.4,270.6 516.7,270.4 516.9,272.0 517.2,271.1 517.4,270.9 517.7,272.1 518.0,271.6 518.2,272.0 518.5,270.9 518.7,270.7 519.0,272.2 519.3,271.7 519.5,272.2 519.8,272.2 520.0,271.2 520.3,271.0 520.6,271.2 520.8,271.8 521.1,271.7 521.3,271.8 521.6,272.1 521.9,271.8 522.1,271.7 522.4,271.8 522.6,272.3 522.9,271.7 523.2,273.1 523.4,272.6 523.7,272.6 523.9,272.4 524.2,271.7 524.5,272.1 524.7,272.1 525.0,272.1 525.2,272.0 525.5,272.1 525.8,272.3 526.0,272.1 526.3,271.7 526.5,271.4 526.8,271.8 527.1,272.4 527.3,272.5 527.6,271.9 527.8,271.9 528.1,272.2 528.4,272.2 528.6,272.9 528.9,272.0 529.1,273.2 529.4,273.0 529.7,272.6 529.9,272.1 530.2,272.9 530.4,272.7 530.7,272.5 531.0,273.0 531.2,272.8 531.5,272.7 531.7,272.8 532.0,272.4 532.3,273.3 532.5,272.2 532.8,273.0 533.0,271.8 533.3,272.5 533.6,272.7 533.8,273.0 534.1,272.8 534.3,272.3 534.6,272.5 534.9,272.1 535.1,272.9 535.4,272.3 535.6,272.9 535.9,272.5 536.2,272.7 536.4,272.2 536.7,272.8 536.9,272.6 537.2,272.4 537.5,272.6 537.7,273.1 538.0,272.7 538.3,272.5 538.5,273.5 538.8,273.2 539.0,274.1 539.3,273.3 539.6,273.2 539.8,273.5 540.1,273.9 540.3,273.5 540.6,273.4 540.9,273.5 541.1,272.8 541.4,273.1 541.6,272.8 541.9,273.0 542.2,272.9 542.4,273.3 542.7,273.3 542.9,273.5 543.2,273.2 543.5,273.6 543.7,273.6 544.0,273.1 544.2,273.3 544.5,273.7 544.8,272.9 545.0,272.9 545.3,274.3 545.5,273.9 545.8,273.6 546.1,273.8 546.3,273.9 546.6,273.1 546.8,274.3 547.1,272.9 547.4,274.2 547.6,274.3 547.9,274.4 548.1,273.2 548.4,273.3 548.7,273.7 548.9,273.9 549.2,274.3 549.4,273.1 549.7,273.6 550.0,273.6 550.2,273.0 550.5,273.8 550.7,274.3 551.0,273.4 551.3,274.6 551.5,273.7 551.8,274.8 552.0,274.1 552.3,273.7 552.6,274.3 552.8,274.4 553.1,273.5 553.3,274.1 553.6,275.1 553.9,274.0 554.1,274.2 554.4,274.6 554.6,273.8 554.9,274.2 555.2,273.8 555.4,274.8 555.7,274.2 555.9,273.8 556.2,274.1 556.5,274.6 556.7,274.3 557.0,274.8 557.2,274.8 557.5,273.7 557.8,274.1 558.0,274.4 558.3,274.8 558.5,274.1 558.8,274.6 559.1,274.9 559.3,274.4 559.6,274.0 559.8,274.8 560.1,274.5 560.4,275.1 560.6,274.7 560.9,274.4 561.2,274.1 561.4,274.7 561.7,275.0 561.9,275.2 562.2,274.7 562.5,274.6 562.7,274.9 563.0,274.9 563.2,274.4 563.5,275.7 563.8,274.8 564.0,275.2 564.3,274.7 564.5,274.1 564.8,275.5 565.1,274.4 565.3,274.6 565.6,275.0 565.8,274.8 566.1,274.7 566.4,275.9 566.6,275.2 566.9,274.9 567.1,274.5 567.4,274.5 567.7,276.4 567.9,275.9 568.2,275.9 568.4,275.7 568.7,275.8 569.0,276.3 569.2,275.8 569.5,275.6 569.7,275.8 570.0,275.8 570.3,276.2 570.5,275.1 570.8,275.9 571.0,276.0 571.3,276.2 571.6,275.7 571.8,276.4 572.1,275.5 572.3,276.4 572.6,275.7 572.9,276.3 573.1,276.0 573.4,276.3 573.6,275.8 573.9,275.8 574.2,276.8 574.4,276.7 574.7,275.7 574.9,275.6 575.2,275.7 575.5,276.2 575.7,275.9 576.0,276.6 576.2,275.7 576.5,276.2 576.8,275.6 577.0,276.8 577.3,277.0 577.5,276.0 577.8,276.8 578.1,277.3 578.3,276.9 578.6,277.3 578.8,276.7 579.1,276.9 579.4,277.1 579.6,276.8 579.9,277.0 580.1,276.8 580.4,276.4 580.7,276.5 580.9,276.8 581.2,276.9 581.4,277.1 581.7,277.6 582.0,277.1 582.2,275.1 582.5,276.7 582.7,277.0 583.0,277.8 583.3,277.5 583.5,277.2 583.8,277.1 584.0,276.6 584.3,277.3 584.6,277.4 584.8,276.8 585.1,276.8 585.4,277.0 585.6,277.4 585.9,278.2 586.1,276.3 586.4,277.1 586.7,278.2 586.9,277.3 587.2,277.8 587.4,277.8 587.7,278.4 588.0,277.3 588.2,277.2 588.5,277.3 588.7,277.8 589.0,278.0 589.3,277.3 589.5,278.1 589.8,277.4 590.0,277.5 590.3,277.9 590.6,277.9 590.8,278.2 591.1,277.5 591.3,278.9 591.6,278.6 591.9,278.2 592.1,278.2 592.4,278.1 592.6,278.5 592.9,278.9 593.2,278.6 593.4,278.3 593.7,278.4 593.9,279.4 594.2,278.7 594.5,279.1 594.7,279.4 595.0,278.2 595.2,278.7 595.5,279.4 595.8,278.7 596.0,278.5 596.3,278.0 596.5,279.4 596.8,279.7 597.1,278.1 597.3,278.8 597.6,279.0 597.8,279.3 598.1,279.3 598.4,278.7 598.6,279.5 598.9,279.1 599.1,279.2 599.4,277.9 599.7,279.6 599.9,280.0 600.2,278.7 600.4,278.9 600.7,279.2 601.0,279.7 601.2,278.8 601.5,279.2 601.7,280.1 602.0,279.3 602.3,279.0 602.5,279.8 602.8,279.0 603.0,278.7 603.3,279.4 603.6,279.9 603.8,279.9 604.1,279.8 604.3,279.9 604.6,279.1 604.9,280.0 605.1,279.4 605.4,279.9 605.6,280.0 605.9,279.8 606.2,280.4 606.4,281.1 606.7,280.5 606.9,280.2 607.2,279.6 607.5,280.6 607.7,280.7 608.0,279.5 608.3,279.9 608.5,280.2 608.8,280.1 609.0,280.0 609.3,279.9 609.6,280.2 609.8,280.7 610.1,280.5 610.3,280.9 610.6,280.5 610.9,280.3 611.1,281.3 611.4,280.2 611.6,280.7 611.9,280.5 612.2,280.3 612.4,280.3 612.7,280.3 612.9,281.6 613.2,281.7 613.5,280.9 613.7,280.7 614.0,280.9 614.2,281.9 614.5,282.1 614.8,281.1 615.0,281.1 615.3,281.8 615.5,281.9 615.8,280.8 616.1,281.5 616.3,281.2 616.6,281.3 616.8,281.4 617.1,281.9 617.4,281.1 617.6,282.2 617.9,280.6 618.1,281.6 618.4,281.8 618.7,281.4 618.9,281.9 619.2,281.5 619.4,282.2 619.7,282.2 620.0,281.8 620.2,281.5 620.5,281.7 620.7,281.4 621.0,281.6 621.3,281.8 621.5,281.8 621.8,282.4 622.0,281.5 622.3,281.0 622.6,281.5 622.8,281.7 623.1,282.4 623.3,281.7 623.6,281.3 623.9,281.8 624.1,282.4 624.4,282.1 624.6,282.4 624.9,282.3 625.2,282.4 625.4,281.7 625.7,282.2 625.9,281.7 626.2,282.4 626.5,282.2 626.7,282.5 627.0,281.8 627.2,283.1 627.5,283.3 627.8,282.8 628.0,282.6 628.3,282.7 628.5,282.1 628.8,282.3 629.1,282.1 629.3,283.2 629.6,282.5 629.8,282.3 630.1,283.4 630.4,282.8 630.6,283.0 630.9,283.5 631.2,282.8 631.4,282.7 631.7,283.3 631.9,283.2 632.2,282.9 632.5,283.1 632.7,282.6 633.0,283.2 633.2,282.6 633.5,282.8 633.8,283.5 634.0,283.0 634.3,283.6 634.5,283.2 634.8,284.1 635.1,283.2 635.3,283.4 635.6,283.5 635.8,283.4 636.1,283.7 636.4,283.8 636.6,283.5 636.9,282.5 637.1,283.6 637.4,283.1 637.7,282.9 637.9,283.8 638.2,283.8 638.4,284.7 638.7,283.9 639.0,283.8 639.2,283.2 639.5,284.6 639.7,284.0 640.0,285.0 640.3,284.6 640.5,285.2 640.8,284.7 641.0,285.4 641.3,285.6 641.6,285.4 641.8,285.2 642.1,284.8 642.3,286.3 642.6,284.9" fill="none" stroke="none" marker-start="url(#m5)" marker-mid="url(#m5)" marker-end="url(#m5)"/>
<circle cx="584.3" cy="364.3" r="2.3" fill="#9CD1C2"/>
</g>
<path d="M408.40,213.00H642.60V365.40H408.40Z" fill="none" stroke="#000" stroke-width="1.2"/>
<path d="M408.40,365.40v4.4M460.44,365.40v4.4M512.49,365.40v4.4M564.53,365.40v4.4M616.58,365.40v4.4M434.42,365.40v2.5M486.47,365.40v2.5M538.51,365.40v2.5M590.56,365.40v2.5M642.60,365.40v2.5" stroke="#000" stroke-width="1.1" fill="none"/>
<text x="408.40" y="382.30" text-anchor="middle" font-size="12.0" fill="#000">0</text>
<text x="460.44" y="382.30" text-anchor="middle" font-size="12.0" fill="#000">200</text>
<text x="512.49" y="382.30" text-anchor="middle" font-size="12.0" fill="#000">400</text>
<text x="564.53" y="382.30" text-anchor="middle" font-size="12.0" fill="#000">600</text>
<text x="616.58" y="382.30" text-anchor="middle" font-size="12.0" fill="#000">800</text>
<path d="M408.40,365.40h-4.4M408.40,327.30h-4.4M408.40,289.20h-4.4M408.40,251.10h-4.4M408.40,213.00h-4.4M408.40,346.35h-2.5M408.40,308.25h-2.5M408.40,270.15h-2.5M408.40,232.05h-2.5" stroke="#000" stroke-width="1.1" fill="none"/>
<text x="400.80" y="368.90" text-anchor="end" font-size="12.0" fill="#000">0</text>
<text x="400.80" y="330.80" text-anchor="end" font-size="12.0" fill="#000">70</text>
<text x="400.80" y="292.70" text-anchor="end" font-size="12.0" fill="#000">140</text>
<text x="400.80" y="254.60" text-anchor="end" font-size="12.0" fill="#000">210</text>
<text x="400.80" y="216.50" text-anchor="end" font-size="12.0" fill="#000">280</text>
<path d="M642.60,365.40h4.4M642.60,329.11h4.4M642.60,292.83h4.4M642.60,256.54h4.4M642.60,220.26h4.4M642.60,347.26h2.5M642.60,310.97h2.5M642.60,274.69h2.5M642.60,238.40h2.5" stroke="#000" stroke-width="1.1" fill="none"/>
<text x="650.10" y="368.90" text-anchor="start" font-size="12.0" fill="#000">80</text>
<text x="650.10" y="332.61" text-anchor="start" font-size="12.0" fill="#000">85</text>
<text x="650.10" y="296.33" text-anchor="start" font-size="12.0" fill="#000">90</text>
<text x="650.10" y="260.04" text-anchor="start" font-size="12.0" fill="#000">95</text>
<text x="650.10" y="223.76" text-anchor="start" font-size="12.0" fill="#000">100</text>
<text x="525.50" y="397.00" text-anchor="middle" font-size="12.0" fill="#000">Cycle number</text>
<text transform="translate(373.10,360.90) rotate(-90)" text-anchor="start" font-size="12.0">Specific capacity (mAh g<tspan dy="-4.7" font-size="8.1">−1</tspan><tspan dy="4.7">)</tspan></text>
<text transform="translate(683.40,355.40) rotate(-90)" text-anchor="start" font-size="12.0">Coulombic efficiency (%)</text>
<text x="356.00" y="205.40" text-anchor="start" font-size="12" fill="#000" font-weight="bold">d</text>
<text x="491.70" y="262.60" text-anchor="middle" font-size="11.4" fill="#B2676C">TFPM</text>
<text x="443.90" y="290.00" text-anchor="middle" font-size="11.4" fill="#4A88B5">TFBM</text>
<text x="524.30" y="309.20" text-anchor="middle" font-size="11.4" fill="#9CD1C2">PM</text>
<text x="419.70" y="343.40" text-anchor="start" font-size="11.4" fill="#000">Li||0.74 mAh cm<tspan dy="-3.0" font-size="8.2">−2</tspan><tspan dy="3.0"> NMC811</tspan></text>
<text x="419.70" y="357.10" text-anchor="start" font-size="11.7" fill="#000">4.4 V, 5 C, 30 °C</text>
<g>
<path d="M55.2,417V475 M56.6,417V475 M54.3,430V530" stroke="#A89CB0" stroke-opacity="0.6" stroke-width="1.1" fill="none"/>
<path d="M138.6,426V567" stroke="#9CD1C2" stroke-width="1.2" stroke-opacity="0.35"/>
<path d="M140.2,426V567" stroke="#9CD1C2" stroke-width="1.2" stroke-opacity="0.35"/>
<path d="M145.2,426V567" stroke="#9CD1C2" stroke-width="1.3" stroke-opacity="0.35"/>
<path d="M147.2,426V567" stroke="#9CD1C2" stroke-width="1.3" stroke-opacity="0.35"/>
<path d="M244.4,424V567" stroke="#B2676C" stroke-width="1.2" stroke-opacity="0.35"/>
<polyline points="54.8,431.5 56.0,430.3 57.2,429.8 58.4,428.2 59.5,428.6 60.7,427.3 61.9,428.3 63.1,427.5 64.2,427.5 65.4,426.8 66.6,427.1 67.7,426.8 68.9,426.5 70.1,426.9 71.3,426.3 72.4,426.6 73.6,427.0 74.8,426.7 76.0,426.4 77.1,427.4 78.3,426.5 79.5,426.2 80.7,426.5 81.8,426.2 83.0,426.2 84.2,426.2 85.3,427.1 86.5,426.2 87.7,426.3 88.9,426.4 90.0,426.9 91.2,426.0 92.4,425.8 93.6,427.0 94.7,425.4 95.9,425.8 97.1,426.1 98.2,426.8 99.4,425.4 100.6,424.8 101.8,426.0 102.9,425.6 104.1,425.6 105.3,425.9 106.5,425.8 107.6,425.8 108.8,425.5 110.0,426.2 111.2,426.3 112.3,425.7 113.5,425.5 114.7,425.9 115.8,425.8 117.0,425.2 118.2,425.4 119.4,426.0 120.5,425.5 121.7,425.4 122.9,425.6 124.1,425.5 125.2,425.5 126.4,424.7 127.6,426.2 128.7,425.6 129.9,425.1 131.1,425.9 132.3,425.6 133.4,425.4 134.6,425.8 135.8,426.3 137.0,425.6 138.1,426.0 139.3,426.2 140.5,425.0 141.6,425.1 142.8,425.6 144.0,424.6 145.2,425.2 146.3,425.8" fill="none" stroke="#9CD1C2" stroke-width="0.5" stroke-opacity="1.0" marker-start="url(#m0)" marker-mid="url(#m0)" marker-end="url(#m0)"/>
<polyline points="54.8,420.7 56.0,420.9 57.2,420.6 58.4,422.2 59.5,421.7 60.7,421.9 61.9,421.9 63.1,421.3 64.2,421.4 65.4,421.6 66.6,422.6 67.7,421.8 68.9,422.1 70.1,422.2 71.3,422.5 72.4,422.5 73.6,422.4 74.8,421.9 76.0,421.4 77.1,422.4 78.3,422.4 79.5,422.7 80.7,422.3 81.8,422.2 83.0,422.5 84.2,421.9 85.3,422.1 86.5,422.1 87.7,422.5 88.9,423.0 90.0,422.6 91.2,422.7 92.4,422.5 93.6,422.5 94.7,422.3 95.9,422.3 97.1,421.7 98.2,422.1 99.4,422.1 100.6,422.7 101.8,422.7 102.9,422.8 104.1,422.9 105.3,422.4 106.5,422.8 107.6,423.1 108.8,422.5 110.0,422.8 111.2,422.5 112.3,422.0 113.5,422.6 114.7,422.3 115.8,422.6 117.0,422.4 118.2,422.6 119.4,421.9 120.5,423.2 121.7,423.0 122.9,422.5 124.1,422.3 125.2,422.6 126.4,422.8 127.6,422.7 128.7,422.7 129.9,422.0 131.1,422.3 132.3,423.0 133.4,422.7 134.6,422.2 135.8,422.4 137.0,422.2 138.1,422.3 139.3,423.0 140.5,422.6 141.6,423.0 142.8,422.7 144.0,422.2 145.2,422.5 146.3,423.4 147.5,422.5 148.7,422.4 149.9,423.1 151.0,422.7 152.2,422.7 153.4,423.2 154.6,422.2 155.7,422.9 156.9,422.4 158.1,422.3 159.2,422.5 160.4,423.1 161.6,422.7 162.8,422.2 163.9,422.4 165.1,423.2 166.3,423.1 167.5,422.5 168.6,423.5 169.8,422.7 171.0,422.5 172.1,422.9 173.3,423.3 174.5,423.5 175.7,423.4 176.8,423.0 178.0,423.0 179.2,422.8 180.4,423.3 181.5,423.2 182.7,423.5 183.9,423.1 185.0,423.6 186.2,423.7 187.4,423.8 188.6,424.0 189.7,424.3 190.9,424.5 192.1,425.2 193.3,425.3 194.4,425.2 195.6,426.0 196.8,426.2 198.0,426.8 199.1,426.6 200.3,426.9 201.5,427.0 202.6,427.5 203.8,427.9 205.0,428.1 206.2,428.2 207.3,428.7 208.5,428.9 209.7,429.2 210.9,429.1 212.0,429.8 213.2,429.7 214.4,430.0 215.5,430.6 216.7,431.5 217.9,431.5 219.1,431.5 220.2,431.7 221.4,432.4 222.6,432.8 223.8,433.1 224.9,432.9 226.1,433.4 227.3,433.7 228.5,434.1 229.6,434.4 230.8,435.0 232.0,434.9 233.1,435.7 234.3,436.6 235.5,436.7 236.7,437.6 237.8,437.8 239.0,438.9" fill="none" stroke="#4A88B5" stroke-width="0.5" stroke-opacity="1.0" marker-start="url(#m1)" marker-mid="url(#m1)" marker-end="url(#m1)"/>
<polyline points="54.8,418.2 56.0,418.7 57.2,419.3 58.4,420.8 59.5,420.3 60.7,420.8 61.9,421.3 63.1,421.6 64.2,421.8 65.4,422.2 66.6,422.3 67.7,422.1 68.9,422.2 70.1,422.0 71.3,422.1 72.4,422.4 73.6,422.8 74.8,422.6 76.0,422.9 77.1,422.9 78.3,422.6 79.5,423.3 80.7,422.5 81.8,422.4 83.0,422.5 84.2,423.0 85.3,422.6 86.5,422.4 87.7,422.8 88.9,423.0 90.0,422.6 91.2,422.6 92.4,423.0 93.6,423.0 94.7,423.0 95.9,422.4 97.1,422.8 98.2,422.8 99.4,422.1 100.6,423.1 101.8,422.7 102.9,422.6 104.1,423.4 105.3,422.8 106.5,422.5 107.6,422.7 108.8,422.9 110.0,423.0 111.2,422.7 112.3,422.5 113.5,422.5 114.7,422.5 115.8,422.4 117.0,421.0 118.2,422.6 119.4,422.8 120.5,422.5 121.7,422.5 122.9,422.7 124.1,422.7 125.2,423.1 126.4,422.5 127.6,422.8 128.7,422.8 129.9,422.4 131.1,423.0 132.3,422.8 133.4,422.2 134.6,423.0 135.8,423.1 137.0,422.6 138.1,423.3 139.3,422.9 140.5,422.5 141.6,423.0 142.8,422.7 144.0,422.4 145.2,422.2 146.3,420.6 147.5,425.5 148.7,423.0 149.9,423.0 151.0,422.7 152.2,422.7 153.4,423.4 154.6,423.4 155.7,423.1 156.9,422.8 158.1,422.6 159.2,422.8 160.4,423.4 161.6,423.0 162.8,422.8 163.9,422.5 165.1,423.0 166.3,422.6 167.5,422.9 168.6,423.1 169.8,421.5 171.0,425.5 172.1,422.8 173.3,423.0 174.5,423.5 175.7,423.1 176.8,422.5 178.0,423.4 179.2,423.0 180.4,424.0 181.5,422.8 182.7,422.9 183.9,422.9 185.0,423.1 186.2,422.8 187.4,422.5 188.6,422.4 189.7,422.9 190.9,422.8 192.1,422.8 193.3,423.6 194.4,423.2 195.6,423.3 196.8,422.9 198.0,423.1 199.1,423.0 200.3,423.0 201.5,423.3 202.6,423.2 203.8,423.1 205.0,423.1 206.2,422.6 207.3,422.8 208.5,423.2 209.7,422.9 210.9,422.8 212.0,423.2 213.2,422.8 214.4,422.9 215.5,423.3 216.7,423.0 217.9,423.5 219.1,423.2 220.2,423.3 221.4,423.4 222.6,422.4 223.8,423.1 224.9,422.7 226.1,423.0 227.3,423.1 228.5,423.5 229.6,423.1 230.8,423.6 232.0,423.0 233.1,423.1 234.3,423.2 235.5,423.4 236.7,423.1 237.8,423.0 239.0,423.0 240.2,422.7 241.4,423.5 242.5,423.4 243.7,423.3 244.9,423.2 246.0,423.0 247.2,423.0 248.4,423.4 249.6,422.9 250.7,422.9 251.9,423.7 253.1,423.7 254.3,423.3 255.4,423.4 256.6,423.3 257.8,423.6 258.9,423.1 260.1,423.2 261.3,423.4 262.5,423.7 263.6,423.1 264.8,423.3 266.0,423.1 267.2,423.0 268.3,423.0 269.5,423.3 270.7,423.5 271.9,423.0 273.0,423.1 274.2,423.1 275.4,423.4 276.5,423.5 277.7,422.9 278.9,423.4 280.1,423.0 281.2,423.5 282.4,423.0 283.6,423.0 284.8,423.1 285.9,423.3 287.1,423.0" fill="none" stroke="#B2676C" stroke-width="0.5" stroke-opacity="1.0" marker-start="url(#m2)" marker-mid="url(#m2)" marker-end="url(#m2)"/>
<circle cx="54.2" cy="491.2" r="2.1" fill="#fff" stroke="#9CD1C2" stroke-width="0.8"/>
<circle cx="53.8" cy="514.5" r="2.1" fill="#fff" stroke="#B2676C" stroke-width="0.8"/>
<circle cx="53.6" cy="529.6" r="2.1" fill="#fff" stroke="#4A88B5" stroke-width="0.8"/>
<circle cx="56.8" cy="471.3" r="2.1" fill="#fff" stroke="#9CD1C2" stroke-width="0.8"/>
<circle cx="56.9" cy="474.2" r="2.1" fill="#fff" stroke="#4A88B5" stroke-width="0.8"/>
<circle cx="56.6" cy="473" r="2.1" fill="#fff" stroke="#B2676C" stroke-width="0.8"/>
<circle cx="54.5" cy="421" r="2.1" fill="#fff" stroke="#4A88B5" stroke-width="0.8"/>
<circle cx="53.8" cy="432" r="2.1" fill="#fff" stroke="#9CD1C2" stroke-width="0.8"/>
<circle cx="244.7" cy="526" r="2.1" fill="#fff" stroke="#B2676C" stroke-width="0.8"/>
<polyline points="53.7,455.1 54.8,455.5 56.0,458.0 57.2,458.2 58.4,458.4 59.5,458.0 60.7,458.3 61.9,458.4 63.1,457.9 64.2,458.7 65.4,458.5 66.6,458.6 67.7,458.8 68.9,459.0 70.1,459.2 71.3,459.3 72.4,459.1 73.6,459.6 74.8,459.6 76.0,459.5 77.1,459.9 78.3,460.4 79.5,460.5 80.7,460.8 81.8,460.9 83.0,461.5 84.2,462.1 85.3,461.8 86.5,461.5 87.7,462.7 88.9,462.3 90.0,462.3 91.2,462.3 92.4,463.4 93.6,463.9 94.7,464.2 95.9,464.0 97.1,464.9 98.2,464.7 99.4,464.8 100.6,465.2 101.8,465.3 102.9,465.4 104.1,465.7 105.3,465.0 106.5,466.3 107.6,465.8 108.8,466.3 110.0,466.0 111.2,466.4 112.3,466.5 113.5,466.2 114.7,466.9 115.8,467.1 117.0,466.7 118.2,466.6 119.4,467.1 120.5,467.3 121.7,467.8 122.9,468.0 124.1,468.7 125.2,468.6 126.4,468.6 127.6,468.9 128.7,468.2 129.9,469.0 131.1,469.3 132.3,469.7 133.4,470.1 134.6,470.3 135.8,470.7 137.0,470.5 138.1,471.1 139.3,471.2 140.5,471.5 141.6,471.9 142.8,472.0 144.0,472.4 145.2,472.6 146.3,473.1 147.5,472.9 148.7,472.9 146.7,478.3" fill="none" stroke="none" marker-start="url(#m3)" marker-mid="url(#m3)" marker-end="url(#m3)"/>
<polyline points="53.7,461.6 54.8,463.2 56.0,463.9 57.2,464.8 58.4,464.2 59.5,464.5 60.7,464.4 61.9,464.3 63.1,464.3 64.2,464.2 65.4,464.3 66.6,463.8 67.7,464.0 68.9,463.8 70.1,464.2 71.3,463.9 72.4,463.5 73.6,463.8 74.8,463.5 76.0,464.0 77.1,463.7 78.3,463.2 79.5,463.6 80.7,463.9 81.8,463.7 83.0,463.5 84.2,463.8 85.3,463.7 86.5,463.9 87.7,463.8 88.9,463.6 90.0,463.3 91.2,463.5 92.4,463.5 93.6,463.4 94.7,463.5 95.9,463.1 97.1,463.5 98.2,463.3 99.4,463.4 100.6,463.3 101.8,463.3 102.9,463.4 104.1,463.6 105.3,463.3 106.5,463.5 107.6,463.2 108.8,463.5 110.0,463.5 111.2,463.1 112.3,463.8 113.5,463.3 114.7,463.5 115.8,463.2 117.0,463.1 118.2,463.7 119.4,463.2 120.5,463.1 121.7,463.6 122.9,463.2 124.1,463.6 125.2,464.1 126.4,463.6 127.6,463.8 128.7,463.9 129.9,463.8 131.1,463.7 132.3,464.1 133.4,463.8 134.6,463.9 135.8,463.8 137.0,463.5 138.1,463.9 139.3,463.9 140.5,464.0 141.6,464.1 142.8,464.3 144.0,463.5 145.2,463.8 146.3,463.8 147.5,463.8 148.7,464.1 149.9,464.0 151.0,464.1 152.2,463.6 153.4,463.8 154.6,464.1 155.7,464.0 156.9,464.0 158.1,464.1 159.2,464.1 160.4,463.9 161.6,464.6 162.8,464.0 163.9,464.4 165.1,464.4 166.3,464.5 167.5,464.1 168.6,464.0 169.8,464.4 171.0,464.5 172.1,464.0 173.3,464.0 174.5,464.7 175.7,464.8 176.8,465.0 178.0,465.3 179.2,465.1 180.4,466.2 181.5,466.0 182.7,466.3 183.9,466.2 185.0,465.9 186.2,466.7 187.4,466.8 188.6,467.5 189.7,467.7 190.9,468.3 192.1,468.3 193.3,468.8 194.4,469.3 195.6,470.0 196.8,470.9 198.0,472.0 199.1,473.2 200.3,473.5 201.5,474.6 202.6,475.0 203.8,476.2 205.0,477.4 206.2,478.5 207.3,479.2 208.5,480.6 209.7,481.5 210.9,482.9 212.0,483.8 213.2,484.7 214.4,485.8 215.5,487.2 216.7,488.2 217.9,489.4 219.1,490.4 220.2,491.8 221.4,493.1 222.6,494.6 223.8,495.9 224.9,497.0 226.1,498.7 227.3,500.2 228.5,501.8 229.6,502.9 230.8,504.4 232.0,505.7 233.1,507.4 234.3,508.2 235.5,510.1 236.7,510.9 237.8,513.4 239.0,514.6 240.2,515.3" fill="none" stroke="none" marker-start="url(#m7)" marker-mid="url(#m7)" marker-end="url(#m7)"/>
<polyline points="53.7,454.8 54.8,453.1 56.0,457.0 57.2,459.7 58.4,459.7 59.5,460.4 60.7,460.0 61.9,460.0 63.1,460.3 64.2,460.4 65.4,460.5 66.6,460.4 67.7,459.8 68.9,460.0 70.1,460.2 71.3,460.0 72.4,460.5 73.6,460.1 74.8,460.2 76.0,460.1 77.1,460.2 78.3,459.8 79.5,460.8 80.7,460.0 81.8,459.9 83.0,459.6 84.2,460.1 85.3,459.7 86.5,460.2 87.7,460.4 88.9,460.2 90.0,459.9 91.2,460.3 92.4,459.9 93.6,459.9 94.7,459.9 95.9,459.7 97.1,460.0 98.2,459.5 99.4,459.3 100.6,460.2 101.8,459.6 102.9,459.7 104.1,459.9 105.3,459.7 106.5,459.5 107.6,459.8 108.8,459.5 110.0,460.0 111.2,459.7 112.3,459.8 113.5,460.1 114.7,459.4 115.8,459.4 117.0,460.1 118.2,460.2 119.4,459.9 120.5,459.6 121.7,460.2 122.9,460.0 124.1,460.2 125.2,459.3 126.4,459.8 127.6,459.6 128.7,459.6 129.9,460.1 131.1,460.1 132.3,459.7 133.4,459.8 134.6,460.3 135.8,460.1 137.0,459.9 138.1,460.1 139.3,459.9 140.5,459.5 141.6,459.8 142.8,460.0 144.0,460.1 145.2,459.6 146.3,459.7 147.5,459.8 148.7,459.5 149.9,460.3 151.0,460.1 152.2,460.3 153.4,459.3 154.6,459.7 155.7,460.5 156.9,459.5 158.1,459.4 159.2,460.0 160.4,460.4 161.6,460.2 162.8,459.7 163.9,460.1 165.1,460.1 166.3,460.1 167.5,460.1 168.6,460.2 169.8,460.3 171.0,460.5 172.1,460.4 173.3,460.1 174.5,459.7 175.7,460.5 176.8,459.9 178.0,461.1 179.2,460.1 180.4,460.0 181.5,460.0 182.7,460.8 183.9,460.8 185.0,461.0 186.2,460.9 187.4,460.6 188.6,461.2 189.7,460.8 190.9,460.6 192.1,461.3 193.3,461.3 194.4,460.9 195.6,461.1 196.8,461.5 198.0,461.6 199.1,461.0 200.3,461.7 201.5,460.6 202.6,461.5 203.8,461.6 205.0,461.5 206.2,461.6 207.3,461.1 208.5,461.6 209.7,461.8 210.9,461.5 212.0,461.8 213.2,461.8 214.4,461.2 215.5,461.7 216.7,462.1 217.9,461.5 219.1,462.0 220.2,462.2 221.4,461.7 222.6,462.1 223.8,462.5 224.9,462.4 226.1,462.0 227.3,462.6 228.5,462.5 229.6,462.4 230.8,462.9 232.0,462.7 233.1,462.6 234.3,462.9 235.5,462.8 236.7,463.0 237.8,462.7 239.0,462.2 240.2,463.2 241.4,463.1 242.5,463.0" fill="none" stroke="none" marker-start="url(#m8)" marker-mid="url(#m8)" marker-end="url(#m8)"/>
<polyline points="244.9,463.0 246.0,463.0 247.2,463.2 248.4,463.0 249.6,463.5 250.7,463.4 251.9,463.2 253.1,463.6 254.3,463.6 255.4,463.7 256.6,464.0 257.8,464.7 258.9,463.7 260.1,464.2 261.3,464.4 262.5,464.4 263.6,464.8 264.8,464.3 266.0,464.4 267.2,464.6 268.3,464.3 269.5,465.1 270.7,464.5 271.9,465.1 273.0,465.3 274.2,464.8 275.4,465.1 276.5,465.2 277.7,465.8 278.9,465.5 280.1,465.0 281.2,465.9 282.4,466.0 283.6,465.2 284.8,465.0 285.9,466.7 287.1,466.0" fill="none" stroke="none" marker-start="url(#m8)" marker-mid="url(#m8)" marker-end="url(#m8)"/>
<circle cx="244.7" cy="478.5" r="2.5" fill="#B2676C"/>
</g>
<path d="M52.50,415.50H287.10V567.60H52.50Z" fill="none" stroke="#000" stroke-width="1.2"/>
<path d="M52.50,567.60v4.4M111.15,567.60v4.4M169.80,567.60v4.4M228.45,567.60v4.4M287.10,567.60v4.4M81.83,567.60v2.5M140.48,567.60v2.5M199.12,567.60v2.5M257.78,567.60v2.5" stroke="#000" stroke-width="1.1" fill="none"/>
<text x="52.50" y="584.50" text-anchor="middle" font-size="12.0" fill="#000">0</text>
<text x="111.15" y="584.50" text-anchor="middle" font-size="12.0" fill="#000">50</text>
<text x="169.80" y="584.50" text-anchor="middle" font-size="12.0" fill="#000">100</text>
<text x="228.45" y="584.50" text-anchor="middle" font-size="12.0" fill="#000">150</text>
<text x="287.10" y="584.50" text-anchor="middle" font-size="12.0" fill="#000">200</text>
<path d="M52.50,567.60h-4.4M52.50,537.18h-4.4M52.50,506.76h-4.4M52.50,476.34h-4.4M52.50,445.92h-4.4M52.50,415.50h-4.4M52.50,552.39h-2.5M52.50,521.97h-2.5M52.50,491.55h-2.5M52.50,461.13h-2.5M52.50,430.71h-2.5" stroke="#000" stroke-width="1.1" fill="none"/>
<text x="44.90" y="571.10" text-anchor="end" font-size="12.0" fill="#000">0</text>
<text x="44.90" y="540.68" text-anchor="end" font-size="12.0" fill="#000">60</text>
<text x="44.90" y="510.26" text-anchor="end" font-size="12.0" fill="#000">120</text>
<text x="44.90" y="479.84" text-anchor="end" font-size="12.0" fill="#000">180</text>
<text x="44.90" y="449.42" text-anchor="end" font-size="12.0" fill="#000">240</text>
<text x="44.90" y="419.00" text-anchor="end" font-size="12.0" fill="#000">300</text>
<path d="M287.10,567.60h4.4M287.10,531.39h4.4M287.10,495.17h4.4M287.10,458.96h4.4M287.10,422.74h4.4M287.10,549.49h2.5M287.10,513.28h2.5M287.10,477.06h2.5M287.10,440.85h2.5" stroke="#000" stroke-width="1.1" fill="none"/>
<text x="294.60" y="571.10" text-anchor="start" font-size="12.0" fill="#000">80</text>
<text x="294.60" y="534.89" text-anchor="start" font-size="12.0" fill="#000">85</text>
<text x="294.60" y="498.67" text-anchor="start" font-size="12.0" fill="#000">90</text>
<text x="294.60" y="462.46" text-anchor="start" font-size="12.0" fill="#000">95</text>
<text x="294.60" y="426.24" text-anchor="start" font-size="12.0" fill="#000">100</text>
<text x="169.80" y="599.20" text-anchor="middle" font-size="12.0" fill="#000">Cycle number</text>
<text transform="translate(17.20,563.10) rotate(-90)" text-anchor="start" font-size="12.0">Specific capacity (mAh g<tspan dy="-4.7" font-size="8.1">−1</tspan><tspan dy="4.7">)</tspan></text>
<text transform="translate(327.90,557.60) rotate(-90)" text-anchor="start" font-size="12.0">Coulombic efficiency (%)</text>
<text x="-0.30" y="413.40" text-anchor="start" font-size="12" fill="#000" font-weight="bold">e</text>
<text x="209.60" y="454.00" text-anchor="middle" font-size="11.4" fill="#B2676C">TFPM</text>
<text x="114.60" y="483.90" text-anchor="middle" font-size="11.4" fill="#9CD1C2">PM</text>
<text x="183.00" y="489.50" text-anchor="middle" font-size="11.4" fill="#4A88B5">TFBM</text>
<path d="M259.9,487.4L251.0,482.9" stroke="#000" stroke-width="1.3" fill="none"/>
<path d="M247.2,481.2L252.8,480.6L250.6,485.2Z" fill="#000"/>
<text x="260.80" y="493.70" text-anchor="middle" font-size="8.3" fill="#000">Unexpected</text>
<text x="262.50" y="502.60" text-anchor="middle" font-size="8.3" fill="#000">power cut</text>
<text x="63.40" y="544.60" text-anchor="start" font-size="11.5" fill="#000">50 µm Li||4.0 mAh cm<tspan dy="-3.0" font-size="8.2">−2</tspan><tspan dy="3.0"> NMC811</tspan></text>
<text x="63.40" y="557.70" text-anchor="start" font-size="11.7" fill="#000">4.4 V, 0.2 C / 0.5 C, N/P=2.6, 30 °C</text>
<g>
<path d="M410.2,418V475 M411.4,418V485" stroke="#A89CB0" stroke-opacity="0.6" stroke-width="1.1" fill="none"/>
<polyline points="412.2,425.3 413.3,419.3 414.5,422.0 415.7,424.2 416.9,427.8 418.0,424.0 419.2,419.7 420.4,424.8 421.6,420.9 422.7,427.2 423.9,423.3 425.1,428.6 426.2,423.7 427.4,421.3 428.6,420.2 429.8,423.1 430.9,425.2 432.1,427.1 433.3,424.7 434.5,422.1 435.6,425.3 436.8,420.3 438.0,425.3 439.1,422.0 440.3,427.9 441.5,426.6 442.7,425.0 443.8,421.3 445.0,425.4 446.2,425.0 447.4,422.6 448.5,422.4 449.7,427.3 450.9,423.0 452.0,425.2 453.2,427.6 454.4,420.1 455.6,428.6 456.7,426.6 457.9,422.3 459.1,421.5 460.3,420.8 461.4,426.4 462.6,417.3 463.8,426.4 464.9,424.4 466.1,422.2 467.3,422.7 468.5,423.0 469.6,423.4 470.8,426.3 472.0,421.8 473.2,426.8 474.3,426.6 475.5,423.3 476.7,425.6 477.8,422.6 479.0,424.1 480.2,425.3 481.4,429.0 482.5,423.9 483.7,423.6 484.9,424.1 486.1,423.5 487.2,421.2 488.4,428.9 489.6,422.4 490.7,422.5 491.9,422.1 493.1,425.8 494.3,431.7 495.4,431.9 496.6,426.6 497.8,424.9 499.0,423.9 500.1,421.4 501.3,425.9 502.5,423.8 503.6,429.4 504.8,423.3 506.0,421.4 507.2,419.2 508.3,419.4 509.5,425.6 510.7,424.9 511.9,421.0 513.0,420.0 514.2,424.7 515.4,423.1 516.5,424.6 517.7,424.0 518.9,422.0 520.1,419.5 521.2,424.4 522.4,424.3 523.6,424.5 524.8,426.5 525.9,426.4 527.1,422.7 528.3,425.5 529.4,418.3 530.6,425.8 531.8,423.9 533.0,426.7 534.1,426.6 535.3,421.5 536.5,423.7 537.7,426.9 538.8,422.6 540.0,424.2 541.2,422.4 542.3,425.5 543.5,424.8 544.7,421.8 545.9,420.3 547.0,418.2 548.2,426.2 549.4,422.8 550.6,422.2 551.7,422.6 552.9,421.6 554.1,425.8 555.2,425.6 556.4,418.1 557.6,423.9 558.8,424.3 559.9,423.2 561.1,424.3 562.3,428.4 563.5,424.8 564.6,427.2 565.8,426.7 567.0,420.0 568.1,428.7 569.3,424.6 570.5,423.3 571.7,426.2 572.8,429.9 574.0,421.9 575.2,422.2 576.4,425.0 577.5,419.3 578.7,421.1 579.9,424.2 581.0,426.0 582.2,425.5 583.4,426.2 584.6,426.9 585.7,422.9 586.9,423.1 588.1,423.2 589.3,423.2 590.4,427.0 591.6,426.3" fill="none" stroke="#9CD1C2" stroke-width="0.5" stroke-opacity="0.6" marker-start="url(#m0)" marker-mid="url(#m0)" marker-end="url(#m0)"/>
<polyline points="412.2,421.0 413.3,440.7 414.5,422.2 415.7,422.1 416.9,425.1 418.0,425.1 419.2,424.9 420.4,424.3 421.6,425.7 422.7,422.1 423.9,424.5 425.1,422.7 426.2,422.8 427.4,421.5 428.6,426.0 429.8,422.6 430.9,422.6 432.1,423.8 433.3,424.5 434.5,420.3 435.6,425.6 436.8,424.7 438.0,417.6 439.1,424.6 440.3,418.7 441.5,422.4 442.7,427.1 443.8,424.7 445.0,423.2 446.2,422.5 447.4,424.6 448.5,424.5 449.7,423.9 450.9,418.1 452.0,424.1 453.2,424.3 454.4,422.8 455.6,424.1 456.7,424.6 457.9,422.8 459.1,423.6 460.3,425.1 461.4,423.9 462.6,424.5 463.8,420.2 464.9,426.0 466.1,423.1 467.3,421.8 468.5,421.9 469.6,420.7 470.8,416.4 472.0,423.8 473.2,423.4 474.3,417.3 475.5,423.7 476.7,422.7 477.8,423.1 479.0,424.8 480.2,424.4 481.4,425.0 482.5,435.2 483.7,423.5 484.9,423.5 486.1,421.7 487.2,423.2 488.4,424.8 489.6,423.9 490.7,421.4 491.9,423.4 493.1,425.6 494.3,423.0 495.4,421.7 496.6,423.2 497.8,423.3 499.0,423.8 500.1,423.4 501.3,421.4 502.5,424.4 503.6,416.8 504.8,423.5 506.0,422.7 507.2,423.0 508.3,424.9 509.5,426.5 510.7,421.9 511.9,422.8 513.0,425.1 514.2,425.4 515.4,424.1 516.5,422.0 517.7,422.9 518.9,423.4 520.1,424.5 521.2,434.9 522.4,424.0 523.6,422.2 524.8,425.0 525.9,425.7 527.1,423.0 528.3,424.3 529.4,419.7 530.6,422.6 531.8,422.0 533.0,422.1 534.1,423.0 535.3,423.9 536.5,420.5 537.7,423.1 538.8,422.4 540.0,423.6 541.2,421.5 542.3,440.2 543.5,423.6 544.7,423.1 545.9,422.0 547.0,422.3 548.2,424.9 549.4,424.7 550.6,425.3 551.7,423.3 552.9,424.6 554.1,425.1 555.2,424.2 556.4,425.0 557.6,434.9 558.8,423.7 559.9,421.4 561.1,424.1 562.3,425.2 563.5,420.0 564.6,425.3 565.8,433.0 567.0,424.1 568.1,424.1 569.3,432.3 570.5,416.4 571.7,433.2 572.8,422.9 574.0,430.3 575.2,417.9 576.4,427.3 577.5,417.1 578.7,423.7 579.9,425.5 581.0,423.8 582.2,424.1 583.4,458.8 584.6,436.5 585.7,445.4 586.9,425.2 588.1,427.7 589.3,423.3 590.4,425.3 591.6,424.4 592.8,422.5 593.9,424.0 595.1,437.5 596.3,423.2 597.5,445.5 598.6,452.3 599.8,424.0 601.0,422.3 602.2,424.5 603.3,421.6 604.5,443.7 605.7,435.9 606.8,421.6 608.0,428.9 609.2,423.3 610.4,427.3 611.5,432.1 612.7,423.1 613.9,428.2 615.1,432.9 616.2,415.5 617.4,427.1 618.6,418.4 619.7,422.6 620.9,438.6 622.1,429.9 623.3,429.5 624.4,431.8 625.6,420.6 626.8,433.8 628.0,422.1 629.1,431.4 630.3,429.7 631.5,442.6 632.6,415.9 633.8,417.2 635.0,431.0 636.2,425.6 637.3,434.1 638.5,423.0 639.7,456.9 640.9,451.1 642.0,422.7 643.2,429.5" fill="none" stroke="#4A88B5" stroke-width="0.5" stroke-opacity="0.7" marker-start="url(#m1)" marker-mid="url(#m1)" marker-end="url(#m1)"/>
<polyline points="413.3,422.9 414.5,423.1 415.7,423.3 416.9,423.7 418.0,423.2 419.2,423.8 420.4,423.0 421.6,423.2 422.7,423.2 423.9,423.9 425.1,422.9 426.2,423.4 427.4,423.4 428.6,423.1 429.8,422.8 430.9,423.7 432.1,424.3 433.3,423.7 434.5,423.6 435.6,423.0 436.8,423.3 438.0,423.1 439.1,423.0 440.3,423.4 441.5,422.7 442.7,423.6 443.8,423.3 445.0,423.0 446.2,423.2 447.4,423.2 448.5,423.2 449.7,423.6 450.9,423.6 452.0,423.4 453.2,423.5 454.4,422.9 455.6,423.5 456.7,423.0 457.9,422.9 459.1,422.9 460.3,423.3 461.4,423.8 462.6,422.8 463.8,424.0 464.9,422.8 466.1,423.2 467.3,423.1 468.5,423.2 469.6,423.0 470.8,423.2 472.0,423.6 473.2,423.7 474.3,423.4 475.5,423.4 476.7,423.5 477.8,422.8 479.0,423.5 480.2,423.1 481.4,423.1 482.5,423.2 483.7,422.9 484.9,423.1 486.1,423.6 487.2,423.3 488.4,423.5 489.6,423.8 490.7,423.2 491.9,423.0 493.1,422.9 494.3,422.8 495.4,423.3 496.6,423.4 497.8,423.3 499.0,422.9 500.1,423.2 501.3,423.5 502.5,423.3 503.6,423.0 504.8,424.5 506.0,421.4 507.2,424.9 508.3,429.1 509.5,422.7 510.7,426.3 511.9,426.7 513.0,417.0 514.2,417.8 515.4,423.1 516.5,424.0 517.7,424.0 518.9,422.0 520.1,425.0 521.2,424.0 522.4,423.0 523.6,422.7 524.8,423.0 525.9,423.8 527.1,423.5 528.3,423.6 529.4,422.9 530.6,422.8 531.8,424.8 533.0,424.7 534.1,421.9 535.3,426.9 536.5,423.5 537.7,422.7 538.8,424.9 540.0,422.8 541.2,422.3 542.3,423.1 543.5,423.7 544.7,423.0 545.9,423.6 547.0,423.1 548.2,423.1 549.4,423.4 550.6,423.2 551.7,423.6 552.9,423.2 554.1,423.1 555.2,423.3 556.4,423.0 557.6,423.3 558.8,422.9 559.9,423.0 561.1,423.4 562.3,423.4 563.5,423.5 564.6,423.2 565.8,423.1 567.0,422.8 568.1,423.3 569.3,423.3 570.5,422.9 571.7,422.8 572.8,423.3 574.0,423.3 575.2,423.7 576.4,422.9 577.5,423.1 578.7,422.7 579.9,423.1 581.0,423.1 582.2,423.3 583.4,423.4 584.6,423.0 585.7,422.9 586.9,423.6 588.1,423.3 589.3,423.5 590.4,423.6 591.6,423.5 592.8,423.2 593.9,423.7 595.1,423.0 596.3,423.3 597.5,423.1 598.6,423.4 599.8,423.0 601.0,423.3 602.2,423.2 603.3,423.2 604.5,423.7 605.7,423.2 606.8,423.7 608.0,423.5 609.2,423.5 610.4,423.1 611.5,423.1 612.7,423.6 613.9,423.3 615.1,423.2 616.2,423.6 617.4,423.1 618.6,423.1 619.7,423.5 620.9,423.3 622.1,422.7 623.3,422.9 624.4,423.3 625.6,423.6 626.8,422.6 628.0,423.3 629.1,423.7 630.3,422.7 631.5,423.3 632.6,423.2 633.8,423.5 635.0,423.2 636.2,423.7 637.3,423.3 638.5,423.4 639.7,423.3 640.9,423.7 642.0,424.2 643.2,423.2" fill="none" stroke="#B2676C" stroke-width="0.5" stroke-opacity="1.0" marker-start="url(#m2)" marker-mid="url(#m2)" marker-end="url(#m2)"/>
<path d="M413.1,424L413.1,480" stroke="#4A88B5" stroke-width="0.6" stroke-opacity="0.7"/>
<polyline points="408.6,455.9 409.8,455.8 411.0,456.4 412.2,469.7 413.3,472.2 414.5,471.6 415.7,471.6 416.9,471.9 418.0,473.0 419.2,472.5 420.4,472.5 421.6,471.9 422.7,472.6 423.9,472.6 425.1,470.9 426.2,472.6 427.4,470.7 428.6,470.8 429.8,470.7 430.9,470.5 432.1,469.1 433.3,469.9 434.5,469.9 435.6,470.9 436.8,471.8 438.0,472.1 439.1,470.7 440.3,472.2 441.5,471.9 442.7,473.8 443.8,472.6 445.0,474.1 446.2,473.0 447.4,473.1 448.5,473.2 449.7,473.1 450.9,473.5 452.0,474.1 453.2,473.4 454.4,473.3 455.6,473.6 456.7,473.5 457.9,473.3 459.1,473.4 460.3,474.1 461.4,473.5 462.6,474.5 463.8,474.2 464.9,474.7 466.1,473.6 467.3,474.2 468.5,473.6 469.6,475.1 470.8,474.3 472.0,474.8 473.2,474.4 474.3,474.7 475.5,475.2 476.7,474.6 477.8,474.8 479.0,474.3 480.2,474.0 481.4,475.1 482.5,475.2 483.7,475.0 484.9,475.0 486.1,474.8 487.2,475.2 488.4,475.9 489.6,475.4 490.7,475.8 491.9,476.8 493.1,476.1 494.3,475.9 495.4,475.6 496.6,476.4 497.8,476.5 499.0,475.2 500.1,476.1 501.3,476.2 502.5,476.7 503.6,476.7 504.8,476.5 506.0,476.8 507.2,477.2 508.3,477.8 509.5,476.3 510.7,476.7 511.9,477.7 513.0,477.3 514.2,477.0 515.4,477.7 516.5,477.3 517.7,477.8 518.9,477.6 520.1,478.2 521.2,478.3 522.4,478.7 523.6,479.3 524.8,478.4 525.9,479.2 527.1,479.5 528.3,478.8 529.4,478.8 530.6,478.2 531.8,479.1 533.0,479.1 534.1,479.2 535.3,479.1 536.5,479.5 537.7,479.5 538.8,479.4 540.0,480.3 541.2,479.1 542.3,480.1 543.5,480.9 544.7,480.5 545.9,481.4 547.0,480.5 548.2,480.5 549.4,480.5 550.6,480.9 551.7,480.9 552.9,481.1 554.1,481.1 555.2,481.2 556.4,481.7 557.6,481.0 558.8,481.4 559.9,482.1 561.1,481.8 562.3,481.4 563.5,482.5 564.6,482.3 565.8,482.7 567.0,483.9 568.1,483.7 569.3,484.9 570.5,484.4 571.7,485.6 572.8,485.6 574.0,485.7 575.2,485.7 576.4,486.4 577.5,486.3 578.7,487.3 579.9,486.8 581.0,487.8 582.2,488.6 583.4,487.9 584.6,486.5 585.7,485.6 586.9,484.6 588.1,485.3 589.3,484.9 590.4,486.4 591.6,487.2" fill="none" stroke="none" marker-start="url(#m9)" marker-mid="url(#m9)" marker-end="url(#m9)"/>
<polyline points="408.6,459.8 409.8,461.0 411.0,461.8 412.2,479.0 413.3,484.8 414.5,484.2 415.7,483.0 416.9,482.5 418.0,481.7 419.2,481.7 420.4,481.0 421.6,481.6 422.7,481.3 423.9,481.0 425.1,481.7 426.2,480.7 427.4,480.9 428.6,480.8 429.8,479.7 430.9,479.6 432.1,479.9 433.3,480.0 434.5,481.0 435.6,479.8 436.8,480.8 438.0,481.3 439.1,480.9 440.3,481.6 441.5,480.7 442.7,481.5 443.8,481.6 445.0,483.1 446.2,482.4 447.4,483.0 448.5,482.8 449.7,482.5 450.9,483.7 452.0,483.3 453.2,483.7 454.4,484.9 455.6,484.5 456.7,484.9 457.9,484.6 459.1,486.3 460.3,486.5 461.4,486.1 462.6,486.1 463.8,486.1 464.9,486.7 466.1,487.1 467.3,486.2 468.5,488.0 469.6,488.4 470.8,488.1 472.0,488.4 473.2,489.2 474.3,489.1 475.5,490.0 476.7,490.2 477.8,491.2 479.0,490.8 480.2,490.9 481.4,490.6 482.5,491.0 483.7,491.7 484.9,491.8 486.1,491.1 487.2,492.5 488.4,492.9 489.6,492.7 490.7,494.5 491.9,493.2 493.1,494.0 494.3,494.4 495.4,494.1 496.6,494.3 497.8,493.5 499.0,495.3 500.1,494.9 501.3,494.9 502.5,495.5 503.6,495.3 504.8,495.9 506.0,495.5 507.2,496.0 508.3,496.1 509.5,496.3 510.7,496.5 511.9,497.5 513.0,497.1 514.2,497.8 515.4,497.4 516.5,498.5 517.7,498.5 518.9,498.7 520.1,498.4 521.2,498.4 522.4,499.4 523.6,499.3 524.8,499.8 525.9,499.6 527.1,500.0 528.3,499.8 529.4,500.5 530.6,500.3 531.8,501.2 533.0,500.9 534.1,501.6 535.3,502.5 536.5,502.3 537.7,502.8 538.8,503.1 540.0,503.8 541.2,504.5 542.3,504.4 543.5,505.2 544.7,504.9 545.9,505.1 547.0,506.2 548.2,506.8 549.4,507.0 550.6,507.0 551.7,507.3 552.9,507.4 554.1,507.9 555.2,507.6 556.4,509.7 557.6,509.2 558.8,509.5 559.9,510.8 561.1,510.8 562.3,511.1 563.5,510.4 564.6,510.3 565.8,510.9 567.0,512.4 568.1,512.0 569.3,512.5 570.5,513.0 571.7,513.0 572.8,513.0 574.0,513.2 575.2,513.7 576.4,513.8 577.5,515.2 578.7,514.7 579.9,515.7 581.0,515.7 582.2,516.5 583.4,516.0 584.6,516.2 585.7,517.3 586.9,517.6 588.1,517.3 589.3,518.8 590.4,519.0 591.6,519.3 592.8,519.9 593.9,520.0 595.1,520.3 596.3,521.1 597.5,522.4 598.6,523.0 599.8,523.1 601.0,524.0 602.2,524.9 603.3,525.0 604.5,525.6 605.7,526.2 606.8,526.7 608.0,528.3 609.2,528.5 610.4,529.6 611.5,529.8 612.7,530.4 613.9,531.3 615.1,531.2 616.2,532.6 617.4,533.2 618.6,533.0 619.7,532.6 620.9,533.6 622.1,533.1 623.3,533.6 624.4,534.1 625.6,534.3 626.8,534.3 628.0,536.1 629.1,534.9 630.3,535.1 631.5,535.1 632.6,535.4 633.8,535.9 635.0,536.6 636.2,537.1 637.3,535.7 638.5,535.6 639.7,536.4 640.9,537.0 642.0,536.7 643.2,536.7" fill="none" stroke="none" marker-start="url(#m10)" marker-mid="url(#m10)" marker-end="url(#m10)"/>
<polyline points="408.6,450.0 409.8,450.6 411.0,450.7 412.2,459.4 413.3,461.0 414.5,461.3 415.7,461.0 416.9,461.5 418.0,461.6 419.2,461.3 420.4,462.2 421.6,462.0 422.7,461.4 423.9,461.2 425.1,461.3 426.2,461.5 427.4,461.0 428.6,461.6 429.8,461.7 430.9,460.9 432.1,461.4 433.3,461.2 434.5,461.5 435.6,461.4 436.8,461.2 438.0,461.7 439.1,461.5 440.3,461.2 441.5,461.0 442.7,462.0 443.8,461.1 445.0,460.6 446.2,461.0 447.4,461.5 448.5,461.2 449.7,461.3 450.9,462.1 452.0,460.9 453.2,462.0 454.4,461.3 455.6,460.8 456.7,461.0 457.9,460.8 459.1,461.6 460.3,460.9 461.4,461.4 462.6,461.4 463.8,461.7 464.9,461.7 466.1,461.3 467.3,461.3 468.5,461.2 469.6,461.6 470.8,461.6 472.0,460.8 473.2,461.6 474.3,461.3 475.5,461.1 476.7,461.1 477.8,461.9 479.0,461.1 480.2,461.6 481.4,461.4 482.5,462.2 483.7,460.9 484.9,461.4 486.1,461.5 487.2,461.2 488.4,460.9 489.6,461.4 490.7,461.8 491.9,461.2 493.1,461.2 494.3,460.8 495.4,461.4 496.6,461.2 497.8,461.5 499.0,461.4 500.1,461.2 501.3,461.6 502.5,461.4 503.6,461.4 504.8,461.3 506.0,460.9 507.2,461.5 508.3,461.4 509.5,461.1 510.7,461.4 511.9,461.7 513.0,461.1 514.2,461.3 515.4,461.7 516.5,461.5 517.7,461.1 518.9,461.0 520.1,461.3 521.2,461.4 522.4,460.7 523.6,461.7 524.8,461.1 525.9,460.6 527.1,461.2 528.3,460.8 529.4,461.4 530.6,459.4 531.8,460.3 533.0,459.8 534.1,459.1 535.3,460.0 536.5,459.7 537.7,460.0 538.8,459.7 540.0,459.8 541.2,460.3 542.3,459.7 543.5,459.9 544.7,460.4 545.9,460.1 547.0,460.0 548.2,460.1 549.4,461.1 550.6,460.3 551.7,460.4 552.9,460.7 554.1,460.3 555.2,460.7 556.4,461.0 557.6,460.9 558.8,460.6 559.9,460.8 561.1,460.8 562.3,460.7 563.5,461.4 564.6,461.2 565.8,461.3 567.0,460.8 568.1,461.6 569.3,461.8 570.5,461.6 571.7,461.3 572.8,462.1 574.0,461.8 575.2,461.8 576.4,462.4 577.5,462.0 578.7,461.5 579.9,461.4 581.0,461.4 582.2,461.3 583.4,462.1 584.6,462.2 585.7,462.1 586.9,462.1 588.1,462.4 589.3,462.5 590.4,462.1 591.6,461.9 592.8,462.7 593.9,462.9 595.1,463.2 596.3,462.5 597.5,463.0 598.6,462.8 599.8,462.9 601.0,462.9 602.2,462.7 603.3,463.3 604.5,463.2 605.7,463.5 606.8,463.9 608.0,463.4 609.2,463.6 610.4,463.6 611.5,463.5 612.7,463.8 613.9,463.0 615.1,464.0 616.2,463.3 617.4,462.9 618.6,463.5 619.7,463.6 620.9,463.8 622.1,463.5 623.3,463.9 624.4,463.3 625.6,463.9 626.8,464.7 628.0,463.7 629.1,463.5 630.3,463.9 631.5,464.2 632.6,464.1 633.8,464.1 635.0,464.1 636.2,464.3 637.3,464.4 638.5,464.0 639.7,464.6 640.9,464.2 642.0,464.3 643.2,464.4" fill="none" stroke="none" marker-start="url(#m8)" marker-mid="url(#m8)" marker-end="url(#m8)"/>
<circle cx="413.1" cy="451.0" r="2.1" fill="#fff" stroke="#B2676C" stroke-width="0.8"/>
<circle cx="413.1" cy="466.0" r="2.1" fill="#fff" stroke="#9CD1C2" stroke-width="0.8"/>
<circle cx="413.1" cy="480.2" r="2.1" fill="#fff" stroke="#4A88B5" stroke-width="0.8"/>
<circle cx="414" cy="440.7" r="2.1" fill="#fff" stroke="#4A88B5" stroke-width="0.8"/>
</g>
<path d="M408.65,415.50H643.20V567.60H408.65Z" fill="none" stroke="#000" stroke-width="1.2"/>
<path d="M408.65,567.60v4.4M467.29,567.60v4.4M525.92,567.60v4.4M584.56,567.60v4.4M643.20,567.60v4.4M437.97,567.60v2.5M496.61,567.60v2.5M555.24,567.60v2.5M613.88,567.60v2.5" stroke="#000" stroke-width="1.1" fill="none"/>
<text x="408.65" y="584.50" text-anchor="middle" font-size="12.0" fill="#000">0</text>
<text x="467.29" y="584.50" text-anchor="middle" font-size="12.0" fill="#000">50</text>
<text x="525.92" y="584.50" text-anchor="middle" font-size="12.0" fill="#000">100</text>
<text x="584.56" y="584.50" text-anchor="middle" font-size="12.0" fill="#000">150</text>
<text x="643.20" y="584.50" text-anchor="middle" font-size="12.0" fill="#000">200</text>
<path d="M408.65,567.60h-4.4M408.65,529.58h-4.4M408.65,491.55h-4.4M408.65,453.52h-4.4M408.65,415.50h-4.4M408.65,548.59h-2.5M408.65,510.56h-2.5M408.65,472.54h-2.5M408.65,434.51h-2.5" stroke="#000" stroke-width="1.1" fill="none"/>
<text x="401.05" y="571.10" text-anchor="end" font-size="12.0" fill="#000">0</text>
<text x="401.05" y="533.08" text-anchor="end" font-size="12.0" fill="#000">50</text>
<text x="401.05" y="495.05" text-anchor="end" font-size="12.0" fill="#000">100</text>
<text x="401.05" y="457.02" text-anchor="end" font-size="12.0" fill="#000">150</text>
<text x="401.05" y="419.00" text-anchor="end" font-size="12.0" fill="#000">200</text>
<path d="M643.20,567.60h4.4M643.20,531.39h4.4M643.20,495.17h4.4M643.20,458.96h4.4M643.20,422.74h4.4M643.20,549.49h2.5M643.20,513.28h2.5M643.20,477.06h2.5M643.20,440.85h2.5" stroke="#000" stroke-width="1.1" fill="none"/>
<text x="650.70" y="571.10" text-anchor="start" font-size="12.0" fill="#000">80</text>
<text x="650.70" y="534.89" text-anchor="start" font-size="12.0" fill="#000">85</text>
<text x="650.70" y="498.67" text-anchor="start" font-size="12.0" fill="#000">90</text>
<text x="650.70" y="462.46" text-anchor="start" font-size="12.0" fill="#000">95</text>
<text x="650.70" y="426.24" text-anchor="start" font-size="12.0" fill="#000">100</text>
<text x="525.92" y="599.20" text-anchor="middle" font-size="12.0" fill="#000">Cycle number</text>
<text transform="translate(373.35,563.10) rotate(-90)" text-anchor="start" font-size="12.0">Specific capacity (mAh g<tspan dy="-4.7" font-size="8.1">−1</tspan><tspan dy="4.7">)</tspan></text>
<text transform="translate(684.00,557.60) rotate(-90)" text-anchor="start" font-size="12.0">Coulombic efficiency (%)</text>
<text x="355.70" y="413.10" text-anchor="start" font-size="12" fill="#000" font-weight="bold">f</text>
<text x="472.50" y="453.00" text-anchor="middle" font-size="11.4" fill="#B2676C">TFPM</text>
<text x="481.40" y="510.30" text-anchor="middle" font-size="11.4" fill="#4A88B5">TFBM</text>
<text x="602.90" y="502.70" text-anchor="middle" font-size="11.4" fill="#9CD1C2">PM</text>
<text x="419.70" y="544.60" text-anchor="start" font-size="11.5" fill="#000">50 µm Li||4.0 mAh cm<tspan dy="-3.0" font-size="8.2">−2</tspan><tspan dy="3.0"> NMC811</tspan></text>
<text x="419.70" y="557.70" text-anchor="start" font-size="11.7" fill="#000">4.4 V, 0.1 C, N/P=2.6, −40 °C</text>
</svg></body></html>
